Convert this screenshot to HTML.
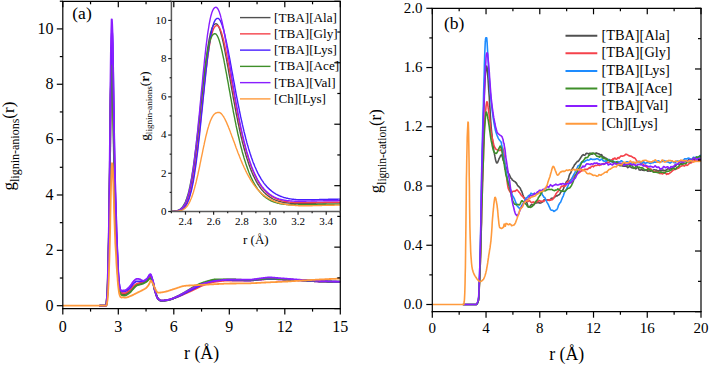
<!DOCTYPE html>
<html><head><meta charset="utf-8"><style>
html,body{margin:0;padding:0;background:#fff;width:709px;height:365px;overflow:hidden;position:relative}
</style></head><body>
<svg width="709" height="365" viewBox="0 0 709 365" style="position:absolute;left:0;top:0">
<rect width="709" height="365" fill="#fff"/>
<g font-family='"Liberation Serif", serif' fill="#000">
<g clip-path="url(#clipL)">
<polyline points="99.8,305.7 100.0,305.7 100.2,305.7 100.4,305.7 100.5,305.7 100.7,305.7 100.9,305.7 101.1,305.7 101.3,305.7 101.5,305.7 101.7,305.7 101.8,305.7 102.0,305.7 102.2,305.7 102.4,305.7 102.6,305.7 102.8,305.7 102.9,305.7 103.1,305.7 103.3,305.7 103.5,305.7 103.7,305.7 103.9,305.7 104.1,305.7 104.2,305.7 104.4,305.7 104.6,305.7 104.8,305.7 105.0,305.7 105.2,305.7 105.3,305.7 105.5,305.7 105.7,305.7 105.9,305.7 106.1,305.3 106.3,304.8 106.5,303.6 106.6,301.8 106.8,299.8 107.0,297.7 107.2,295.4 107.4,292.3 107.6,287.8 107.8,282.2 107.9,275.8 108.1,269.2 108.3,262.0 108.5,254.2 108.7,245.6 108.9,236.3 109.0,226.2 109.2,214.5 109.4,201.4 109.6,187.4 109.8,173.0 110.0,158.4 110.2,142.4 110.3,126.3 110.5,111.8 110.7,97.8 110.9,85.4 111.1,76.9 111.3,69.9 111.5,64.0 111.6,60.2 111.8,59.4 112.0,61.1 112.2,64.2 112.4,68.4 112.6,73.3 112.8,81.3 112.9,92.0 113.1,103.5 113.3,114.2 113.5,124.8 113.7,135.5 113.9,146.0 114.0,155.8 114.2,165.4 114.4,174.7 114.6,183.3 114.8,191.0 115.0,197.4 115.2,202.9 115.3,208.1 115.5,213.4 115.7,219.3 115.9,225.4 116.1,230.9 116.3,236.1 116.4,240.9 116.6,245.5 116.8,249.8 117.0,254.0 117.2,258.0 117.4,261.9 117.6,265.6 117.7,269.3 117.9,272.8 118.1,275.9 118.3,278.5 118.7,282.6 119.0,285.9 119.4,288.5 119.8,290.4 120.2,291.8 120.5,292.7 120.9,293.3 121.3,293.7 121.6,293.9 122.0,294.0 122.4,294.1 122.7,294.2 123.1,294.2 123.5,294.3 123.8,294.3 124.2,294.3 124.6,294.3 125.0,294.2 125.3,294.1 125.7,294.0 126.1,293.9 126.4,293.7 126.8,293.5 127.2,293.3 127.6,293.1 127.9,292.8 128.3,292.6 128.7,292.3 129.0,292.1 129.4,291.9 129.8,291.6 130.1,291.3 130.5,290.9 130.9,290.6 131.2,290.2 131.6,289.8 132.0,289.3 132.4,288.9 132.7,288.5 133.1,288.1 133.5,287.7 133.8,287.3 134.2,287.0 134.6,286.6 135.0,286.3 135.3,286.0 135.7,285.7 136.1,285.4 136.4,285.1 136.8,284.9 137.2,284.8 137.5,284.7 137.9,284.6 138.3,284.5 138.7,284.4 139.0,284.3 139.4,284.2 139.8,284.1 140.1,283.9 140.5,283.8 140.9,283.7 141.2,283.6 141.6,283.5 142.0,283.4 142.4,283.3 142.7,283.1 143.1,283.0 143.5,282.8 143.8,282.7 144.2,282.5 144.6,282.3 144.9,282.1 145.3,281.9 145.7,281.7 146.1,281.4 146.4,281.2 146.8,280.9 147.2,280.6 147.5,280.3 147.9,279.8 148.3,279.3 148.6,278.8 149.0,278.4 149.4,278.0 149.8,277.7 150.1,277.5 150.5,277.5 150.9,277.8 151.2,278.4 151.6,279.1 152.0,280.0 152.3,280.9 152.7,281.8 153.1,283.0 153.5,284.4 153.8,286.0 154.2,287.6 154.6,289.2 154.9,290.6 155.3,291.9 155.7,293.0 156.0,294.1 156.4,295.2 156.8,296.3 157.2,297.2 157.5,298.0 157.9,298.6 158.3,299.0 158.6,299.3 159.0,299.6 159.4,299.9 159.7,300.1 160.1,300.4 160.5,300.5 160.9,300.6 161.2,300.7 161.6,300.7 162.0,300.7 162.3,300.7 162.7,300.7 163.1,300.6 163.4,300.6 163.8,300.6 164.2,300.5 164.6,300.5 164.9,300.4 165.3,300.4 165.7,300.3 166.0,300.3 166.4,300.2 166.8,300.1 167.1,300.1 167.5,300.0 167.9,300.0 168.3,299.9 168.6,299.8 169.0,299.7 169.4,299.7 169.7,299.6 170.1,299.5 170.5,299.3 170.8,299.2 171.2,299.1 171.6,299.0 172.0,298.9 172.3,298.7 172.7,298.6 173.1,298.4 173.4,298.3 173.8,298.1 174.2,298.0 174.5,297.8 174.9,297.7 175.3,297.5 175.7,297.4 176.0,297.2 176.4,297.0 176.8,296.9 177.1,296.7 177.5,296.6 177.9,296.4 178.2,296.2 178.6,296.1 179.0,295.9 179.4,295.7 179.7,295.6 180.1,295.4 180.5,295.2 180.8,295.0 181.2,294.9 181.6,294.7 181.9,294.5 182.3,294.3 182.7,294.1 183.1,293.9 183.4,293.7 183.8,293.5 184.2,293.3 184.5,293.2 184.9,293.0 185.3,292.8 185.6,292.6 186.0,292.4 186.4,292.2 186.8,292.0 187.1,291.8 187.5,291.6 187.9,291.5 188.2,291.3 188.6,291.1 189.0,290.9 189.3,290.7 189.7,290.5 190.1,290.3 190.5,290.1 190.8,289.9 191.2,289.7 191.6,289.5 191.9,289.3 192.3,289.1 192.7,288.9 193.0,288.7 193.4,288.5 193.8,288.4 194.2,288.2 194.5,288.0 194.9,287.8 195.3,287.6 195.6,287.4 196.0,287.3 196.4,287.1 196.7,286.9 197.1,286.7 197.5,286.5 197.9,286.3 198.2,286.1 198.6,286.0 199.0,285.8 199.3,285.6 199.7,285.4 200.1,285.2 200.4,285.1 200.8,284.9 201.2,284.7 201.6,284.6 201.9,284.4 202.3,284.3 202.7,284.1 203.0,284.0 203.4,283.8 203.8,283.7 204.1,283.6 204.5,283.4 204.9,283.3 205.3,283.1 205.6,283.0 206.0,282.8 206.4,282.7 206.7,282.5 207.1,282.4 207.5,282.3 207.8,282.1 208.2,282.0 208.6,281.8 209.0,281.7 209.3,281.6 209.7,281.4 210.1,281.3 210.4,281.2 210.8,281.1 211.2,280.9 211.5,280.8 211.9,280.7 212.3,280.6 212.7,280.5 213.0,280.4 213.4,280.3 213.8,280.3 214.1,280.2 214.5,280.1 214.9,280.1 215.2,280.0 215.6,280.0 216.0,280.0 216.4,280.0 216.7,279.9 217.1,279.9 217.5,279.9 217.8,279.9 218.2,279.9 218.6,279.9 218.9,279.9 219.3,279.9 219.7,279.8 220.1,279.8 220.4,279.8 220.8,279.8 221.2,279.8 221.5,279.8 221.9,279.8 222.3,279.8 222.6,279.8 223.0,279.8 223.4,279.7 223.8,279.7 224.1,279.7 224.5,279.7 224.9,279.7 225.2,279.7 225.6,279.7 226.0,279.7 226.3,279.7 226.7,279.7 227.1,279.7 227.5,279.7 227.8,279.7 228.2,279.7 228.6,279.7 228.9,279.7 229.3,279.7 229.7,279.7 230.0,279.7 230.4,279.7 230.8,279.7 231.2,279.7 231.5,279.7 231.9,279.7 232.3,279.7 232.6,279.7 233.0,279.7 233.4,279.7 233.7,279.7 234.1,279.7 234.5,279.7 234.9,279.7 235.2,279.7 235.6,279.7 236.0,279.8 236.3,279.8 236.7,279.8 237.1,279.8 237.4,279.8 237.8,279.8 238.2,279.8 238.6,279.8 238.9,279.8 239.3,279.8 239.7,279.8 240.0,279.8 240.4,279.8 240.8,279.8 241.1,279.9 241.5,279.9 241.9,279.9 242.3,279.9 242.6,279.9 243.0,279.9 243.4,279.9 243.7,279.9 244.1,279.9 244.5,279.9 244.8,279.9 245.2,279.9 245.6,279.9 246.0,279.9 246.3,279.9 246.7,279.9 247.1,279.9 247.4,279.9 247.8,280.0 248.2,280.0 248.5,280.0 248.9,280.0 249.3,280.0 249.7,280.0 250.0,280.0 250.4,280.0 250.8,279.9 251.1,279.9 251.5,279.9 251.9,279.9 252.2,279.9 252.6,279.9 253.0,279.8 253.4,279.8 253.7,279.8 254.1,279.8 254.5,279.7 254.8,279.7 255.2,279.7 255.6,279.7 255.9,279.6 256.3,279.6 256.7,279.6 257.1,279.5 257.4,279.5 257.8,279.5 258.2,279.5 258.5,279.4 258.9,279.4 259.3,279.4 259.6,279.3 260.0,279.3 260.4,279.3 260.8,279.3 261.1,279.2 261.5,279.2 261.9,279.1 262.2,279.1 262.6,279.1 263.0,279.0 263.3,279.0 263.7,279.0 264.1,278.9 264.5,278.9 264.8,278.8 265.2,278.8 265.6,278.8 265.9,278.7 266.3,278.7 266.7,278.7 267.0,278.7 267.4,278.6 267.8,278.6 268.2,278.6 268.5,278.6 268.9,278.6 269.3,278.6 269.6,278.6 270.0,278.6 270.4,278.6 270.7,278.6 271.1,278.6 271.5,278.6 271.9,278.6 272.2,278.6 272.6,278.6 273.0,278.7 273.3,278.7 273.7,278.7 274.1,278.7 274.4,278.7 274.8,278.7 275.2,278.8 275.6,278.8 275.9,278.8 276.3,278.8 276.7,278.9 277.0,278.9 277.4,278.9 277.8,278.9 278.1,279.0 278.5,279.0 278.9,279.0 279.3,279.0 279.6,279.0 280.0,279.1 280.4,279.1 280.7,279.1 281.1,279.1 281.5,279.1 281.8,279.2 282.2,279.2 282.6,279.2 283.0,279.2 283.3,279.2 283.7,279.3 284.1,279.3 284.4,279.3 284.8,279.3 285.2,279.3 285.5,279.4 285.9,279.4 286.3,279.4 286.7,279.4 287.0,279.4 287.4,279.5 287.8,279.5 288.1,279.5 288.5,279.5 288.9,279.5 289.2,279.5 289.6,279.6 290.0,279.6 290.4,279.6 290.7,279.6 291.1,279.6 291.5,279.7 291.8,279.7 292.2,279.7 292.6,279.7 292.9,279.7 293.3,279.8 293.7,279.8 294.1,279.8 294.4,279.8 294.8,279.8 295.2,279.9 295.5,279.9 295.9,279.9 296.3,279.9 296.6,279.9 297.0,280.0 297.4,280.0 297.8,280.0 298.1,280.0 298.5,280.0 298.9,280.1 299.2,280.1 299.6,280.1 300.0,280.1 300.3,280.1 300.7,280.2 301.1,280.2 301.5,280.2 301.8,280.2 302.2,280.2 302.6,280.3 302.9,280.3 303.3,280.3 303.7,280.3 304.0,280.3 304.4,280.4 304.8,280.4 305.2,280.4 305.5,280.4 305.9,280.5 306.3,280.5 306.6,280.5 307.0,280.5 307.4,280.5 307.7,280.6 308.1,280.6 308.5,280.6 308.9,280.6 309.2,280.6 309.6,280.7 310.0,280.7 310.3,280.7 310.7,280.7 311.1,280.8 311.4,280.8 311.8,280.8 312.2,280.8 312.6,280.9 312.9,280.9 313.3,280.9 313.7,280.9 314.0,281.0 314.4,281.0 314.8,281.0 315.1,281.0 315.5,281.1 315.9,281.1 316.3,281.1 316.6,281.1 317.0,281.1 317.4,281.2 317.7,281.2 318.1,281.2 318.5,281.2 318.8,281.2 319.2,281.3 319.6,281.3 320.0,281.3 320.3,281.3 320.7,281.3 321.1,281.3 321.4,281.3 321.8,281.3 322.2,281.4 322.5,281.4 322.9,281.4 323.3,281.4 323.7,281.4 324.0,281.4 324.4,281.4 324.8,281.4 325.1,281.4 325.5,281.4 325.9,281.4 326.2,281.4 326.6,281.5 327.0,281.5 327.4,281.5 327.7,281.5 328.1,281.5 328.5,281.5 328.8,281.5 329.2,281.5 329.6,281.5 329.9,281.5 330.3,281.5 330.7,281.5 331.1,281.5 331.4,281.5 331.8,281.5 332.2,281.6 332.5,281.6 332.9,281.6 333.3,281.6 333.6,281.6 334.0,281.6 334.4,281.6 334.8,281.6 335.1,281.6 335.5,281.6 335.9,281.6 336.2,281.6 336.6,281.6 337.0,281.6 337.3,281.6 337.7,281.6 338.1,281.6 338.5,281.6 338.8,281.6 339.2,281.6 339.6,281.6 339.9,281.6 340.3,281.6" fill="none" stroke="#505050" stroke-width="1.8" stroke-linejoin="bevel" stroke-miterlimit="10" stroke-linecap="round"/>
<polyline points="99.8,305.7 100.0,305.7 100.2,305.7 100.4,305.7 100.5,305.7 100.7,305.7 100.9,305.7 101.1,305.7 101.3,305.7 101.5,305.7 101.7,305.7 101.8,305.7 102.0,305.7 102.2,305.7 102.4,305.7 102.6,305.7 102.8,305.7 102.9,305.7 103.1,305.7 103.3,305.7 103.5,305.7 103.7,305.7 103.9,305.7 104.1,305.7 104.2,305.7 104.4,305.7 104.6,305.7 104.8,305.7 105.0,305.7 105.2,305.7 105.3,305.7 105.5,305.7 105.7,305.7 105.9,305.7 106.1,305.6 106.3,305.2 106.5,304.5 106.6,303.1 106.8,301.2 107.0,299.1 107.2,296.9 107.4,294.4 107.6,290.9 107.8,285.9 107.9,279.8 108.1,273.1 108.3,266.1 108.5,258.5 108.7,250.2 108.9,241.1 109.0,231.2 109.2,220.3 109.4,207.7 109.6,193.9 109.8,179.1 110.0,164.0 110.2,148.5 110.3,131.7 110.5,115.1 110.7,100.1 110.9,85.6 111.1,73.3 111.3,65.1 111.5,58.0 111.6,52.2 111.8,48.8 112.0,48.6 112.2,50.6 112.4,54.2 112.6,58.7 112.8,64.2 112.9,73.3 113.1,84.8 113.3,96.8 113.5,107.7 113.7,118.9 113.9,130.1 114.0,141.0 114.2,151.1 114.4,161.1 114.6,170.7 114.8,179.5 115.0,187.3 115.2,193.8 115.3,199.4 115.5,204.8 115.7,210.5 115.9,216.7 116.1,223.0 116.3,228.7 116.4,234.0 116.6,239.0 116.8,243.8 117.0,248.4 117.2,252.7 117.4,256.9 117.6,261.0 117.7,264.9 117.9,268.7 118.1,272.3 118.3,275.4 118.7,280.2 119.0,284.0 119.4,286.9 119.8,289.0 120.2,290.5 120.5,291.5 120.9,292.2 121.3,292.6 121.6,292.9 122.0,293.0 122.4,293.0 122.7,293.1 123.1,293.1 123.5,293.2 123.8,293.2 124.2,293.2 124.6,293.2 125.0,293.1 125.3,293.0 125.7,292.9 126.1,292.7 126.4,292.5 126.8,292.3 127.2,292.0 127.6,291.8 127.9,291.5 128.3,291.3 128.7,291.0 129.0,290.7 129.4,290.5 129.8,290.2 130.1,289.9 130.5,289.5 130.9,289.1 131.2,288.7 131.6,288.3 132.0,287.9 132.4,287.5 132.7,287.0 133.1,286.6 133.5,286.3 133.8,285.9 134.2,285.6 134.6,285.3 135.0,285.0 135.3,284.7 135.7,284.5 136.1,284.2 136.4,284.0 136.8,283.8 137.2,283.7 137.5,283.6 137.9,283.5 138.3,283.4 138.7,283.3 139.0,283.2 139.4,283.1 139.8,282.9 140.1,282.8 140.5,282.7 140.9,282.5 141.2,282.4 141.6,282.2 142.0,282.1 142.4,281.9 142.7,281.8 143.1,281.6 143.5,281.5 143.8,281.3 144.2,281.2 144.6,281.1 144.9,280.9 145.3,280.8 145.7,280.6 146.1,280.5 146.4,280.3 146.8,280.1 147.2,279.8 147.5,279.5 147.9,279.0 148.3,278.5 148.6,278.0 149.0,277.6 149.4,277.2 149.8,276.8 150.1,276.7 150.5,276.7 150.9,277.0 151.2,277.6 151.6,278.4 152.0,279.4 152.3,280.3 152.7,281.3 153.1,282.6 153.5,284.1 153.8,285.7 154.2,287.4 154.6,289.1 154.9,290.6 155.3,291.9 155.7,293.0 156.0,294.2 156.4,295.3 156.8,296.3 157.2,297.2 157.5,298.0 157.9,298.6 158.3,299.0 158.6,299.3 159.0,299.6 159.4,299.9 159.7,300.1 160.1,300.4 160.5,300.5 160.9,300.6 161.2,300.7 161.6,300.7 162.0,300.7 162.3,300.7 162.7,300.7 163.1,300.6 163.4,300.6 163.8,300.6 164.2,300.5 164.6,300.5 164.9,300.4 165.3,300.4 165.7,300.3 166.0,300.3 166.4,300.2 166.8,300.1 167.1,300.1 167.5,300.0 167.9,300.0 168.3,299.9 168.6,299.8 169.0,299.7 169.4,299.7 169.7,299.6 170.1,299.5 170.5,299.4 170.8,299.3 171.2,299.2 171.6,299.0 172.0,298.9 172.3,298.8 172.7,298.7 173.1,298.5 173.4,298.4 173.8,298.3 174.2,298.1 174.5,298.0 174.9,297.8 175.3,297.7 175.7,297.5 176.0,297.4 176.4,297.3 176.8,297.1 177.1,297.0 177.5,296.8 177.9,296.7 178.2,296.6 178.6,296.4 179.0,296.3 179.4,296.1 179.7,296.0 180.1,295.8 180.5,295.7 180.8,295.5 181.2,295.4 181.6,295.2 181.9,295.1 182.3,294.9 182.7,294.7 183.1,294.6 183.4,294.4 183.8,294.2 184.2,294.1 184.5,293.9 184.9,293.8 185.3,293.6 185.6,293.4 186.0,293.3 186.4,293.1 186.8,292.9 187.1,292.8 187.5,292.6 187.9,292.4 188.2,292.3 188.6,292.1 189.0,291.9 189.3,291.8 189.7,291.6 190.1,291.4 190.5,291.3 190.8,291.1 191.2,290.9 191.6,290.7 191.9,290.6 192.3,290.4 192.7,290.2 193.0,290.0 193.4,289.9 193.8,289.7 194.2,289.5 194.5,289.3 194.9,289.2 195.3,289.0 195.6,288.8 196.0,288.7 196.4,288.5 196.7,288.3 197.1,288.1 197.5,287.9 197.9,287.7 198.2,287.5 198.6,287.4 199.0,287.2 199.3,287.0 199.7,286.8 200.1,286.6 200.4,286.5 200.8,286.3 201.2,286.1 201.6,286.0 201.9,285.8 202.3,285.6 202.7,285.5 203.0,285.4 203.4,285.2 203.8,285.1 204.1,285.0 204.5,284.8 204.9,284.7 205.3,284.6 205.6,284.4 206.0,284.3 206.4,284.2 206.7,284.1 207.1,283.9 207.5,283.8 207.8,283.7 208.2,283.6 208.6,283.5 209.0,283.3 209.3,283.2 209.7,283.1 210.1,283.0 210.4,282.9 210.8,282.8 211.2,282.7 211.5,282.6 211.9,282.5 212.3,282.4 212.7,282.3 213.0,282.2 213.4,282.1 213.8,282.1 214.1,282.0 214.5,281.9 214.9,281.8 215.2,281.8 215.6,281.7 216.0,281.7 216.4,281.6 216.7,281.6 217.1,281.5 217.5,281.5 217.8,281.4 218.2,281.4 218.6,281.3 218.9,281.3 219.3,281.2 219.7,281.2 220.1,281.2 220.4,281.1 220.8,281.1 221.2,281.0 221.5,281.0 221.9,280.9 222.3,280.9 222.6,280.9 223.0,280.8 223.4,280.8 223.8,280.8 224.1,280.7 224.5,280.7 224.9,280.7 225.2,280.7 225.6,280.6 226.0,280.6 226.3,280.6 226.7,280.6 227.1,280.6 227.5,280.5 227.8,280.5 228.2,280.5 228.6,280.5 228.9,280.5 229.3,280.5 229.7,280.5 230.0,280.5 230.4,280.5 230.8,280.5 231.2,280.5 231.5,280.5 231.9,280.5 232.3,280.5 232.6,280.5 233.0,280.5 233.4,280.5 233.7,280.5 234.1,280.5 234.5,280.5 234.9,280.5 235.2,280.5 235.6,280.5 236.0,280.5 236.3,280.5 236.7,280.5 237.1,280.5 237.4,280.5 237.8,280.5 238.2,280.5 238.6,280.5 238.9,280.5 239.3,280.5 239.7,280.5 240.0,280.5 240.4,280.5 240.8,280.5 241.1,280.5 241.5,280.5 241.9,280.5 242.3,280.5 242.6,280.5 243.0,280.5 243.4,280.5 243.7,280.5 244.1,280.5 244.5,280.5 244.8,280.5 245.2,280.5 245.6,280.5 246.0,280.5 246.3,280.5 246.7,280.5 247.1,280.5 247.4,280.5 247.8,280.5 248.2,280.5 248.5,280.5 248.9,280.5 249.3,280.5 249.7,280.5 250.0,280.5 250.4,280.5 250.8,280.5 251.1,280.5 251.5,280.4 251.9,280.4 252.2,280.4 252.6,280.4 253.0,280.3 253.4,280.3 253.7,280.2 254.1,280.2 254.5,280.2 254.8,280.1 255.2,280.1 255.6,280.0 255.9,280.0 256.3,279.9 256.7,279.9 257.1,279.8 257.4,279.8 257.8,279.8 258.2,279.7 258.5,279.7 258.9,279.7 259.3,279.7 259.6,279.6 260.0,279.6 260.4,279.6 260.8,279.6 261.1,279.5 261.5,279.5 261.9,279.5 262.2,279.4 262.6,279.4 263.0,279.4 263.3,279.4 263.7,279.4 264.1,279.3 264.5,279.3 264.8,279.3 265.2,279.3 265.6,279.2 265.9,279.2 266.3,279.2 266.7,279.2 267.0,279.2 267.4,279.2 267.8,279.2 268.2,279.1 268.5,279.1 268.9,279.1 269.3,279.1 269.6,279.1 270.0,279.1 270.4,279.1 270.7,279.1 271.1,279.1 271.5,279.1 271.9,279.1 272.2,279.1 272.6,279.2 273.0,279.2 273.3,279.2 273.7,279.2 274.1,279.2 274.4,279.2 274.8,279.2 275.2,279.2 275.6,279.2 275.9,279.2 276.3,279.2 276.7,279.3 277.0,279.3 277.4,279.3 277.8,279.3 278.1,279.3 278.5,279.3 278.9,279.3 279.3,279.3 279.6,279.4 280.0,279.4 280.4,279.4 280.7,279.4 281.1,279.4 281.5,279.4 281.8,279.4 282.2,279.4 282.6,279.5 283.0,279.5 283.3,279.5 283.7,279.5 284.1,279.5 284.4,279.5 284.8,279.5 285.2,279.6 285.5,279.6 285.9,279.6 286.3,279.6 286.7,279.6 287.0,279.6 287.4,279.7 287.8,279.7 288.1,279.7 288.5,279.7 288.9,279.7 289.2,279.8 289.6,279.8 290.0,279.8 290.4,279.8 290.7,279.8 291.1,279.9 291.5,279.9 291.8,279.9 292.2,279.9 292.6,279.9 292.9,280.0 293.3,280.0 293.7,280.0 294.1,280.0 294.4,280.0 294.8,280.1 295.2,280.1 295.5,280.1 295.9,280.1 296.3,280.2 296.6,280.2 297.0,280.2 297.4,280.2 297.8,280.2 298.1,280.3 298.5,280.3 298.9,280.3 299.2,280.3 299.6,280.4 300.0,280.4 300.3,280.4 300.7,280.4 301.1,280.4 301.5,280.5 301.8,280.5 302.2,280.5 302.6,280.5 302.9,280.6 303.3,280.6 303.7,280.6 304.0,280.6 304.4,280.6 304.8,280.7 305.2,280.7 305.5,280.7 305.9,280.7 306.3,280.7 306.6,280.8 307.0,280.8 307.4,280.8 307.7,280.8 308.1,280.9 308.5,280.9 308.9,280.9 309.2,280.9 309.6,280.9 310.0,281.0 310.3,281.0 310.7,281.0 311.1,281.0 311.4,281.1 311.8,281.1 312.2,281.1 312.6,281.1 312.9,281.2 313.3,281.2 313.7,281.2 314.0,281.2 314.4,281.3 314.8,281.3 315.1,281.3 315.5,281.3 315.9,281.4 316.3,281.4 316.6,281.4 317.0,281.4 317.4,281.4 317.7,281.5 318.1,281.5 318.5,281.5 318.8,281.5 319.2,281.5 319.6,281.5 320.0,281.6 320.3,281.6 320.7,281.6 321.1,281.6 321.4,281.6 321.8,281.6 322.2,281.6 322.5,281.6 322.9,281.6 323.3,281.7 323.7,281.7 324.0,281.7 324.4,281.7 324.8,281.7 325.1,281.7 325.5,281.7 325.9,281.7 326.2,281.7 326.6,281.7 327.0,281.7 327.4,281.7 327.7,281.8 328.1,281.8 328.5,281.8 328.8,281.8 329.2,281.8 329.6,281.8 329.9,281.8 330.3,281.8 330.7,281.8 331.1,281.8 331.4,281.8 331.8,281.8 332.2,281.8 332.5,281.8 332.9,281.8 333.3,281.8 333.6,281.9 334.0,281.9 334.4,281.9 334.8,281.9 335.1,281.9 335.5,281.9 335.9,281.9 336.2,281.9 336.6,281.9 337.0,281.9 337.3,281.9 337.7,281.9 338.1,281.9 338.5,281.9 338.8,281.9 339.2,281.9 339.6,281.9 339.9,281.9 340.3,281.9" fill="none" stroke="#F5424B" stroke-width="1.8" stroke-linejoin="bevel" stroke-miterlimit="10" stroke-linecap="round"/>
<polyline points="99.8,305.7 100.0,305.7 100.2,305.7 100.4,305.7 100.5,305.7 100.7,305.7 100.9,305.7 101.1,305.7 101.3,305.7 101.5,305.7 101.7,305.7 101.8,305.7 102.0,305.7 102.2,305.7 102.4,305.7 102.6,305.7 102.8,305.7 102.9,305.7 103.1,305.7 103.3,305.7 103.5,305.7 103.7,305.7 103.9,305.7 104.1,305.7 104.2,305.7 104.4,305.7 104.6,305.7 104.8,305.7 105.0,305.7 105.2,305.7 105.3,305.7 105.5,305.7 105.7,305.7 105.9,305.7 106.1,305.7 106.3,305.4 106.5,304.9 106.6,303.8 106.8,302.0 107.0,299.8 107.2,297.5 107.4,295.1 107.6,292.0 107.8,287.5 107.9,281.5 108.1,274.6 108.3,267.3 108.5,259.6 108.7,251.1 108.9,241.8 109.0,231.7 109.2,220.8 109.4,208.3 109.6,194.2 109.8,178.9 110.0,162.9 110.2,146.8 110.3,129.5 110.5,111.4 110.7,94.7 110.9,79.0 111.1,64.4 111.3,53.6 111.5,45.7 111.6,38.6 111.8,33.6 112.0,31.7 112.2,32.8 112.4,35.9 112.6,40.3 112.8,45.4 112.9,53.0 113.1,64.3 113.3,77.0 113.5,89.2 113.7,100.9 113.9,112.8 114.0,124.7 114.2,135.8 114.4,146.5 114.6,156.9 114.8,166.8 115.0,175.7 115.2,183.2 115.3,189.6 115.5,195.4 115.7,201.2 115.9,207.6 116.1,214.3 116.3,220.8 116.4,226.6 116.6,232.1 116.8,237.4 117.0,242.4 117.2,247.2 117.4,251.8 117.6,256.2 117.7,260.4 117.9,264.5 118.1,268.5 118.3,272.1 118.7,277.6 119.0,281.8 119.4,285.0 119.8,287.3 120.2,288.9 120.5,290.0 120.9,290.7 121.3,291.1 121.6,291.3 122.0,291.3 122.4,291.3 122.7,291.3 123.1,291.3 123.5,291.2 123.8,291.3 124.2,291.3 124.6,291.3 125.0,291.2 125.3,291.1 125.7,290.9 126.1,290.8 126.4,290.6 126.8,290.4 127.2,290.1 127.6,289.9 127.9,289.6 128.3,289.4 128.7,289.1 129.0,288.8 129.4,288.5 129.8,288.2 130.1,287.9 130.5,287.4 130.9,287.0 131.2,286.4 131.6,285.9 132.0,285.4 132.4,284.9 132.7,284.4 133.1,283.9 133.5,283.5 133.8,283.2 134.2,282.9 134.6,282.6 135.0,282.3 135.3,282.0 135.7,281.7 136.1,281.5 136.4,281.4 136.8,281.3 137.2,281.3 137.5,281.3 137.9,281.3 138.3,281.3 138.7,281.3 139.0,281.3 139.4,281.3 139.8,281.3 140.1,281.3 140.5,281.3 140.9,281.3 141.2,281.3 141.6,281.3 142.0,281.3 142.4,281.3 142.7,281.3 143.1,281.3 143.5,281.3 143.8,281.2 144.2,281.1 144.6,280.9 144.9,280.7 145.3,280.4 145.7,280.2 146.1,279.9 146.4,279.6 146.8,279.3 147.2,279.0 147.5,278.5 147.9,277.9 148.3,277.2 148.6,276.6 149.0,275.9 149.4,275.4 149.8,275.0 150.1,274.7 150.5,274.8 150.9,275.2 151.2,276.0 151.6,277.0 152.0,278.2 152.3,279.4 152.7,280.6 153.1,282.0 153.5,283.6 153.8,285.4 154.2,287.2 154.6,289.0 154.9,290.5 155.3,291.9 155.7,293.0 156.0,294.2 156.4,295.3 156.8,296.3 157.2,297.2 157.5,298.0 157.9,298.6 158.3,299.0 158.6,299.3 159.0,299.6 159.4,299.9 159.7,300.1 160.1,300.4 160.5,300.5 160.9,300.6 161.2,300.7 161.6,300.7 162.0,300.7 162.3,300.7 162.7,300.7 163.1,300.6 163.4,300.6 163.8,300.6 164.2,300.5 164.6,300.5 164.9,300.4 165.3,300.4 165.7,300.3 166.0,300.3 166.4,300.2 166.8,300.1 167.1,300.1 167.5,300.0 167.9,300.0 168.3,299.9 168.6,299.8 169.0,299.7 169.4,299.7 169.7,299.6 170.1,299.5 170.5,299.4 170.8,299.3 171.2,299.2 171.6,299.1 172.0,298.9 172.3,298.8 172.7,298.7 173.1,298.6 173.4,298.4 173.8,298.3 174.2,298.1 174.5,298.0 174.9,297.9 175.3,297.7 175.7,297.6 176.0,297.4 176.4,297.3 176.8,297.1 177.1,297.0 177.5,296.8 177.9,296.7 178.2,296.5 178.6,296.4 179.0,296.2 179.4,296.0 179.7,295.9 180.1,295.7 180.5,295.5 180.8,295.3 181.2,295.2 181.6,295.0 181.9,294.8 182.3,294.6 182.7,294.4 183.1,294.2 183.4,294.0 183.8,293.8 184.2,293.6 184.5,293.4 184.9,293.2 185.3,293.1 185.6,292.9 186.0,292.7 186.4,292.5 186.8,292.3 187.1,292.1 187.5,291.9 187.9,291.7 188.2,291.5 188.6,291.3 189.0,291.1 189.3,291.0 189.7,290.8 190.1,290.6 190.5,290.4 190.8,290.2 191.2,290.0 191.6,289.8 191.9,289.6 192.3,289.4 192.7,289.2 193.0,289.0 193.4,288.8 193.8,288.6 194.2,288.4 194.5,288.3 194.9,288.1 195.3,287.9 195.6,287.7 196.0,287.5 196.4,287.3 196.7,287.2 197.1,287.0 197.5,286.8 197.9,286.6 198.2,286.4 198.6,286.2 199.0,286.1 199.3,285.9 199.7,285.7 200.1,285.5 200.4,285.4 200.8,285.2 201.2,285.0 201.6,284.9 201.9,284.7 202.3,284.5 202.7,284.4 203.0,284.2 203.4,284.1 203.8,284.0 204.1,283.8 204.5,283.7 204.9,283.5 205.3,283.4 205.6,283.2 206.0,283.1 206.4,282.9 206.7,282.8 207.1,282.6 207.5,282.5 207.8,282.3 208.2,282.2 208.6,282.1 209.0,281.9 209.3,281.8 209.7,281.6 210.1,281.5 210.4,281.4 210.8,281.3 211.2,281.1 211.5,281.0 211.9,280.9 212.3,280.8 212.7,280.7 213.0,280.6 213.4,280.6 213.8,280.5 214.1,280.4 214.5,280.4 214.9,280.3 215.2,280.3 215.6,280.3 216.0,280.2 216.4,280.2 216.7,280.2 217.1,280.2 217.5,280.2 217.8,280.2 218.2,280.2 218.6,280.2 218.9,280.2 219.3,280.2 219.7,280.2 220.1,280.2 220.4,280.2 220.8,280.2 221.2,280.2 221.5,280.2 221.9,280.2 222.3,280.2 222.6,280.2 223.0,280.2 223.4,280.2 223.8,280.2 224.1,280.2 224.5,280.2 224.9,280.2 225.2,280.2 225.6,280.2 226.0,280.2 226.3,280.2 226.7,280.2 227.1,280.2 227.5,280.2 227.8,280.2 228.2,280.2 228.6,280.2 228.9,280.2 229.3,280.2 229.7,280.2 230.0,280.2 230.4,280.2 230.8,280.2 231.2,280.2 231.5,280.2 231.9,280.2 232.3,280.3 232.6,280.3 233.0,280.3 233.4,280.3 233.7,280.3 234.1,280.3 234.5,280.3 234.9,280.3 235.2,280.3 235.6,280.3 236.0,280.3 236.3,280.3 236.7,280.3 237.1,280.3 237.4,280.3 237.8,280.3 238.2,280.3 238.6,280.4 238.9,280.4 239.3,280.4 239.7,280.4 240.0,280.4 240.4,280.4 240.8,280.4 241.1,280.4 241.5,280.4 241.9,280.4 242.3,280.4 242.6,280.4 243.0,280.4 243.4,280.4 243.7,280.5 244.1,280.5 244.5,280.5 244.8,280.5 245.2,280.5 245.6,280.5 246.0,280.5 246.3,280.5 246.7,280.5 247.1,280.5 247.4,280.5 247.8,280.5 248.2,280.5 248.5,280.5 248.9,280.5 249.3,280.5 249.7,280.5 250.0,280.5 250.4,280.5 250.8,280.5 251.1,280.5 251.5,280.4 251.9,280.4 252.2,280.4 252.6,280.4 253.0,280.3 253.4,280.3 253.7,280.2 254.1,280.2 254.5,280.2 254.8,280.1 255.2,280.1 255.6,280.0 255.9,280.0 256.3,279.9 256.7,279.9 257.1,279.9 257.4,279.8 257.8,279.8 258.2,279.7 258.5,279.7 258.9,279.7 259.3,279.7 259.6,279.6 260.0,279.6 260.4,279.6 260.8,279.5 261.1,279.5 261.5,279.5 261.9,279.4 262.2,279.4 262.6,279.4 263.0,279.3 263.3,279.3 263.7,279.3 264.1,279.2 264.5,279.2 264.8,279.2 265.2,279.2 265.6,279.1 265.9,279.1 266.3,279.1 266.7,279.1 267.0,279.1 267.4,279.0 267.8,279.0 268.2,279.0 268.5,279.0 268.9,279.0 269.3,279.0 269.6,279.0 270.0,279.0 270.4,279.0 270.7,279.0 271.1,279.0 271.5,279.0 271.9,279.0 272.2,279.0 272.6,279.0 273.0,279.0 273.3,279.1 273.7,279.1 274.1,279.1 274.4,279.1 274.8,279.1 275.2,279.1 275.6,279.1 275.9,279.2 276.3,279.2 276.7,279.2 277.0,279.2 277.4,279.2 277.8,279.2 278.1,279.3 278.5,279.3 278.9,279.3 279.3,279.3 279.6,279.3 280.0,279.4 280.4,279.4 280.7,279.4 281.1,279.4 281.5,279.4 281.8,279.4 282.2,279.5 282.6,279.5 283.0,279.5 283.3,279.5 283.7,279.5 284.1,279.5 284.4,279.6 284.8,279.6 285.2,279.6 285.5,279.6 285.9,279.6 286.3,279.6 286.7,279.7 287.0,279.7 287.4,279.7 287.8,279.7 288.1,279.7 288.5,279.8 288.9,279.8 289.2,279.8 289.6,279.8 290.0,279.8 290.4,279.9 290.7,279.9 291.1,279.9 291.5,279.9 291.8,279.9 292.2,280.0 292.6,280.0 292.9,280.0 293.3,280.0 293.7,280.0 294.1,280.1 294.4,280.1 294.8,280.1 295.2,280.1 295.5,280.1 295.9,280.2 296.3,280.2 296.6,280.2 297.0,280.2 297.4,280.2 297.8,280.3 298.1,280.3 298.5,280.3 298.9,280.3 299.2,280.3 299.6,280.4 300.0,280.4 300.3,280.4 300.7,280.4 301.1,280.5 301.5,280.5 301.8,280.5 302.2,280.5 302.6,280.5 302.9,280.6 303.3,280.6 303.7,280.6 304.0,280.6 304.4,280.6 304.8,280.7 305.2,280.7 305.5,280.7 305.9,280.7 306.3,280.7 306.6,280.8 307.0,280.8 307.4,280.8 307.7,280.8 308.1,280.9 308.5,280.9 308.9,280.9 309.2,280.9 309.6,280.9 310.0,281.0 310.3,281.0 310.7,281.0 311.1,281.0 311.4,281.1 311.8,281.1 312.2,281.1 312.6,281.1 312.9,281.2 313.3,281.2 313.7,281.2 314.0,281.2 314.4,281.3 314.8,281.3 315.1,281.3 315.5,281.3 315.9,281.4 316.3,281.4 316.6,281.4 317.0,281.4 317.4,281.4 317.7,281.5 318.1,281.5 318.5,281.5 318.8,281.5 319.2,281.5 319.6,281.5 320.0,281.6 320.3,281.6 320.7,281.6 321.1,281.6 321.4,281.6 321.8,281.6 322.2,281.6 322.5,281.6 322.9,281.6 323.3,281.7 323.7,281.7 324.0,281.7 324.4,281.7 324.8,281.7 325.1,281.7 325.5,281.7 325.9,281.7 326.2,281.7 326.6,281.7 327.0,281.7 327.4,281.7 327.7,281.8 328.1,281.8 328.5,281.8 328.8,281.8 329.2,281.8 329.6,281.8 329.9,281.8 330.3,281.8 330.7,281.8 331.1,281.8 331.4,281.8 331.8,281.8 332.2,281.8 332.5,281.8 332.9,281.8 333.3,281.8 333.6,281.9 334.0,281.9 334.4,281.9 334.8,281.9 335.1,281.9 335.5,281.9 335.9,281.9 336.2,281.9 336.6,281.9 337.0,281.9 337.3,281.9 337.7,281.9 338.1,281.9 338.5,281.9 338.8,281.9 339.2,281.9 339.6,281.9 339.9,281.9 340.3,281.9" fill="none" stroke="#481EFF" stroke-width="1.8" stroke-linejoin="bevel" stroke-miterlimit="10" stroke-linecap="round"/>
<polyline points="99.8,305.7 100.0,305.7 100.2,305.7 100.4,305.7 100.5,305.7 100.7,305.7 100.9,305.7 101.1,305.7 101.3,305.7 101.5,305.7 101.7,305.7 101.8,305.7 102.0,305.7 102.2,305.7 102.4,305.7 102.6,305.7 102.8,305.7 102.9,305.7 103.1,305.7 103.3,305.7 103.5,305.7 103.7,305.7 103.9,305.7 104.1,305.7 104.2,305.7 104.4,305.7 104.6,305.7 104.8,305.7 105.0,305.7 105.2,305.7 105.3,305.7 105.5,305.7 105.7,305.7 105.9,305.5 106.1,305.0 106.3,304.0 106.5,302.4 106.6,300.5 106.8,298.5 107.0,296.4 107.2,293.7 107.4,289.7 107.6,284.5 107.8,278.4 107.9,272.0 108.1,265.2 108.3,257.7 108.5,249.6 108.7,240.7 108.9,231.0 109.0,220.1 109.2,207.7 109.4,194.3 109.6,180.2 109.8,166.0 110.0,150.9 110.2,135.0 110.3,120.3 110.5,106.5 110.7,93.6 110.9,84.1 111.1,77.2 111.3,71.0 111.5,66.6 111.6,64.9 111.8,65.9 112.0,68.6 112.2,72.5 112.4,76.9 112.6,83.7 112.8,93.5 112.9,104.7 113.1,115.5 113.3,125.7 113.5,136.2 113.7,146.6 113.9,156.4 114.0,165.8 114.2,175.0 114.4,183.6 114.6,191.5 114.8,198.1 115.0,203.7 115.2,208.8 115.3,213.9 115.5,219.5 115.7,225.4 115.9,231.0 116.1,236.2 116.3,241.0 116.4,245.5 116.6,249.7 116.8,253.8 117.0,257.8 117.2,261.6 117.4,265.3 117.6,268.9 117.7,272.5 117.9,275.7 118.1,278.3 118.3,280.5 118.7,284.4 119.0,287.4 119.4,289.7 119.8,291.5 120.2,292.8 120.5,293.7 120.9,294.3 121.3,294.7 121.6,294.9 122.0,295.1 122.4,295.3 122.7,295.4 123.1,295.5 123.5,295.6 123.8,295.7 124.2,295.7 124.6,295.7 125.0,295.6 125.3,295.5 125.7,295.4 126.1,295.2 126.4,295.0 126.8,294.8 127.2,294.5 127.6,294.3 127.9,294.0 128.3,293.8 128.7,293.5 129.0,293.2 129.4,293.0 129.8,292.7 130.1,292.4 130.5,292.0 130.9,291.6 131.2,291.2 131.6,290.7 132.0,290.3 132.4,289.8 132.7,289.4 133.1,289.0 133.5,288.6 133.8,288.2 134.2,287.8 134.6,287.4 135.0,287.0 135.3,286.7 135.7,286.3 136.1,286.0 136.4,285.7 136.8,285.5 137.2,285.3 137.5,285.2 137.9,285.1 138.3,285.0 138.7,284.9 139.0,284.8 139.4,284.7 139.8,284.6 140.1,284.5 140.5,284.4 140.9,284.3 141.2,284.2 141.6,284.1 142.0,284.0 142.4,283.8 142.7,283.7 143.1,283.6 143.5,283.4 143.8,283.2 144.2,283.0 144.6,282.9 144.9,282.6 145.3,282.4 145.7,282.2 146.1,282.0 146.4,281.7 146.8,281.5 147.2,281.2 147.5,280.8 147.9,280.4 148.3,280.0 148.6,279.5 149.0,279.1 149.4,278.7 149.8,278.5 150.1,278.3 150.5,278.3 150.9,278.6 151.2,279.2 151.6,279.8 152.0,280.6 152.3,281.5 152.7,282.3 153.1,283.5 153.5,284.8 153.8,286.2 154.2,287.8 154.6,289.3 154.9,290.7 155.3,291.9 155.7,293.0 156.0,294.1 156.4,295.2 156.8,296.2 157.2,297.2 157.5,297.9 157.9,298.6 158.3,299.0 158.6,299.4 159.0,299.7 159.4,300.0 159.7,300.3 160.1,300.6 160.5,300.8 160.9,300.9 161.2,301.0 161.6,301.0 162.0,301.0 162.3,301.0 162.7,301.0 163.1,300.9 163.4,300.9 163.8,300.9 164.2,300.8 164.6,300.8 164.9,300.7 165.3,300.7 165.7,300.6 166.0,300.6 166.4,300.5 166.8,300.4 167.1,300.4 167.5,300.3 167.9,300.2 168.3,300.2 168.6,300.1 169.0,300.0 169.4,299.9 169.7,299.8 170.1,299.7 170.5,299.6 170.8,299.4 171.2,299.3 171.6,299.1 172.0,299.0 172.3,298.8 172.7,298.7 173.1,298.5 173.4,298.3 173.8,298.1 174.2,297.9 174.5,297.8 174.9,297.6 175.3,297.4 175.7,297.2 176.0,297.0 176.4,296.8 176.8,296.6 177.1,296.5 177.5,296.3 177.9,296.1 178.2,295.9 178.6,295.7 179.0,295.5 179.4,295.3 179.7,295.2 180.1,295.0 180.5,294.7 180.8,294.5 181.2,294.3 181.6,294.1 181.9,293.9 182.3,293.7 182.7,293.5 183.1,293.3 183.4,293.0 183.8,292.8 184.2,292.6 184.5,292.4 184.9,292.2 185.3,292.0 185.6,291.8 186.0,291.5 186.4,291.3 186.8,291.1 187.1,290.9 187.5,290.6 187.9,290.4 188.2,290.2 188.6,289.9 189.0,289.7 189.3,289.5 189.7,289.2 190.1,289.0 190.5,288.7 190.8,288.5 191.2,288.3 191.6,288.0 191.9,287.8 192.3,287.6 192.7,287.4 193.0,287.2 193.4,286.9 193.8,286.7 194.2,286.5 194.5,286.3 194.9,286.1 195.3,286.0 195.6,285.8 196.0,285.6 196.4,285.4 196.7,285.2 197.1,285.0 197.5,284.9 197.9,284.7 198.2,284.5 198.6,284.3 199.0,284.2 199.3,284.0 199.7,283.8 200.1,283.7 200.4,283.5 200.8,283.4 201.2,283.2 201.6,283.1 201.9,283.0 202.3,282.8 202.7,282.7 203.0,282.6 203.4,282.4 203.8,282.3 204.1,282.2 204.5,282.1 204.9,282.0 205.3,281.9 205.6,281.7 206.0,281.6 206.4,281.5 206.7,281.4 207.1,281.3 207.5,281.1 207.8,281.0 208.2,280.9 208.6,280.8 209.0,280.7 209.3,280.6 209.7,280.5 210.1,280.4 210.4,280.3 210.8,280.2 211.2,280.1 211.5,280.0 211.9,279.9 212.3,279.8 212.7,279.8 213.0,279.7 213.4,279.6 213.8,279.6 214.1,279.5 214.5,279.5 214.9,279.5 215.2,279.4 215.6,279.4 216.0,279.4 216.4,279.4 216.7,279.4 217.1,279.4 217.5,279.4 217.8,279.4 218.2,279.4 218.6,279.4 218.9,279.4 219.3,279.4 219.7,279.4 220.1,279.4 220.4,279.4 220.8,279.4 221.2,279.4 221.5,279.4 221.9,279.4 222.3,279.4 222.6,279.4 223.0,279.4 223.4,279.4 223.8,279.4 224.1,279.4 224.5,279.4 224.9,279.4 225.2,279.4 225.6,279.4 226.0,279.4 226.3,279.4 226.7,279.4 227.1,279.4 227.5,279.4 227.8,279.4 228.2,279.4 228.6,279.4 228.9,279.4 229.3,279.4 229.7,279.4 230.0,279.4 230.4,279.4 230.8,279.4 231.2,279.4 231.5,279.4 231.9,279.4 232.3,279.4 232.6,279.4 233.0,279.5 233.4,279.5 233.7,279.5 234.1,279.5 234.5,279.5 234.9,279.5 235.2,279.5 235.6,279.5 236.0,279.5 236.3,279.6 236.7,279.6 237.1,279.6 237.4,279.6 237.8,279.6 238.2,279.6 238.6,279.6 238.9,279.7 239.3,279.7 239.7,279.7 240.0,279.7 240.4,279.7 240.8,279.7 241.1,279.7 241.5,279.8 241.9,279.8 242.3,279.8 242.6,279.8 243.0,279.8 243.4,279.8 243.7,279.8 244.1,279.9 244.5,279.9 244.8,279.9 245.2,279.9 245.6,279.9 246.0,279.9 246.3,279.9 246.7,279.9 247.1,279.9 247.4,279.9 247.8,279.9 248.2,279.9 248.5,280.0 248.9,280.0 249.3,280.0 249.7,280.0 250.0,280.0 250.4,279.9 250.8,279.9 251.1,279.9 251.5,279.9 251.9,279.9 252.2,279.9 252.6,279.8 253.0,279.8 253.4,279.8 253.7,279.7 254.1,279.7 254.5,279.7 254.8,279.6 255.2,279.6 255.6,279.6 255.9,279.5 256.3,279.5 256.7,279.5 257.1,279.4 257.4,279.4 257.8,279.4 258.2,279.3 258.5,279.3 258.9,279.3 259.3,279.2 259.6,279.2 260.0,279.2 260.4,279.2 260.8,279.1 261.1,279.1 261.5,279.1 261.9,279.0 262.2,279.0 262.6,279.0 263.0,278.9 263.3,278.9 263.7,278.9 264.1,278.8 264.5,278.8 264.8,278.8 265.2,278.8 265.6,278.7 265.9,278.7 266.3,278.7 266.7,278.7 267.0,278.6 267.4,278.6 267.8,278.6 268.2,278.6 268.5,278.6 268.9,278.6 269.3,278.6 269.6,278.6 270.0,278.6 270.4,278.6 270.7,278.6 271.1,278.6 271.5,278.6 271.9,278.6 272.2,278.6 272.6,278.6 273.0,278.7 273.3,278.7 273.7,278.7 274.1,278.7 274.4,278.7 274.8,278.7 275.2,278.8 275.6,278.8 275.9,278.8 276.3,278.8 276.7,278.9 277.0,278.9 277.4,278.9 277.8,278.9 278.1,279.0 278.5,279.0 278.9,279.0 279.3,279.0 279.6,279.0 280.0,279.1 280.4,279.1 280.7,279.1 281.1,279.1 281.5,279.1 281.8,279.2 282.2,279.2 282.6,279.2 283.0,279.2 283.3,279.2 283.7,279.3 284.1,279.3 284.4,279.3 284.8,279.3 285.2,279.3 285.5,279.4 285.9,279.4 286.3,279.4 286.7,279.4 287.0,279.4 287.4,279.5 287.8,279.5 288.1,279.5 288.5,279.5 288.9,279.5 289.2,279.5 289.6,279.6 290.0,279.6 290.4,279.6 290.7,279.6 291.1,279.6 291.5,279.7 291.8,279.7 292.2,279.7 292.6,279.7 292.9,279.7 293.3,279.8 293.7,279.8 294.1,279.8 294.4,279.8 294.8,279.8 295.2,279.9 295.5,279.9 295.9,279.9 296.3,279.9 296.6,279.9 297.0,280.0 297.4,280.0 297.8,280.0 298.1,280.0 298.5,280.0 298.9,280.1 299.2,280.1 299.6,280.1 300.0,280.1 300.3,280.1 300.7,280.2 301.1,280.2 301.5,280.2 301.8,280.2 302.2,280.2 302.6,280.3 302.9,280.3 303.3,280.3 303.7,280.3 304.0,280.3 304.4,280.4 304.8,280.4 305.2,280.4 305.5,280.4 305.9,280.5 306.3,280.5 306.6,280.5 307.0,280.5 307.4,280.5 307.7,280.6 308.1,280.6 308.5,280.6 308.9,280.6 309.2,280.6 309.6,280.7 310.0,280.7 310.3,280.7 310.7,280.7 311.1,280.8 311.4,280.8 311.8,280.8 312.2,280.8 312.6,280.9 312.9,280.9 313.3,280.9 313.7,280.9 314.0,281.0 314.4,281.0 314.8,281.0 315.1,281.0 315.5,281.1 315.9,281.1 316.3,281.1 316.6,281.1 317.0,281.1 317.4,281.2 317.7,281.2 318.1,281.2 318.5,281.2 318.8,281.2 319.2,281.3 319.6,281.3 320.0,281.3 320.3,281.3 320.7,281.3 321.1,281.3 321.4,281.3 321.8,281.3 322.2,281.4 322.5,281.4 322.9,281.4 323.3,281.4 323.7,281.4 324.0,281.4 324.4,281.4 324.8,281.4 325.1,281.4 325.5,281.4 325.9,281.4 326.2,281.4 326.6,281.5 327.0,281.5 327.4,281.5 327.7,281.5 328.1,281.5 328.5,281.5 328.8,281.5 329.2,281.5 329.6,281.5 329.9,281.5 330.3,281.5 330.7,281.5 331.1,281.5 331.4,281.5 331.8,281.5 332.2,281.6 332.5,281.6 332.9,281.6 333.3,281.6 333.6,281.6 334.0,281.6 334.4,281.6 334.8,281.6 335.1,281.6 335.5,281.6 335.9,281.6 336.2,281.6 336.6,281.6 337.0,281.6 337.3,281.6 337.7,281.6 338.1,281.6 338.5,281.6 338.8,281.6 339.2,281.6 339.6,281.6 339.9,281.6 340.3,281.6" fill="none" stroke="#3F8F2A" stroke-width="1.8" stroke-linejoin="bevel" stroke-miterlimit="10" stroke-linecap="round"/>
<polyline points="99.8,305.7 100.0,305.7 100.2,305.7 100.4,305.7 100.5,305.7 100.7,305.7 100.9,305.7 101.1,305.7 101.3,305.7 101.5,305.7 101.7,305.7 101.8,305.7 102.0,305.7 102.2,305.7 102.4,305.7 102.6,305.7 102.8,305.7 102.9,305.7 103.1,305.7 103.3,305.7 103.5,305.7 103.7,305.7 103.9,305.7 104.1,305.7 104.2,305.7 104.4,305.7 104.6,305.7 104.8,305.7 105.0,305.7 105.2,305.7 105.3,305.7 105.5,305.7 105.7,305.7 105.9,305.7 106.1,305.3 106.3,304.6 106.5,303.2 106.6,301.2 106.8,298.8 107.0,296.4 107.2,293.7 107.4,290.1 107.6,284.9 107.8,278.3 107.9,270.9 108.1,263.2 108.3,254.8 108.5,245.7 108.7,235.7 108.9,224.9 109.0,213.0 109.2,199.4 109.4,184.2 109.6,167.9 109.8,151.1 110.0,134.0 110.2,115.5 110.3,96.7 110.5,79.8 110.7,63.4 110.9,49.0 111.1,39.1 111.3,31.0 111.5,24.1 111.6,19.7 111.8,18.8 112.0,20.7 112.2,24.4 112.4,29.2 112.6,34.9 112.8,44.3 112.9,56.7 113.1,70.1 113.3,82.5 113.5,94.9 113.7,107.4 113.9,119.7 114.0,131.1 114.2,142.2 114.4,153.1 114.6,163.1 114.8,172.1 115.0,179.5 115.2,186.0 115.3,192.0 115.5,198.2 115.7,205.0 115.9,212.1 116.1,218.6 116.3,224.6 116.4,230.2 116.6,235.5 116.8,240.6 117.0,245.5 117.2,250.1 117.4,254.7 117.6,259.0 117.7,263.4 117.9,267.5 118.1,271.1 118.3,274.0 118.7,278.9 119.0,282.7 119.4,285.6 119.8,287.6 120.2,289.1 120.5,290.0 120.9,290.5 121.3,290.8 121.6,290.8 122.0,290.7 122.4,290.6 122.7,290.5 123.1,290.5 123.5,290.4 123.8,290.5 124.2,290.5 124.6,290.4 125.0,290.3 125.3,290.2 125.7,290.0 126.1,289.7 126.4,289.5 126.8,289.2 127.2,288.9 127.6,288.6 127.9,288.2 128.3,287.9 128.7,287.6 129.0,287.2 129.4,286.9 129.8,286.5 130.1,286.1 130.5,285.6 130.9,285.1 131.2,284.5 131.6,284.0 132.0,283.4 132.4,282.9 132.7,282.3 133.1,281.8 133.5,281.4 133.8,281.0 134.2,280.6 134.6,280.3 135.0,279.9 135.3,279.6 135.7,279.3 136.1,279.1 136.4,278.9 136.8,278.9 137.2,278.9 137.5,278.9 137.9,278.9 138.3,278.9 138.7,279.0 139.0,279.0 139.4,279.1 139.8,279.2 140.1,279.3 140.5,279.5 140.9,279.7 141.2,280.0 141.6,280.2 142.0,280.4 142.4,280.6 142.7,280.7 143.1,280.8 143.5,280.8 143.8,280.7 144.2,280.5 144.6,280.4 144.9,280.1 145.3,279.9 145.7,279.6 146.1,279.3 146.4,279.0 146.8,278.7 147.2,278.4 147.5,277.9 147.9,277.3 148.3,276.7 148.6,276.0 149.0,275.4 149.4,274.8 149.8,274.4 150.1,274.2 150.5,274.2 150.9,274.6 151.2,275.4 151.6,276.5 152.0,277.6 152.3,278.8 152.7,280.0 153.1,281.5 153.5,283.2 153.8,285.1 154.2,287.0 154.6,288.8 154.9,290.5 155.3,291.9 155.7,293.0 156.0,294.2 156.4,295.3 156.8,296.3 157.2,297.2 157.5,298.0 157.9,298.6 158.3,299.0 158.6,299.3 159.0,299.6 159.4,299.9 159.7,300.1 160.1,300.4 160.5,300.5 160.9,300.6 161.2,300.7 161.6,300.7 162.0,300.7 162.3,300.7 162.7,300.7 163.1,300.6 163.4,300.6 163.8,300.6 164.2,300.5 164.6,300.5 164.9,300.4 165.3,300.4 165.7,300.3 166.0,300.3 166.4,300.2 166.8,300.2 167.1,300.1 167.5,300.0 167.9,300.0 168.3,299.9 168.6,299.8 169.0,299.7 169.4,299.6 169.7,299.5 170.1,299.4 170.5,299.3 170.8,299.2 171.2,299.1 171.6,298.9 172.0,298.8 172.3,298.6 172.7,298.5 173.1,298.3 173.4,298.2 173.8,298.0 174.2,297.8 174.5,297.7 174.9,297.5 175.3,297.3 175.7,297.1 176.0,297.0 176.4,296.8 176.8,296.6 177.1,296.5 177.5,296.3 177.9,296.1 178.2,295.9 178.6,295.8 179.0,295.6 179.4,295.4 179.7,295.2 180.1,295.0 180.5,294.8 180.8,294.6 181.2,294.4 181.6,294.2 181.9,294.0 182.3,293.8 182.7,293.6 183.1,293.4 183.4,293.2 183.8,293.0 184.2,292.8 184.5,292.6 184.9,292.4 185.3,292.2 185.6,292.0 186.0,291.8 186.4,291.6 186.8,291.4 187.1,291.2 187.5,291.0 187.9,290.8 188.2,290.6 188.6,290.4 189.0,290.2 189.3,289.9 189.7,289.7 190.1,289.5 190.5,289.3 190.8,289.1 191.2,288.9 191.6,288.7 191.9,288.5 192.3,288.3 192.7,288.1 193.0,287.9 193.4,287.7 193.8,287.5 194.2,287.3 194.5,287.1 194.9,287.0 195.3,286.8 195.6,286.6 196.0,286.5 196.4,286.3 196.7,286.1 197.1,286.0 197.5,285.8 197.9,285.6 198.2,285.5 198.6,285.3 199.0,285.1 199.3,285.0 199.7,284.8 200.1,284.7 200.4,284.6 200.8,284.4 201.2,284.3 201.6,284.1 201.9,284.0 202.3,283.9 202.7,283.8 203.0,283.7 203.4,283.6 203.8,283.5 204.1,283.3 204.5,283.2 204.9,283.1 205.3,283.0 205.6,282.9 206.0,282.8 206.4,282.8 206.7,282.7 207.1,282.6 207.5,282.5 207.8,282.4 208.2,282.3 208.6,282.2 209.0,282.1 209.3,282.0 209.7,281.9 210.1,281.9 210.4,281.8 210.8,281.7 211.2,281.6 211.5,281.6 211.9,281.5 212.3,281.4 212.7,281.4 213.0,281.3 213.4,281.2 213.8,281.2 214.1,281.1 214.5,281.0 214.9,281.0 215.2,280.9 215.6,280.9 216.0,280.8 216.4,280.8 216.7,280.7 217.1,280.7 217.5,280.7 217.8,280.6 218.2,280.6 218.6,280.5 218.9,280.5 219.3,280.4 219.7,280.4 220.1,280.3 220.4,280.3 220.8,280.3 221.2,280.2 221.5,280.2 221.9,280.1 222.3,280.1 222.6,280.1 223.0,280.0 223.4,280.0 223.8,280.0 224.1,279.9 224.5,279.9 224.9,279.9 225.2,279.8 225.6,279.8 226.0,279.8 226.3,279.8 226.7,279.7 227.1,279.7 227.5,279.7 227.8,279.7 228.2,279.7 228.6,279.7 228.9,279.7 229.3,279.7 229.7,279.7 230.0,279.7 230.4,279.7 230.8,279.7 231.2,279.7 231.5,279.7 231.9,279.7 232.3,279.7 232.6,279.7 233.0,279.7 233.4,279.7 233.7,279.7 234.1,279.7 234.5,279.7 234.9,279.7 235.2,279.7 235.6,279.7 236.0,279.7 236.3,279.7 236.7,279.7 237.1,279.7 237.4,279.7 237.8,279.7 238.2,279.7 238.6,279.7 238.9,279.7 239.3,279.7 239.7,279.7 240.0,279.7 240.4,279.7 240.8,279.7 241.1,279.7 241.5,279.7 241.9,279.7 242.3,279.7 242.6,279.7 243.0,279.7 243.4,279.7 243.7,279.7 244.1,279.7 244.5,279.7 244.8,279.7 245.2,279.7 245.6,279.7 246.0,279.7 246.3,279.7 246.7,279.7 247.1,279.7 247.4,279.7 247.8,279.7 248.2,279.7 248.5,279.7 248.9,279.7 249.3,279.7 249.7,279.7 250.0,279.7 250.4,279.7 250.8,279.6 251.1,279.6 251.5,279.6 251.9,279.6 252.2,279.5 252.6,279.5 253.0,279.4 253.4,279.4 253.7,279.3 254.1,279.3 254.5,279.2 254.8,279.2 255.2,279.1 255.6,279.1 255.9,279.0 256.3,278.9 256.7,278.9 257.1,278.8 257.4,278.8 257.8,278.7 258.2,278.7 258.5,278.6 258.9,278.6 259.3,278.5 259.6,278.5 260.0,278.4 260.4,278.4 260.8,278.3 261.1,278.3 261.5,278.2 261.9,278.2 262.2,278.1 262.6,278.1 263.0,278.0 263.3,278.0 263.7,277.9 264.1,277.9 264.5,277.8 264.8,277.8 265.2,277.8 265.6,277.7 265.9,277.7 266.3,277.6 266.7,277.6 267.0,277.6 267.4,277.5 267.8,277.5 268.2,277.5 268.5,277.5 268.9,277.5 269.3,277.5 269.6,277.5 270.0,277.5 270.4,277.5 270.7,277.5 271.1,277.5 271.5,277.5 271.9,277.5 272.2,277.5 272.6,277.6 273.0,277.6 273.3,277.6 273.7,277.6 274.1,277.7 274.4,277.7 274.8,277.7 275.2,277.8 275.6,277.8 275.9,277.8 276.3,277.9 276.7,277.9 277.0,277.9 277.4,278.0 277.8,278.0 278.1,278.0 278.5,278.1 278.9,278.1 279.3,278.1 279.6,278.2 280.0,278.2 280.4,278.2 280.7,278.3 281.1,278.3 281.5,278.3 281.8,278.4 282.2,278.4 282.6,278.4 283.0,278.4 283.3,278.5 283.7,278.5 284.1,278.5 284.4,278.5 284.8,278.6 285.2,278.6 285.5,278.6 285.9,278.7 286.3,278.7 286.7,278.7 287.0,278.7 287.4,278.8 287.8,278.8 288.1,278.8 288.5,278.9 288.9,278.9 289.2,278.9 289.6,278.9 290.0,279.0 290.4,279.0 290.7,279.0 291.1,279.1 291.5,279.1 291.8,279.1 292.2,279.2 292.6,279.2 292.9,279.2 293.3,279.2 293.7,279.3 294.1,279.3 294.4,279.3 294.8,279.4 295.2,279.4 295.5,279.4 295.9,279.4 296.3,279.5 296.6,279.5 297.0,279.5 297.4,279.6 297.8,279.6 298.1,279.6 298.5,279.6 298.9,279.7 299.2,279.7 299.6,279.7 300.0,279.7 300.3,279.8 300.7,279.8 301.1,279.8 301.5,279.9 301.8,279.9 302.2,279.9 302.6,279.9 302.9,280.0 303.3,280.0 303.7,280.0 304.0,280.0 304.4,280.1 304.8,280.1 305.2,280.1 305.5,280.1 305.9,280.2 306.3,280.2 306.6,280.2 307.0,280.2 307.4,280.3 307.7,280.3 308.1,280.3 308.5,280.3 308.9,280.4 309.2,280.4 309.6,280.4 310.0,280.4 310.3,280.4 310.7,280.5 311.1,280.5 311.4,280.5 311.8,280.5 312.2,280.6 312.6,280.6 312.9,280.6 313.3,280.6 313.7,280.6 314.0,280.7 314.4,280.7 314.8,280.7 315.1,280.7 315.5,280.8 315.9,280.8 316.3,280.8 316.6,280.8 317.0,280.8 317.4,280.9 317.7,280.9 318.1,280.9 318.5,280.9 318.8,280.9 319.2,281.0 319.6,281.0 320.0,281.0 320.3,281.0 320.7,281.0 321.1,281.0 321.4,281.0 321.8,281.1 322.2,281.1 322.5,281.1 322.9,281.1 323.3,281.1 323.7,281.1 324.0,281.2 324.4,281.2 324.8,281.2 325.1,281.2 325.5,281.2 325.9,281.2 326.2,281.2 326.6,281.2 327.0,281.3 327.4,281.3 327.7,281.3 328.1,281.3 328.5,281.3 328.8,281.3 329.2,281.3 329.6,281.3 329.9,281.4 330.3,281.4 330.7,281.4 331.1,281.4 331.4,281.4 331.8,281.4 332.2,281.4 332.5,281.4 332.9,281.5 333.3,281.5 333.6,281.5 334.0,281.5 334.4,281.5 334.8,281.5 335.1,281.5 335.5,281.5 335.9,281.5 336.2,281.5 336.6,281.5 337.0,281.6 337.3,281.6 337.7,281.6 338.1,281.6 338.5,281.6 338.8,281.6 339.2,281.6 339.6,281.6 339.9,281.6 340.3,281.6" fill="none" stroke="#8A1EFF" stroke-width="1.8" stroke-linejoin="bevel" stroke-miterlimit="10" stroke-linecap="round"/>
<polyline points="62.8,305.7 63.0,305.7 63.2,305.7 63.4,305.7 63.5,305.7 63.7,305.7 63.9,305.7 64.1,305.7 64.3,305.7 64.5,305.7 64.6,305.7 64.8,305.7 65.0,305.7 65.2,305.7 65.4,305.7 65.6,305.7 65.8,305.7 65.9,305.7 66.1,305.7 66.3,305.7 66.5,305.7 66.7,305.7 66.9,305.7 67.1,305.7 67.2,305.7 67.4,305.7 67.6,305.7 67.8,305.7 68.0,305.7 68.2,305.7 68.3,305.7 68.5,305.7 68.7,305.7 68.9,305.7 69.1,305.7 69.3,305.7 69.5,305.7 69.6,305.7 69.8,305.7 70.0,305.7 70.2,305.7 70.4,305.7 70.6,305.7 70.8,305.7 70.9,305.7 71.1,305.7 71.3,305.7 71.5,305.7 71.7,305.7 71.9,305.7 72.0,305.7 72.2,305.7 72.4,305.7 72.6,305.7 72.8,305.7 73.0,305.7 73.2,305.7 73.3,305.7 73.5,305.7 73.7,305.7 73.9,305.7 74.1,305.7 74.3,305.7 74.5,305.7 74.6,305.7 74.8,305.7 75.0,305.7 75.2,305.7 75.4,305.7 75.6,305.7 75.8,305.7 75.9,305.7 76.1,305.7 76.3,305.7 76.5,305.7 76.7,305.7 76.9,305.7 77.0,305.7 77.2,305.7 77.4,305.7 77.6,305.7 77.8,305.7 78.0,305.7 78.2,305.7 78.3,305.7 78.5,305.7 78.7,305.7 78.9,305.7 79.1,305.7 79.3,305.7 79.5,305.7 79.6,305.7 79.8,305.7 80.0,305.7 80.2,305.7 80.4,305.7 80.6,305.7 80.7,305.7 80.9,305.7 81.1,305.7 81.3,305.7 81.5,305.7 81.7,305.7 81.9,305.7 82.0,305.7 82.2,305.7 82.4,305.7 82.6,305.7 82.8,305.7 83.0,305.7 83.2,305.7 83.3,305.7 83.5,305.7 83.7,305.7 83.9,305.7 84.1,305.7 84.3,305.7 84.4,305.7 84.6,305.7 84.8,305.7 85.0,305.7 85.2,305.7 85.4,305.7 85.6,305.7 85.7,305.7 85.9,305.7 86.1,305.7 86.3,305.7 86.5,305.7 86.7,305.7 86.8,305.7 87.0,305.7 87.2,305.7 87.4,305.7 87.6,305.7 87.8,305.7 88.0,305.7 88.1,305.7 88.3,305.7 88.5,305.7 88.7,305.7 88.9,305.7 89.1,305.7 89.3,305.7 89.4,305.7 89.6,305.7 89.8,305.7 90.0,305.7 90.2,305.7 90.4,305.7 90.5,305.7 90.7,305.7 90.9,305.7 91.1,305.7 91.3,305.7 91.5,305.7 91.7,305.7 91.8,305.7 92.0,305.7 92.2,305.7 92.4,305.7 92.6,305.7 92.8,305.7 93.0,305.7 93.1,305.7 93.3,305.7 93.5,305.7 93.7,305.7 93.9,305.7 94.1,305.7 94.2,305.7 94.4,305.7 94.6,305.7 94.8,305.7 95.0,305.7 95.2,305.7 95.4,305.7 95.5,305.7 95.7,305.7 95.9,305.7 96.1,305.7 96.3,305.7 96.5,305.7 96.7,305.7 96.8,305.7 97.0,305.7 97.2,305.7 97.4,305.7 97.6,305.7 97.8,305.7 98.0,305.7 98.1,305.7 98.3,305.7 98.5,305.7 98.7,305.7 98.9,305.7 99.1,305.7 99.2,305.7 99.4,305.7 99.6,305.7 99.8,305.7 100.0,305.7 100.2,305.7 100.4,305.7 100.5,305.7 100.7,305.7 100.9,305.7 101.1,305.7 101.3,305.7 101.5,305.7 101.7,305.7 101.8,305.7 102.0,305.7 102.2,305.7 102.4,305.7 102.6,305.7 102.8,305.7 102.9,305.7 103.1,305.7 103.3,305.7 103.5,305.7 103.7,305.7 103.9,305.7 104.1,305.7 104.2,305.7 104.4,305.7 104.6,305.7 104.8,305.7 105.0,305.7 105.2,305.7 105.3,305.7 105.5,305.7 105.7,305.7 105.9,305.7 106.1,305.7 106.3,305.7 106.5,305.5 106.6,305.1 106.8,304.4 107.0,303.3 107.2,302.1 107.4,300.9 107.6,299.6 107.8,297.7 107.9,295.0 108.1,291.7 108.3,288.0 108.5,284.1 108.7,280.0 108.9,275.4 109.0,270.4 109.2,264.9 109.4,259.0 109.6,252.1 109.8,244.5 110.0,236.3 110.2,227.9 110.3,219.4 110.5,210.1 110.7,200.8 110.9,192.5 111.1,184.4 111.3,177.4 111.5,172.6 111.6,168.6 111.8,165.3 112.0,163.2 112.2,163.0 112.4,164.0 112.6,165.9 112.8,168.4 112.9,171.3 113.1,176.2 113.3,182.5 113.5,189.1 113.7,195.3 113.9,201.4 114.0,207.7 114.2,213.7 114.4,219.4 114.6,224.9 114.8,230.3 115.0,235.2 115.2,239.6 115.3,243.3 115.5,246.4 115.7,249.4 115.9,252.5 116.1,256.0 116.3,259.5 116.4,262.7 116.6,265.7 116.8,268.5 117.0,271.3 117.2,273.8 117.4,276.3 117.6,278.6 117.7,280.9 117.9,283.0 118.1,285.1 118.3,287.1 118.7,290.2 119.0,292.5 119.4,294.3 119.8,295.6 120.2,296.4 120.5,297.0 120.9,297.3 121.3,297.5 121.6,297.5 122.0,297.5 122.4,297.4 122.7,297.4 123.1,297.3 123.5,297.4 123.8,297.5 124.2,297.6 124.6,297.6 125.0,297.7 125.3,297.7 125.7,297.6 126.1,297.6 126.4,297.5 126.8,297.4 127.2,297.3 127.6,297.2 127.9,297.1 128.3,296.9 128.7,296.8 129.0,296.6 129.4,296.5 129.8,296.3 130.1,296.2 130.5,296.0 130.9,295.9 131.2,295.7 131.6,295.6 132.0,295.4 132.4,295.3 132.7,295.1 133.1,294.9 133.5,294.7 133.8,294.5 134.2,294.3 134.6,294.1 135.0,293.9 135.3,293.7 135.7,293.5 136.1,293.3 136.4,293.2 136.8,293.0 137.2,292.8 137.5,292.6 137.9,292.4 138.3,292.2 138.7,292.1 139.0,291.9 139.4,291.7 139.8,291.5 140.1,291.3 140.5,291.2 140.9,291.0 141.2,290.8 141.6,290.6 142.0,290.4 142.4,290.2 142.7,290.0 143.1,289.8 143.5,289.6 143.8,289.4 144.2,289.2 144.6,289.0 144.9,288.8 145.3,288.5 145.7,288.3 146.1,288.0 146.4,287.7 146.8,287.3 147.2,286.9 147.5,286.4 147.9,286.0 148.3,285.5 148.6,284.9 149.0,284.3 149.4,283.5 149.8,282.6 150.1,281.7 150.5,281.0 150.9,280.8 151.2,280.9 151.6,281.4 152.0,282.0 152.3,282.7 152.7,283.4 153.1,284.1 153.5,284.9 153.8,285.7 154.2,286.6 154.6,287.5 154.9,288.4 155.3,289.1 155.7,289.7 156.0,290.4 156.4,291.0 156.8,291.6 157.2,292.1 157.5,292.5 157.9,292.7 158.3,292.7 158.6,292.7 159.0,292.7 159.4,292.6 159.7,292.6 160.1,292.6 160.5,292.5 160.9,292.5 161.2,292.4 161.6,292.4 162.0,292.3 162.3,292.3 162.7,292.2 163.1,292.1 163.4,292.1 163.8,292.0 164.2,291.9 164.6,291.9 164.9,291.8 165.3,291.7 165.7,291.6 166.0,291.5 166.4,291.5 166.8,291.4 167.1,291.2 167.5,291.1 167.9,291.0 168.3,290.9 168.6,290.8 169.0,290.7 169.4,290.5 169.7,290.4 170.1,290.3 170.5,290.2 170.8,290.0 171.2,289.9 171.6,289.8 172.0,289.7 172.3,289.6 172.7,289.4 173.1,289.3 173.4,289.2 173.8,289.1 174.2,289.0 174.5,288.9 174.9,288.8 175.3,288.6 175.7,288.5 176.0,288.4 176.4,288.3 176.8,288.1 177.1,288.0 177.5,287.9 177.9,287.7 178.2,287.6 178.6,287.5 179.0,287.4 179.4,287.2 179.7,287.1 180.1,287.0 180.5,286.9 180.8,286.8 181.2,286.6 181.6,286.5 181.9,286.4 182.3,286.3 182.7,286.2 183.1,286.2 183.4,286.1 183.8,286.0 184.2,285.9 184.5,285.9 184.9,285.8 185.3,285.8 185.6,285.8 186.0,285.7 186.4,285.7 186.8,285.7 187.1,285.6 187.5,285.6 187.9,285.6 188.2,285.6 188.6,285.5 189.0,285.5 189.3,285.5 189.7,285.5 190.1,285.5 190.5,285.4 190.8,285.4 191.2,285.4 191.6,285.4 191.9,285.4 192.3,285.4 192.7,285.3 193.0,285.3 193.4,285.3 193.8,285.3 194.2,285.3 194.5,285.2 194.9,285.2 195.3,285.2 195.6,285.2 196.0,285.2 196.4,285.1 196.7,285.1 197.1,285.1 197.5,285.1 197.9,285.1 198.2,285.0 198.6,285.0 199.0,285.0 199.3,285.0 199.7,285.0 200.1,284.9 200.4,284.9 200.8,284.9 201.2,284.9 201.6,284.9 201.9,284.8 202.3,284.8 202.7,284.8 203.0,284.8 203.4,284.8 203.8,284.7 204.1,284.7 204.5,284.7 204.9,284.7 205.3,284.7 205.6,284.6 206.0,284.6 206.4,284.6 206.7,284.6 207.1,284.6 207.5,284.6 207.8,284.5 208.2,284.5 208.6,284.5 209.0,284.5 209.3,284.5 209.7,284.4 210.1,284.4 210.4,284.4 210.8,284.4 211.2,284.4 211.5,284.3 211.9,284.3 212.3,284.3 212.7,284.3 213.0,284.3 213.4,284.3 213.8,284.2 214.1,284.2 214.5,284.2 214.9,284.2 215.2,284.2 215.6,284.1 216.0,284.1 216.4,284.1 216.7,284.1 217.1,284.1 217.5,284.0 217.8,284.0 218.2,284.0 218.6,284.0 218.9,284.0 219.3,283.9 219.7,283.9 220.1,283.9 220.4,283.9 220.8,283.9 221.2,283.9 221.5,283.8 221.9,283.8 222.3,283.8 222.6,283.8 223.0,283.8 223.4,283.8 223.8,283.7 224.1,283.7 224.5,283.7 224.9,283.7 225.2,283.7 225.6,283.7 226.0,283.7 226.3,283.6 226.7,283.6 227.1,283.6 227.5,283.6 227.8,283.6 228.2,283.6 228.6,283.6 228.9,283.6 229.3,283.6 229.7,283.5 230.0,283.5 230.4,283.5 230.8,283.5 231.2,283.5 231.5,283.5 231.9,283.5 232.3,283.5 232.6,283.5 233.0,283.5 233.4,283.5 233.7,283.5 234.1,283.5 234.5,283.5 234.9,283.5 235.2,283.5 235.6,283.5 236.0,283.5 236.3,283.5 236.7,283.4 237.1,283.4 237.4,283.4 237.8,283.4 238.2,283.4 238.6,283.4 238.9,283.4 239.3,283.4 239.7,283.4 240.0,283.4 240.4,283.4 240.8,283.4 241.1,283.4 241.5,283.4 241.9,283.4 242.3,283.4 242.6,283.4 243.0,283.4 243.4,283.4 243.7,283.4 244.1,283.4 244.5,283.4 244.8,283.4 245.2,283.4 245.6,283.4 246.0,283.3 246.3,283.3 246.7,283.3 247.1,283.3 247.4,283.3 247.8,283.3 248.2,283.3 248.5,283.3 248.9,283.3 249.3,283.3 249.7,283.3 250.0,283.3 250.4,283.3 250.8,283.3 251.1,283.2 251.5,283.2 251.9,283.2 252.2,283.2 252.6,283.2 253.0,283.2 253.4,283.2 253.7,283.1 254.1,283.1 254.5,283.1 254.8,283.1 255.2,283.1 255.6,283.0 255.9,283.0 256.3,283.0 256.7,283.0 257.1,283.0 257.4,282.9 257.8,282.9 258.2,282.9 258.5,282.9 258.9,282.9 259.3,282.8 259.6,282.8 260.0,282.8 260.4,282.8 260.8,282.8 261.1,282.7 261.5,282.7 261.9,282.7 262.2,282.7 262.6,282.6 263.0,282.6 263.3,282.6 263.7,282.6 264.1,282.6 264.5,282.5 264.8,282.5 265.2,282.5 265.6,282.5 265.9,282.5 266.3,282.4 266.7,282.4 267.0,282.4 267.4,282.4 267.8,282.4 268.2,282.4 268.5,282.3 268.9,282.3 269.3,282.3 269.6,282.3 270.0,282.3 270.4,282.3 270.7,282.2 271.1,282.2 271.5,282.2 271.9,282.2 272.2,282.2 272.6,282.2 273.0,282.2 273.3,282.1 273.7,282.1 274.1,282.1 274.4,282.1 274.8,282.1 275.2,282.1 275.6,282.0 275.9,282.0 276.3,282.0 276.7,282.0 277.0,282.0 277.4,282.0 277.8,281.9 278.1,281.9 278.5,281.9 278.9,281.9 279.3,281.9 279.6,281.9 280.0,281.9 280.4,281.8 280.7,281.8 281.1,281.8 281.5,281.8 281.8,281.8 282.2,281.7 282.6,281.7 283.0,281.7 283.3,281.7 283.7,281.7 284.1,281.7 284.4,281.6 284.8,281.6 285.2,281.6 285.5,281.6 285.9,281.6 286.3,281.5 286.7,281.5 287.0,281.5 287.4,281.5 287.8,281.5 288.1,281.4 288.5,281.4 288.9,281.4 289.2,281.4 289.6,281.3 290.0,281.3 290.4,281.3 290.7,281.3 291.1,281.3 291.5,281.2 291.8,281.2 292.2,281.2 292.6,281.2 292.9,281.1 293.3,281.1 293.7,281.1 294.1,281.1 294.4,281.0 294.8,281.0 295.2,281.0 295.5,281.0 295.9,280.9 296.3,280.9 296.6,280.9 297.0,280.9 297.4,280.8 297.8,280.8 298.1,280.8 298.5,280.8 298.9,280.8 299.2,280.7 299.6,280.7 300.0,280.7 300.3,280.7 300.7,280.6 301.1,280.6 301.5,280.6 301.8,280.6 302.2,280.5 302.6,280.5 302.9,280.5 303.3,280.5 303.7,280.4 304.0,280.4 304.4,280.4 304.8,280.4 305.2,280.3 305.5,280.3 305.9,280.3 306.3,280.3 306.6,280.3 307.0,280.2 307.4,280.2 307.7,280.2 308.1,280.2 308.5,280.1 308.9,280.1 309.2,280.1 309.6,280.1 310.0,280.1 310.3,280.0 310.7,280.0 311.1,280.0 311.4,280.0 311.8,280.0 312.2,279.9 312.6,279.9 312.9,279.9 313.3,279.9 313.7,279.8 314.0,279.8 314.4,279.8 314.8,279.8 315.1,279.8 315.5,279.7 315.9,279.7 316.3,279.7 316.6,279.7 317.0,279.7 317.4,279.6 317.7,279.6 318.1,279.6 318.5,279.6 318.8,279.6 319.2,279.5 319.6,279.5 320.0,279.5 320.3,279.5 320.7,279.5 321.1,279.4 321.4,279.4 321.8,279.4 322.2,279.4 322.5,279.4 322.9,279.3 323.3,279.3 323.7,279.3 324.0,279.3 324.4,279.3 324.8,279.3 325.1,279.2 325.5,279.2 325.9,279.2 326.2,279.2 326.6,279.2 327.0,279.2 327.4,279.1 327.7,279.1 328.1,279.1 328.5,279.1 328.8,279.1 329.2,279.0 329.6,279.0 329.9,279.0 330.3,279.0 330.7,279.0 331.1,279.0 331.4,278.9 331.8,278.9 332.2,278.9 332.5,278.9 332.9,278.9 333.3,278.9 333.6,278.8 334.0,278.8 334.4,278.8 334.8,278.8 335.1,278.8 335.5,278.8 335.9,278.8 336.2,278.7 336.6,278.7 337.0,278.7 337.3,278.7 337.7,278.7 338.1,278.7 338.5,278.6 338.8,278.6 339.2,278.6 339.6,278.6 339.9,278.6 340.3,278.6" fill="none" stroke="#FF9A3C" stroke-width="1.8" stroke-linejoin="bevel" stroke-miterlimit="10" stroke-linecap="round"/>
</g>
<g clip-path="url(#clipI)">
<polyline points="171.4,211.5 172.0,211.5 172.5,211.4 173.1,211.4 173.7,211.4 174.2,211.3 174.8,211.2 175.3,211.2 175.9,211.1 176.5,211.0 177.0,210.9 177.6,210.7 178.2,210.5 178.7,210.3 179.3,210.1 179.8,209.8 180.4,209.5 181.0,209.1 181.5,208.7 182.1,208.2 182.7,207.6 183.2,207.0 183.8,206.2 184.3,205.4 184.9,204.4 185.5,203.3 186.0,202.1 186.6,200.8 187.2,199.3 187.7,197.7 188.3,195.9 188.9,193.9 189.4,191.7 190.0,189.4 190.5,186.8 191.1,184.0 191.7,181.1 192.2,177.9 192.8,174.5 193.4,170.9 193.9,167.1 194.5,163.1 195.0,158.9 195.6,154.5 196.2,149.9 196.7,145.1 197.3,140.2 197.9,135.2 198.4,130.0 199.0,124.7 199.6,119.4 200.1,114.0 200.7,108.5 201.2,103.1 201.8,97.7 202.4,92.3 202.9,87.0 203.5,81.7 204.1,76.6 204.6,71.7 205.2,66.9 205.7,62.3 206.3,57.9 206.9,53.7 207.4,49.8 208.0,46.1 208.6,42.8 209.1,39.6 209.7,36.8 210.2,34.3 210.8,32.0 211.4,30.1 211.9,28.4 212.5,27.1 213.1,25.9 213.6,25.1 214.2,24.5 214.8,24.1 215.3,23.9 215.9,23.8 216.4,23.9 217.0,24.2 217.6,24.8 218.1,25.7 218.7,26.7 219.3,28.1 219.8,29.6 220.4,31.3 220.9,33.2 221.5,35.3 222.1,37.5 222.6,39.9 223.2,42.4 223.8,45.1 224.3,47.8 224.9,50.7 225.4,53.6 226.0,56.6 226.6,59.6 227.1,62.7 227.7,65.9 228.3,69.1 228.8,72.3 229.4,75.5 230.0,78.7 230.5,81.9 231.1,85.1 231.6,88.3 232.2,91.5 232.8,94.7 233.3,97.8 233.9,100.9 234.5,104.0 235.0,107.0 235.6,110.0 236.1,113.0 236.7,115.8 237.3,118.7 237.8,121.5 238.4,124.2 239.0,126.9 239.5,129.5 240.1,132.0 240.6,134.5 241.2,137.0 241.8,139.4 242.3,141.7 242.9,143.9 243.5,146.1 244.0,148.3 244.6,150.3 245.2,152.4 245.7,154.3 246.3,156.2 246.8,158.1 247.4,159.9 248.0,161.6 248.5,163.3 249.1,164.9 249.7,166.5 250.2,168.0 250.8,169.5 251.3,170.9 251.9,172.3 252.5,173.6 253.0,174.9 253.6,176.1 254.2,177.3 254.7,178.4 255.3,179.5 255.9,180.6 256.4,181.6 257.0,182.6 257.5,183.6 258.1,184.5 258.7,185.4 259.2,186.2 259.8,187.0 260.4,187.8 260.9,188.6 261.5,189.3 262.0,190.0 262.6,190.6 263.2,191.3 263.7,191.9 264.3,192.5 264.9,193.0 265.4,193.6 266.0,194.1 266.5,194.6 267.1,195.0 267.7,195.5 268.2,195.9 268.8,196.3 269.4,196.7 269.9,197.1 270.5,197.5 271.1,197.8 271.6,198.2 272.2,198.5 272.7,198.8 273.3,199.1 273.9,199.3 274.4,199.6 275.0,199.8 275.6,200.1 276.1,200.3 276.7,200.5 277.2,200.7 277.8,200.9 278.4,201.1 278.9,201.3 279.5,201.4 280.1,201.6 280.6,201.7 281.2,201.9 281.7,202.0 282.3,202.1 282.9,202.2 283.4,202.3 284.0,202.4 284.6,202.5 285.1,202.6 285.7,202.7 286.3,202.8 286.8,202.8 287.4,202.9 287.9,203.0 288.5,203.0 289.1,203.1 289.6,203.1 290.2,203.2 290.8,203.2 291.3,203.2 291.9,203.3 292.4,203.3 293.0,203.3 293.6,203.3 294.1,203.4 294.7,203.4 295.3,203.4 295.8,203.4 296.4,203.4 296.9,203.4 297.5,203.4 298.1,203.4 298.6,203.4 299.2,203.4 299.8,203.4 300.3,203.4 300.9,203.4 301.5,203.4 302.0,203.4 302.6,203.4 303.1,203.4 303.7,203.4 304.3,203.4 304.8,203.4 305.4,203.4 306.0,203.4 306.5,203.3 307.1,203.3 307.6,203.3 308.2,203.3 308.8,203.3 309.3,203.3 309.9,203.3 310.5,203.3 311.0,203.3 311.6,203.2 312.2,203.2 312.7,203.2 313.3,203.2 313.8,203.2 314.4,203.2 315.0,203.2 315.5,203.2 316.1,203.1 316.7,203.1 317.2,203.1 317.8,203.1 318.3,203.1 318.9,203.1 319.5,203.1 320.0,203.1 320.6,203.1 321.2,203.0 321.7,203.0 322.3,203.0 322.8,203.0 323.4,203.0 324.0,203.0 324.5,203.0 325.1,203.0 325.7,203.0 326.2,203.0 326.8,202.9 327.4,202.9 327.9,202.9 328.5,202.9 329.0,202.9 329.6,202.9 330.2,202.9 330.7,202.9 331.3,202.9 331.9,202.9 332.4,202.8 333.0,202.8 333.5,202.8 334.1,202.8 334.7,202.8 335.2,202.8 335.8,202.8 336.4,202.8 336.9,202.8 337.5,202.8 338.0,202.8 338.6,202.8 339.2,202.7 339.7,202.7 340.3,202.7" fill="none" stroke="#505050" stroke-width="1.4" stroke-linejoin="round" stroke-miterlimit="10" stroke-linecap="round"/>
<polyline points="171.4,211.5 172.0,211.5 172.5,211.5 173.1,211.4 173.7,211.4 174.2,211.4 174.8,211.3 175.3,211.3 175.9,211.2 176.5,211.2 177.0,211.1 177.6,211.0 178.2,210.8 178.7,210.7 179.3,210.5 179.8,210.3 180.4,210.1 181.0,209.8 181.5,209.5 182.1,209.1 182.7,208.7 183.2,208.2 183.8,207.6 184.3,207.0 184.9,206.2 185.5,205.4 186.0,204.5 186.6,203.4 187.2,202.2 187.7,200.9 188.3,199.4 188.9,197.8 189.4,196.0 190.0,194.0 190.5,191.9 191.1,189.6 191.7,187.0 192.2,184.3 192.8,181.3 193.4,178.2 193.9,174.8 194.5,171.3 195.0,167.5 195.6,163.5 196.2,159.3 196.7,155.0 197.3,150.4 197.9,145.7 198.4,140.9 199.0,135.9 199.6,130.7 200.1,125.5 200.7,120.2 201.2,114.9 201.8,109.5 202.4,104.1 202.9,98.7 203.5,93.4 204.1,88.1 204.6,82.9 205.2,77.9 205.7,73.0 206.3,68.2 206.9,63.6 207.4,59.3 208.0,55.2 208.6,51.3 209.1,47.7 209.7,44.3 210.2,41.2 210.8,38.4 211.4,35.9 211.9,33.7 212.5,31.8 213.1,30.1 213.6,28.7 214.2,27.6 214.8,26.8 215.3,26.2 215.9,25.8 216.4,25.6 217.0,25.5 217.6,25.6 218.1,25.9 218.7,26.5 219.3,27.3 219.8,28.4 220.4,29.6 220.9,31.1 221.5,32.8 222.1,34.6 222.6,36.7 223.2,38.8 223.8,41.2 224.3,43.6 224.9,46.2 225.4,48.8 226.0,51.6 226.6,54.4 227.1,57.3 227.7,60.3 228.3,63.3 228.8,66.4 229.4,69.5 230.0,72.6 230.5,75.8 231.1,78.9 231.6,82.1 232.2,85.2 232.8,88.3 233.3,91.5 233.9,94.6 234.5,97.6 235.0,100.7 235.6,103.7 236.1,106.7 236.7,109.6 237.3,112.5 237.8,115.3 238.4,118.1 239.0,120.8 239.5,123.5 240.1,126.1 240.6,128.7 241.2,131.2 241.8,133.7 242.3,136.1 242.9,138.5 243.5,140.7 244.0,143.0 244.6,145.1 245.2,147.3 245.7,149.3 246.3,151.3 246.8,153.3 247.4,155.2 248.0,157.0 248.5,158.8 249.1,160.5 249.7,162.1 250.2,163.8 250.8,165.3 251.3,166.8 251.9,168.3 252.5,169.7 253.0,171.1 253.6,172.4 254.2,173.7 254.7,174.9 255.3,176.1 255.9,177.2 256.4,178.4 257.0,179.4 257.5,180.4 258.1,181.4 258.7,182.4 259.2,183.3 259.8,184.2 260.4,185.0 260.9,185.8 261.5,186.6 262.0,187.4 262.6,188.1 263.2,188.8 263.7,189.4 264.3,190.1 264.9,190.7 265.4,191.3 266.0,191.8 266.5,192.4 267.1,192.9 267.7,193.4 268.2,193.9 268.8,194.3 269.4,194.8 269.9,195.2 270.5,195.6 271.1,196.0 271.6,196.3 272.2,196.7 272.7,197.0 273.3,197.4 273.9,197.7 274.4,198.0 275.0,198.2 275.6,198.5 276.1,198.8 276.7,199.0 277.2,199.2 277.8,199.5 278.4,199.7 278.9,199.9 279.5,200.1 280.1,200.2 280.6,200.4 281.2,200.6 281.7,200.7 282.3,200.9 282.9,201.0 283.4,201.1 284.0,201.3 284.6,201.4 285.1,201.5 285.7,201.6 286.3,201.7 286.8,201.8 287.4,201.8 287.9,201.9 288.5,202.0 289.1,202.1 289.6,202.1 290.2,202.2 290.8,202.2 291.3,202.3 291.9,202.3 292.4,202.4 293.0,202.4 293.6,202.4 294.1,202.5 294.7,202.5 295.3,202.5 295.8,202.5 296.4,202.6 296.9,202.6 297.5,202.6 298.1,202.6 298.6,202.6 299.2,202.6 299.8,202.6 300.3,202.6 300.9,202.6 301.5,202.6 302.0,202.6 302.6,202.6 303.1,202.6 303.7,202.6 304.3,202.6 304.8,202.6 305.4,202.6 306.0,202.6 306.5,202.6 307.1,202.6 307.6,202.6 308.2,202.6 308.8,202.6 309.3,202.6 309.9,202.6 310.5,202.6 311.0,202.5 311.6,202.5 312.2,202.5 312.7,202.5 313.3,202.5 313.8,202.5 314.4,202.5 315.0,202.5 315.5,202.5 316.1,202.5 316.7,202.5 317.2,202.4 317.8,202.4 318.3,202.4 318.9,202.4 319.5,202.4 320.0,202.4 320.6,202.4 321.2,202.4 321.7,202.4 322.3,202.4 322.8,202.4 323.4,202.4 324.0,202.3 324.5,202.3 325.1,202.3 325.7,202.3 326.2,202.3 326.8,202.3 327.4,202.3 327.9,202.3 328.5,202.3 329.0,202.3 329.6,202.3 330.2,202.3 330.7,202.3 331.3,202.3 331.9,202.2 332.4,202.2 333.0,202.2 333.5,202.2 334.1,202.2 334.7,202.2 335.2,202.2 335.8,202.2 336.4,202.2 336.9,202.2 337.5,202.2 338.0,202.2 338.6,202.2 339.2,202.2 339.7,202.2 340.3,202.2" fill="none" stroke="#F5424B" stroke-width="1.4" stroke-linejoin="round" stroke-miterlimit="10" stroke-linecap="round"/>
<polyline points="171.4,211.5 172.0,211.5 172.5,211.5 173.1,211.5 173.7,211.4 174.2,211.4 174.8,211.4 175.3,211.3 175.9,211.3 176.5,211.2 177.0,211.2 177.6,211.1 178.2,211.0 178.7,210.9 179.3,210.7 179.8,210.5 180.4,210.3 181.0,210.1 181.5,209.8 182.1,209.5 182.7,209.1 183.2,208.7 183.8,208.2 184.3,207.6 184.9,207.0 185.5,206.2 186.0,205.4 186.6,204.5 187.2,203.4 187.7,202.2 188.3,200.8 188.9,199.4 189.4,197.7 190.0,195.9 190.5,193.9 191.1,191.7 191.7,189.3 192.2,186.8 192.8,184.0 193.4,181.0 193.9,177.8 194.5,174.3 195.0,170.7 195.6,166.8 196.2,162.7 196.7,158.5 197.3,154.0 197.9,149.3 198.4,144.5 199.0,139.4 199.6,134.3 200.1,129.0 200.7,123.6 201.2,118.1 201.8,112.6 202.4,107.0 202.9,101.4 203.5,95.8 204.1,90.2 204.6,84.8 205.2,79.4 205.7,74.1 206.3,68.9 206.9,64.0 207.4,59.2 208.0,54.6 208.6,50.3 209.1,46.2 209.7,42.3 210.2,38.8 210.8,35.5 211.4,32.5 211.9,29.8 212.5,27.4 213.1,25.4 213.6,23.6 214.2,22.1 214.8,20.9 215.3,19.9 215.9,19.2 216.4,18.8 217.0,18.5 217.6,18.4 218.1,18.4 218.7,18.7 219.3,19.2 219.8,19.9 220.4,20.9 220.9,22.0 221.5,23.4 222.1,24.9 222.6,26.7 223.2,28.6 223.8,30.6 224.3,32.8 224.9,35.2 225.4,37.6 226.0,40.1 226.6,42.8 227.1,45.5 227.7,48.3 228.3,51.2 228.8,54.1 229.4,57.1 230.0,60.1 230.5,63.1 231.1,66.2 231.6,69.3 232.2,72.4 232.8,75.5 233.3,78.6 233.9,81.7 234.5,84.7 235.0,87.8 235.6,90.8 236.1,93.8 236.7,96.8 237.3,99.7 237.8,102.6 238.4,105.5 239.0,108.3 239.5,111.0 240.1,113.8 240.6,116.4 241.2,119.1 241.8,121.6 242.3,124.2 242.9,126.6 243.5,129.1 244.0,131.4 244.6,133.7 245.2,136.0 245.7,138.2 246.3,140.3 246.8,142.4 247.4,144.5 248.0,146.4 248.5,148.4 249.1,150.2 249.7,152.1 250.2,153.8 250.8,155.5 251.3,157.2 251.9,158.8 252.5,160.4 253.0,161.9 253.6,163.4 254.2,164.8 254.7,166.2 255.3,167.5 255.9,168.8 256.4,170.1 257.0,171.3 257.5,172.4 258.1,173.6 258.7,174.6 259.2,175.7 259.8,176.7 260.4,177.7 260.9,178.6 261.5,179.5 262.0,180.4 262.6,181.2 263.2,182.0 263.7,182.8 264.3,183.6 264.9,184.3 265.4,185.0 266.0,185.6 266.5,186.3 267.1,186.9 267.7,187.5 268.2,188.1 268.8,188.6 269.4,189.1 269.9,189.7 270.5,190.1 271.1,190.6 271.6,191.1 272.2,191.5 272.7,191.9 273.3,192.3 273.9,192.7 274.4,193.1 275.0,193.4 275.6,193.8 276.1,194.1 276.7,194.4 277.2,194.7 277.8,195.0 278.4,195.3 278.9,195.5 279.5,195.8 280.1,196.0 280.6,196.3 281.2,196.5 281.7,196.7 282.3,196.9 282.9,197.1 283.4,197.3 284.0,197.5 284.6,197.6 285.1,197.8 285.7,197.9 286.3,198.1 286.8,198.2 287.4,198.3 287.9,198.4 288.5,198.6 289.1,198.7 289.6,198.8 290.2,198.9 290.8,198.9 291.3,199.0 291.9,199.1 292.4,199.2 293.0,199.2 293.6,199.3 294.1,199.4 294.7,199.4 295.3,199.5 295.8,199.5 296.4,199.6 296.9,199.6 297.5,199.6 298.1,199.7 298.6,199.7 299.2,199.7 299.8,199.7 300.3,199.7 300.9,199.7 301.5,199.8 302.0,199.8 302.6,199.8 303.1,199.8 303.7,199.8 304.3,199.8 304.8,199.8 305.4,199.8 306.0,199.8 306.5,199.8 307.1,199.8 307.6,199.8 308.2,199.8 308.8,199.8 309.3,199.7 309.9,199.7 310.5,199.7 311.0,199.7 311.6,199.7 312.2,199.7 312.7,199.7 313.3,199.7 313.8,199.7 314.4,199.7 315.0,199.6 315.5,199.6 316.1,199.6 316.7,199.6 317.2,199.6 317.8,199.6 318.3,199.6 318.9,199.6 319.5,199.5 320.0,199.5 320.6,199.5 321.2,199.5 321.7,199.5 322.3,199.5 322.8,199.5 323.4,199.5 324.0,199.4 324.5,199.4 325.1,199.4 325.7,199.4 326.2,199.4 326.8,199.4 327.4,199.4 327.9,199.4 328.5,199.3 329.0,199.3 329.6,199.3 330.2,199.3 330.7,199.3 331.3,199.3 331.9,199.3 332.4,199.3 333.0,199.3 333.5,199.2 334.1,199.2 334.7,199.2 335.2,199.2 335.8,199.2 336.4,199.2 336.9,199.2 337.5,199.2 338.0,199.1 338.6,199.1 339.2,199.1 339.7,199.1 340.3,199.1" fill="none" stroke="#481EFF" stroke-width="1.4" stroke-linejoin="round" stroke-miterlimit="10" stroke-linecap="round"/>
<polyline points="171.4,211.5 172.0,211.5 172.5,211.4 173.1,211.4 173.7,211.3 174.2,211.2 174.8,211.2 175.3,211.1 175.9,211.0 176.5,210.8 177.0,210.7 177.6,210.5 178.2,210.3 178.7,210.0 179.3,209.7 179.8,209.4 180.4,209.0 181.0,208.5 181.5,208.0 182.1,207.4 182.7,206.7 183.2,205.9 183.8,205.0 184.3,204.0 184.9,202.9 185.5,201.7 186.0,200.3 186.6,198.8 187.2,197.1 187.7,195.3 188.3,193.3 188.9,191.1 189.4,188.7 190.0,186.2 190.5,183.4 191.1,180.4 191.7,177.3 192.2,173.9 192.8,170.4 193.4,166.6 193.9,162.7 194.5,158.5 195.0,154.2 195.6,149.8 196.2,145.2 196.7,140.4 197.3,135.5 197.9,130.6 198.4,125.5 199.0,120.4 199.6,115.3 200.1,110.1 200.7,105.0 201.2,99.9 201.8,94.8 202.4,89.8 202.9,85.0 203.5,80.3 204.1,75.7 204.6,71.3 205.2,67.1 205.7,63.1 206.3,59.3 206.9,55.7 207.4,52.5 208.0,49.5 208.6,46.7 209.1,44.2 209.7,42.1 210.2,40.1 210.8,38.5 211.4,37.1 211.9,36.0 212.5,35.2 213.1,34.5 213.6,34.1 214.2,33.8 214.8,33.7 215.3,33.8 215.9,34.0 216.4,34.6 217.0,35.4 217.6,36.4 218.1,37.6 218.7,39.1 219.3,40.7 219.8,42.6 220.4,44.6 220.9,46.8 221.5,49.1 222.1,51.5 222.6,54.1 223.2,56.8 223.8,59.5 224.3,62.4 224.9,65.3 225.4,68.3 226.0,71.3 226.6,74.4 227.1,77.5 227.7,80.6 228.3,83.7 228.8,86.9 229.4,90.0 230.0,93.1 230.5,96.3 231.1,99.4 231.6,102.4 232.2,105.5 232.8,108.5 233.3,111.5 233.9,114.4 234.5,117.3 235.0,120.1 235.6,122.9 236.1,125.7 236.7,128.3 237.3,131.0 237.8,133.5 238.4,136.0 239.0,138.5 239.5,140.9 240.1,143.2 240.6,145.5 241.2,147.7 241.8,149.9 242.3,152.0 242.9,154.0 243.5,156.0 244.0,157.9 244.6,159.8 245.2,161.6 245.7,163.3 246.3,165.0 246.8,166.6 247.4,168.2 248.0,169.8 248.5,171.2 249.1,172.7 249.7,174.1 250.2,175.4 250.8,176.7 251.3,177.9 251.9,179.1 252.5,180.3 253.0,181.4 253.6,182.4 254.2,183.5 254.7,184.5 255.3,185.4 255.9,186.3 256.4,187.2 257.0,188.0 257.5,188.9 258.1,189.6 258.7,190.4 259.2,191.1 259.8,191.8 260.4,192.4 260.9,193.1 261.5,193.7 262.0,194.3 262.6,194.8 263.2,195.4 263.7,195.9 264.3,196.4 264.9,196.8 265.4,197.3 266.0,197.7 266.5,198.1 267.1,198.5 267.7,198.9 268.2,199.2 268.8,199.6 269.4,199.9 269.9,200.2 270.5,200.5 271.1,200.8 271.6,201.0 272.2,201.3 272.7,201.5 273.3,201.7 273.9,202.0 274.4,202.2 275.0,202.4 275.6,202.5 276.1,202.7 276.7,202.9 277.2,203.0 277.8,203.2 278.4,203.3 278.9,203.4 279.5,203.6 280.1,203.7 280.6,203.8 281.2,203.9 281.7,204.0 282.3,204.1 282.9,204.1 283.4,204.2 284.0,204.3 284.6,204.3 285.1,204.4 285.7,204.4 286.3,204.5 286.8,204.5 287.4,204.6 287.9,204.6 288.5,204.7 289.1,204.7 289.6,204.7 290.2,204.7 290.8,204.8 291.3,204.8 291.9,204.8 292.4,204.8 293.0,204.8 293.6,204.8 294.1,204.8 294.7,204.8 295.3,204.8 295.8,204.8 296.4,204.9 296.9,204.9 297.5,204.9 298.1,204.9 298.6,204.8 299.2,204.8 299.8,204.8 300.3,204.8 300.9,204.8 301.5,204.8 302.0,204.8 302.6,204.8 303.1,204.8 303.7,204.8 304.3,204.7 304.8,204.7 305.4,204.7 306.0,204.7 306.5,204.7 307.1,204.7 307.6,204.7 308.2,204.7 308.8,204.6 309.3,204.6 309.9,204.6 310.5,204.6 311.0,204.6 311.6,204.6 312.2,204.6 312.7,204.5 313.3,204.5 313.8,204.5 314.4,204.5 315.0,204.5 315.5,204.5 316.1,204.5 316.7,204.5 317.2,204.5 317.8,204.4 318.3,204.4 318.9,204.4 319.5,204.4 320.0,204.4 320.6,204.4 321.2,204.4 321.7,204.4 322.3,204.4 322.8,204.3 323.4,204.3 324.0,204.3 324.5,204.3 325.1,204.3 325.7,204.3 326.2,204.3 326.8,204.3 327.4,204.3 327.9,204.3 328.5,204.2 329.0,204.2 329.6,204.2 330.2,204.2 330.7,204.2 331.3,204.2 331.9,204.2 332.4,204.2 333.0,204.2 333.5,204.2 334.1,204.2 334.7,204.1 335.2,204.1 335.8,204.1 336.4,204.1 336.9,204.1 337.5,204.1 338.0,204.1 338.6,204.1 339.2,204.1 339.7,204.1 340.3,204.1" fill="none" stroke="#3F8F2A" stroke-width="1.4" stroke-linejoin="round" stroke-miterlimit="10" stroke-linecap="round"/>
<polyline points="171.4,211.5 172.0,211.5 172.5,211.4 173.1,211.4 173.7,211.3 174.2,211.3 174.8,211.2 175.3,211.1 175.9,211.1 176.5,210.9 177.0,210.8 177.6,210.6 178.2,210.5 178.7,210.2 179.3,210.0 179.8,209.7 180.4,209.3 181.0,208.9 181.5,208.4 182.1,207.9 182.7,207.3 183.2,206.6 183.8,205.7 184.3,204.8 184.9,203.8 185.5,202.6 186.0,201.3 186.6,199.9 187.2,198.2 187.7,196.5 188.3,194.5 188.9,192.3 189.4,190.0 190.0,187.4 190.5,184.6 191.1,181.6 191.7,178.4 192.2,174.9 192.8,171.3 193.4,167.3 193.9,163.2 194.5,158.8 195.0,154.2 195.6,149.5 196.2,144.5 196.7,139.3 197.3,134.0 197.9,128.5 198.4,122.9 199.0,117.1 199.6,111.3 200.1,105.4 200.7,99.5 201.2,93.6 201.8,87.7 202.4,81.8 202.9,76.1 203.5,70.4 204.1,64.8 204.6,59.4 205.2,54.2 205.7,49.2 206.3,44.4 206.9,39.9 207.4,35.6 208.0,31.7 208.6,28.0 209.1,24.6 209.7,21.5 210.2,18.8 210.8,16.3 211.4,14.2 211.9,12.4 212.5,10.9 213.1,9.7 213.6,8.8 214.2,8.1 214.8,7.6 215.3,7.4 215.9,7.3 216.4,7.4 217.0,7.8 217.6,8.4 218.1,9.3 218.7,10.5 219.3,11.9 219.8,13.5 220.4,15.3 220.9,17.4 221.5,19.6 222.1,22.0 222.6,24.5 223.2,27.2 223.8,30.0 224.3,33.0 224.9,36.0 225.4,39.1 226.0,42.3 226.6,45.6 227.1,48.9 227.7,52.2 228.3,55.7 228.8,59.1 229.4,62.5 230.0,66.0 230.5,69.4 231.1,72.9 231.6,76.3 232.2,79.8 232.8,83.2 233.3,86.5 233.9,89.9 234.5,93.2 235.0,96.4 235.6,99.6 236.1,102.8 236.7,105.9 237.3,109.0 237.8,112.0 238.4,114.9 239.0,117.8 239.5,120.7 240.1,123.4 240.6,126.1 241.2,128.8 241.8,131.3 242.3,133.9 242.9,136.3 243.5,138.7 244.0,141.0 244.6,143.3 245.2,145.5 245.7,147.6 246.3,149.7 246.8,151.7 247.4,153.6 248.0,155.5 248.5,157.4 249.1,159.1 249.7,160.9 250.2,162.5 250.8,164.1 251.3,165.7 251.9,167.2 252.5,168.6 253.0,170.0 253.6,171.4 254.2,172.7 254.7,173.9 255.3,175.1 255.9,176.3 256.4,177.4 257.0,178.5 257.5,179.6 258.1,180.6 258.7,181.5 259.2,182.5 259.8,183.3 260.4,184.2 260.9,185.0 261.5,185.8 262.0,186.6 262.6,187.3 263.2,188.0 263.7,188.7 264.3,189.3 264.9,189.9 265.4,190.5 266.0,191.1 266.5,191.6 267.1,192.1 267.7,192.6 268.2,193.1 268.8,193.5 269.4,194.0 269.9,194.4 270.5,194.8 271.1,195.1 271.6,195.5 272.2,195.9 272.7,196.2 273.3,196.5 273.9,196.8 274.4,197.1 275.0,197.3 275.6,197.6 276.1,197.8 276.7,198.1 277.2,198.3 277.8,198.5 278.4,198.7 278.9,198.9 279.5,199.1 280.1,199.2 280.6,199.4 281.2,199.5 281.7,199.7 282.3,199.8 282.9,199.9 283.4,200.0 284.0,200.2 284.6,200.3 285.1,200.3 285.7,200.4 286.3,200.5 286.8,200.6 287.4,200.7 287.9,200.7 288.5,200.8 289.1,200.8 289.6,200.9 290.2,200.9 290.8,201.0 291.3,201.0 291.9,201.0 292.4,201.1 293.0,201.1 293.6,201.1 294.1,201.1 294.7,201.2 295.3,201.2 295.8,201.2 296.4,201.2 296.9,201.2 297.5,201.2 298.1,201.2 298.6,201.2 299.2,201.2 299.8,201.2 300.3,201.2 300.9,201.2 301.5,201.2 302.0,201.2 302.6,201.2 303.1,201.2 303.7,201.2 304.3,201.2 304.8,201.2 305.4,201.2 306.0,201.2 306.5,201.1 307.1,201.1 307.6,201.1 308.2,201.1 308.8,201.1 309.3,201.1 309.9,201.1 310.5,201.1 311.0,201.1 311.6,201.0 312.2,201.0 312.7,201.0 313.3,201.0 313.8,201.0 314.4,201.0 315.0,201.0 315.5,201.0 316.1,201.0 316.7,201.0 317.2,200.9 317.8,200.9 318.3,200.9 318.9,200.9 319.5,200.9 320.0,200.9 320.6,200.9 321.2,200.9 321.7,200.9 322.3,200.9 322.8,200.9 323.4,200.8 324.0,200.8 324.5,200.8 325.1,200.8 325.7,200.8 326.2,200.8 326.8,200.8 327.4,200.8 327.9,200.8 328.5,200.8 329.0,200.8 329.6,200.8 330.2,200.7 330.7,200.7 331.3,200.7 331.9,200.7 332.4,200.7 333.0,200.7 333.5,200.7 334.1,200.7 334.7,200.7 335.2,200.7 335.8,200.7 336.4,200.7 336.9,200.7 337.5,200.7 338.0,200.7 338.6,200.6 339.2,200.6 339.7,200.6 340.3,200.6" fill="none" stroke="#8A1EFF" stroke-width="1.4" stroke-linejoin="round" stroke-miterlimit="10" stroke-linecap="round"/>
<polyline points="171.4,211.5 172.0,211.5 172.5,211.5 173.1,211.5 173.7,211.5 174.2,211.4 174.8,211.4 175.3,211.4 175.9,211.3 176.5,211.3 177.0,211.3 177.6,211.2 178.2,211.1 178.7,211.0 179.3,210.9 179.8,210.8 180.4,210.7 181.0,210.5 181.5,210.3 182.1,210.1 182.7,209.9 183.2,209.6 183.8,209.2 184.3,208.8 184.9,208.4 185.5,207.9 186.0,207.3 186.6,206.7 187.2,206.0 187.7,205.3 188.3,204.4 188.9,203.4 189.4,202.4 190.0,201.3 190.5,200.0 191.1,198.7 191.7,197.3 192.2,195.7 192.8,194.1 193.4,192.3 193.9,190.4 194.5,188.4 195.0,186.3 195.6,184.2 196.2,181.9 196.7,179.5 197.3,177.1 197.9,174.5 198.4,172.0 199.0,169.3 199.6,166.6 200.1,163.9 200.7,161.1 201.2,158.4 201.8,155.6 202.4,152.8 202.9,150.1 203.5,147.4 204.1,144.7 204.6,142.1 205.2,139.6 205.7,137.1 206.3,134.8 206.9,132.5 207.4,130.4 208.0,128.3 208.6,126.4 209.1,124.6 209.7,122.9 210.2,121.4 210.8,120.0 211.4,118.7 211.9,117.6 212.5,116.6 213.1,115.7 213.6,114.9 214.2,114.3 214.8,113.8 215.3,113.3 215.9,113.0 216.4,112.8 217.0,112.6 217.6,112.5 218.1,112.5 218.7,112.5 219.3,112.5 219.8,112.7 220.4,113.0 220.9,113.4 221.5,113.9 222.1,114.6 222.6,115.3 223.2,116.1 223.8,117.0 224.3,118.0 224.9,119.0 225.4,120.2 226.0,121.3 226.6,122.6 227.1,123.9 227.7,125.2 228.3,126.6 228.8,128.0 229.4,129.4 230.0,130.9 230.5,132.4 231.1,133.9 231.6,135.4 232.2,136.9 232.8,138.5 233.3,140.0 233.9,141.6 234.5,143.1 235.0,144.6 235.6,146.2 236.1,147.7 236.7,149.2 237.3,150.7 237.8,152.2 238.4,153.7 239.0,155.1 239.5,156.5 240.1,158.0 240.6,159.3 241.2,160.7 241.8,162.1 242.3,163.4 242.9,164.7 243.5,165.9 244.0,167.2 244.6,168.4 245.2,169.6 245.7,170.8 246.3,171.9 246.8,173.0 247.4,174.1 248.0,175.2 248.5,176.2 249.1,177.2 249.7,178.2 250.2,179.1 250.8,180.1 251.3,181.0 251.9,181.8 252.5,182.7 253.0,183.5 253.6,184.3 254.2,185.1 254.7,185.9 255.3,186.6 255.9,187.3 256.4,188.0 257.0,188.7 257.5,189.3 258.1,189.9 258.7,190.5 259.2,191.1 259.8,191.7 260.4,192.2 260.9,192.8 261.5,193.3 262.0,193.8 262.6,194.3 263.2,194.7 263.7,195.2 264.3,195.6 264.9,196.0 265.4,196.4 266.0,196.8 266.5,197.2 267.1,197.5 267.7,197.9 268.2,198.2 268.8,198.5 269.4,198.8 269.9,199.1 270.5,199.4 271.1,199.7 271.6,200.0 272.2,200.2 272.7,200.5 273.3,200.7 273.9,201.0 274.4,201.2 275.0,201.4 275.6,201.6 276.1,201.8 276.7,202.0 277.2,202.2 277.8,202.4 278.4,202.6 278.9,202.8 279.5,202.9 280.1,203.1 280.6,203.2 281.2,203.4 281.7,203.5 282.3,203.6 282.9,203.8 283.4,203.9 284.0,204.0 284.6,204.1 285.1,204.2 285.7,204.3 286.3,204.4 286.8,204.5 287.4,204.6 287.9,204.7 288.5,204.8 289.1,204.9 289.6,204.9 290.2,205.0 290.8,205.1 291.3,205.1 291.9,205.2 292.4,205.2 293.0,205.3 293.6,205.3 294.1,205.4 294.7,205.4 295.3,205.5 295.8,205.5 296.4,205.5 296.9,205.6 297.5,205.6 298.1,205.6 298.6,205.7 299.2,205.7 299.8,205.7 300.3,205.7 300.9,205.7 301.5,205.7 302.0,205.7 302.6,205.7 303.1,205.7 303.7,205.7 304.3,205.7 304.8,205.7 305.4,205.7 306.0,205.7 306.5,205.7 307.1,205.7 307.6,205.7 308.2,205.7 308.8,205.7 309.3,205.7 309.9,205.7 310.5,205.7 311.0,205.7 311.6,205.7 312.2,205.7 312.7,205.6 313.3,205.6 313.8,205.6 314.4,205.6 315.0,205.6 315.5,205.6 316.1,205.6 316.7,205.6 317.2,205.6 317.8,205.5 318.3,205.5 318.9,205.5 319.5,205.5 320.0,205.5 320.6,205.5 321.2,205.5 321.7,205.5 322.3,205.4 322.8,205.4 323.4,205.4 324.0,205.4 324.5,205.4 325.1,205.4 325.7,205.4 326.2,205.3 326.8,205.3 327.4,205.3 327.9,205.3 328.5,205.3 329.0,205.3 329.6,205.3 330.2,205.3 330.7,205.2 331.3,205.2 331.9,205.2 332.4,205.2 333.0,205.2 333.5,205.2 334.1,205.2 334.7,205.1 335.2,205.1 335.8,205.1 336.4,205.1 336.9,205.1 337.5,205.1 338.0,205.1 338.6,205.1 339.2,205.0 339.7,205.0 340.3,205.0" fill="none" stroke="#FF9A3C" stroke-width="1.4" stroke-linejoin="round" stroke-miterlimit="10" stroke-linecap="round"/>
</g>
<line x1="62.8" y1="1.3" x2="62.8" y2="309.3" stroke="#000" stroke-width="1.2"/>
<line x1="62.1" y1="308.6" x2="341" y2="308.6" stroke="#000" stroke-width="1.2"/>
<line x1="62.1" y1="1.3" x2="341" y2="1.3" stroke="#000" stroke-width="1.2"/>
<line x1="340.3" y1="1.3" x2="340.3" y2="308.6" stroke="#000" stroke-width="1.2"/>
<line x1="56.8" y1="305.7" x2="62.8" y2="305.7" stroke="#000" stroke-width="1.2"/>
<text x="53.5" y="310.5" font-size="16" text-anchor="end" >0</text>
<line x1="59.8" y1="278.02" x2="62.8" y2="278.02" stroke="#000" stroke-width="1.2"/>
<line x1="56.8" y1="250.34" x2="62.8" y2="250.34" stroke="#000" stroke-width="1.2"/>
<text x="53.5" y="255.14" font-size="16" text-anchor="end" >2</text>
<line x1="59.8" y1="222.66" x2="62.8" y2="222.66" stroke="#000" stroke-width="1.2"/>
<line x1="56.8" y1="194.98" x2="62.8" y2="194.98" stroke="#000" stroke-width="1.2"/>
<text x="53.5" y="199.78" font-size="16" text-anchor="end" >4</text>
<line x1="59.8" y1="167.3" x2="62.8" y2="167.3" stroke="#000" stroke-width="1.2"/>
<line x1="56.8" y1="139.62" x2="62.8" y2="139.62" stroke="#000" stroke-width="1.2"/>
<text x="53.5" y="144.42" font-size="16" text-anchor="end" >6</text>
<line x1="59.8" y1="111.94" x2="62.8" y2="111.94" stroke="#000" stroke-width="1.2"/>
<line x1="56.8" y1="84.26" x2="62.8" y2="84.26" stroke="#000" stroke-width="1.2"/>
<text x="53.5" y="89.06" font-size="16" text-anchor="end" >8</text>
<line x1="59.8" y1="56.58" x2="62.8" y2="56.58" stroke="#000" stroke-width="1.2"/>
<line x1="56.8" y1="28.9" x2="62.8" y2="28.9" stroke="#000" stroke-width="1.2"/>
<text x="53.5" y="33.7" font-size="16" text-anchor="end" >10</text>
<line x1="59.8" y1="1.22" x2="62.8" y2="1.22" stroke="#000" stroke-width="1.2"/>
<line x1="62.8" y1="308.6" x2="62.8" y2="314.6" stroke="#000" stroke-width="1.2"/>
<line x1="62.8" y1="1.3" x2="62.8" y2="7.3" stroke="#000" stroke-width="1.2"/>
<text x="62.8" y="331.6" font-size="16" text-anchor="middle" >0</text>
<line x1="90.55" y1="308.6" x2="90.55" y2="311.6" stroke="#000" stroke-width="1.2"/>
<line x1="90.55" y1="1.3" x2="90.55" y2="4.3" stroke="#000" stroke-width="1.2"/>
<line x1="118.3" y1="308.6" x2="118.3" y2="314.6" stroke="#000" stroke-width="1.2"/>
<line x1="118.3" y1="1.3" x2="118.3" y2="7.3" stroke="#000" stroke-width="1.2"/>
<text x="118.3" y="331.6" font-size="16" text-anchor="middle" >3</text>
<line x1="146.05" y1="308.6" x2="146.05" y2="311.6" stroke="#000" stroke-width="1.2"/>
<line x1="146.05" y1="1.3" x2="146.05" y2="4.3" stroke="#000" stroke-width="1.2"/>
<line x1="173.8" y1="308.6" x2="173.8" y2="314.6" stroke="#000" stroke-width="1.2"/>
<line x1="173.8" y1="1.3" x2="173.8" y2="7.3" stroke="#000" stroke-width="1.2"/>
<text x="173.8" y="331.6" font-size="16" text-anchor="middle" >6</text>
<line x1="201.55" y1="308.6" x2="201.55" y2="311.6" stroke="#000" stroke-width="1.2"/>
<line x1="201.55" y1="1.3" x2="201.55" y2="4.3" stroke="#000" stroke-width="1.2"/>
<line x1="229.3" y1="308.6" x2="229.3" y2="314.6" stroke="#000" stroke-width="1.2"/>
<line x1="229.3" y1="1.3" x2="229.3" y2="7.3" stroke="#000" stroke-width="1.2"/>
<text x="229.3" y="331.6" font-size="16" text-anchor="middle" >9</text>
<line x1="257.05" y1="308.6" x2="257.05" y2="311.6" stroke="#000" stroke-width="1.2"/>
<line x1="257.05" y1="1.3" x2="257.05" y2="4.3" stroke="#000" stroke-width="1.2"/>
<line x1="284.8" y1="308.6" x2="284.8" y2="314.6" stroke="#000" stroke-width="1.2"/>
<line x1="284.8" y1="1.3" x2="284.8" y2="7.3" stroke="#000" stroke-width="1.2"/>
<text x="284.8" y="331.6" font-size="16" text-anchor="middle" >12</text>
<line x1="312.55" y1="308.6" x2="312.55" y2="311.6" stroke="#000" stroke-width="1.2"/>
<line x1="312.55" y1="1.3" x2="312.55" y2="4.3" stroke="#000" stroke-width="1.2"/>
<line x1="340.3" y1="308.6" x2="340.3" y2="314.6" stroke="#000" stroke-width="1.2"/>
<line x1="340.3" y1="1.3" x2="340.3" y2="7.3" stroke="#000" stroke-width="1.2"/>
<text x="340.3" y="331.6" font-size="16" text-anchor="middle" >15</text>
<line x1="334.3" y1="1.3" x2="340.3" y2="1.3" stroke="#000" stroke-width="1.2"/>
<line x1="337.3" y1="32.03" x2="340.3" y2="32.03" stroke="#000" stroke-width="1.2"/>
<line x1="334.3" y1="62.76" x2="340.3" y2="62.76" stroke="#000" stroke-width="1.2"/>
<line x1="337.3" y1="93.49" x2="340.3" y2="93.49" stroke="#000" stroke-width="1.2"/>
<line x1="334.3" y1="124.22" x2="340.3" y2="124.22" stroke="#000" stroke-width="1.2"/>
<line x1="337.3" y1="154.95" x2="340.3" y2="154.95" stroke="#000" stroke-width="1.2"/>
<line x1="334.3" y1="185.68" x2="340.3" y2="185.68" stroke="#000" stroke-width="1.2"/>
<line x1="337.3" y1="216.41" x2="340.3" y2="216.41" stroke="#000" stroke-width="1.2"/>
<line x1="334.3" y1="247.14" x2="340.3" y2="247.14" stroke="#000" stroke-width="1.2"/>
<line x1="337.3" y1="277.87" x2="340.3" y2="277.87" stroke="#000" stroke-width="1.2"/>
<line x1="334.3" y1="308.6" x2="340.3" y2="308.6" stroke="#000" stroke-width="1.2"/>
<line x1="171.4" y1="1.3" x2="171.4" y2="212.2" stroke="#5a5a5a" stroke-width="1.5"/>
<line x1="170.7" y1="211.5" x2="340.3" y2="211.5" stroke="#5a5a5a" stroke-width="1.6"/>
<line x1="168.2" y1="211.5" x2="171.4" y2="211.5" stroke="#222" stroke-width="1.2"/>
<text x="166.5" y="214.9" font-size="11" text-anchor="end" >0</text>
<line x1="169.6" y1="192.39" x2="171.4" y2="192.39" stroke="#222" stroke-width="1.2"/>
<line x1="168.2" y1="173.28" x2="171.4" y2="173.28" stroke="#222" stroke-width="1.2"/>
<text x="166.5" y="176.68" font-size="11" text-anchor="end" >2</text>
<line x1="169.6" y1="154.17" x2="171.4" y2="154.17" stroke="#222" stroke-width="1.2"/>
<line x1="168.2" y1="135.06" x2="171.4" y2="135.06" stroke="#222" stroke-width="1.2"/>
<text x="166.5" y="138.46" font-size="11" text-anchor="end" >4</text>
<line x1="169.6" y1="115.95" x2="171.4" y2="115.95" stroke="#222" stroke-width="1.2"/>
<line x1="168.2" y1="96.85" x2="171.4" y2="96.85" stroke="#222" stroke-width="1.2"/>
<text x="166.5" y="100.25" font-size="11" text-anchor="end" >6</text>
<line x1="169.6" y1="77.74" x2="171.4" y2="77.74" stroke="#222" stroke-width="1.2"/>
<line x1="168.2" y1="58.63" x2="171.4" y2="58.63" stroke="#222" stroke-width="1.2"/>
<text x="166.5" y="62.03" font-size="11" text-anchor="end" >8</text>
<line x1="169.6" y1="39.52" x2="171.4" y2="39.52" stroke="#222" stroke-width="1.2"/>
<line x1="168.2" y1="20.41" x2="171.4" y2="20.41" stroke="#222" stroke-width="1.2"/>
<text x="166.5" y="23.81" font-size="11" text-anchor="end" >10</text>
<line x1="169.6" y1="1.3" x2="171.4" y2="1.3" stroke="#222" stroke-width="1.2"/>
<line x1="171.4" y1="211.5" x2="171.4" y2="213.3" stroke="#222" stroke-width="1.2"/>
<line x1="185.48" y1="211.5" x2="185.48" y2="214.7" stroke="#222" stroke-width="1.2"/>
<text x="185.48" y="225" font-size="11" text-anchor="middle" >2.4</text>
<line x1="199.55" y1="211.5" x2="199.55" y2="213.3" stroke="#222" stroke-width="1.2"/>
<line x1="213.62" y1="211.5" x2="213.62" y2="214.7" stroke="#222" stroke-width="1.2"/>
<text x="213.62" y="225" font-size="11" text-anchor="middle" >2.6</text>
<line x1="227.7" y1="211.5" x2="227.7" y2="213.3" stroke="#222" stroke-width="1.2"/>
<line x1="241.78" y1="211.5" x2="241.78" y2="214.7" stroke="#222" stroke-width="1.2"/>
<text x="241.78" y="225" font-size="11" text-anchor="middle" >2.8</text>
<line x1="255.85" y1="211.5" x2="255.85" y2="213.3" stroke="#222" stroke-width="1.2"/>
<line x1="269.93" y1="211.5" x2="269.93" y2="214.7" stroke="#222" stroke-width="1.2"/>
<text x="269.93" y="225" font-size="11" text-anchor="middle" >3.0</text>
<line x1="284" y1="211.5" x2="284" y2="213.3" stroke="#222" stroke-width="1.2"/>
<line x1="298.07" y1="211.5" x2="298.07" y2="214.7" stroke="#222" stroke-width="1.2"/>
<text x="298.07" y="225" font-size="11" text-anchor="middle" >3.2</text>
<line x1="312.15" y1="211.5" x2="312.15" y2="213.3" stroke="#222" stroke-width="1.2"/>
<line x1="326.23" y1="211.5" x2="326.23" y2="214.7" stroke="#222" stroke-width="1.2"/>
<text x="326.23" y="225" font-size="11" text-anchor="middle" >3.4</text>
<line x1="340.3" y1="211.5" x2="340.3" y2="213.3" stroke="#222" stroke-width="1.2"/>
<text x="201.6" y="358.8" font-size="17.8" text-anchor="middle" >r (&#197;)</text>
<text x="82" y="19.1" font-size="17.5" text-anchor="middle" >(a)</text>
<text transform="translate(13.9,190.5) rotate(-90)" font-size="17">g<tspan font-size="12" dy="5">lignin-anions</tspan><tspan dy="-5">(r)</tspan></text>
<text x="255.8" y="244" font-size="13" text-anchor="middle" >r (&#197;)</text>
<text transform="translate(148.7,140.8) rotate(-90)" font-size="13.3">g<tspan font-size="9.1" dy="3.5">lignin-anions</tspan><tspan dy="-3.5">(<tspan font-weight="bold">r</tspan>)</tspan></text>
<line x1="240" y1="17.6" x2="270.5" y2="17.6" stroke="#505050" stroke-width="1.4"/>
<text x="274" y="21.6" font-size="13.2" text-anchor="start" >[TBA][Ala]</text>
<line x1="240" y1="33.86" x2="270.5" y2="33.86" stroke="#F5424B" stroke-width="1.4"/>
<text x="274" y="37.86" font-size="13.2" text-anchor="start" >[TBA][Gly]</text>
<line x1="240" y1="50.12" x2="270.5" y2="50.12" stroke="#481EFF" stroke-width="1.4"/>
<text x="274" y="54.12" font-size="13.2" text-anchor="start" >[TBA][Lys]</text>
<line x1="240" y1="66.38" x2="270.5" y2="66.38" stroke="#3F8F2A" stroke-width="1.4"/>
<text x="274" y="70.38" font-size="13.2" text-anchor="start" >[TBA][Ace]</text>
<line x1="240" y1="82.64" x2="270.5" y2="82.64" stroke="#8A1EFF" stroke-width="1.4"/>
<text x="274" y="86.64" font-size="13.2" text-anchor="start" >[TBA][Val]</text>
<line x1="240" y1="98.9" x2="270.5" y2="98.9" stroke="#FF9A3C" stroke-width="1.4"/>
<text x="274" y="102.9" font-size="13.2" text-anchor="start" >[Ch][Lys]</text>
<g clip-path="url(#clipR)">
<polyline points="463.2,304.5 463.5,304.5 463.7,304.5 463.9,304.5 464.0,304.5 464.3,304.5 464.5,304.5 464.8,304.5 465.1,304.5 465.2,304.5 465.4,304.5 465.6,304.5 465.9,304.5 465.9,304.5 466.2,304.5 466.4,304.5 466.6,304.5 466.7,304.5 467.0,304.5 467.2,304.5 467.2,304.5 467.5,304.5 467.8,304.5 467.9,304.5 468.0,304.5 468.3,304.5 468.6,304.5 468.6,304.5 468.8,304.5 469.1,304.5 469.2,304.5 469.4,304.5 469.6,304.5 469.9,304.5 469.9,304.5 470.2,304.5 470.5,304.5 470.6,304.5 470.7,304.5 471.0,304.5 471.3,304.5 471.3,304.5 471.5,304.5 471.8,304.5 471.9,304.5 472.1,304.5 472.3,304.5 472.6,304.5 472.6,304.5 472.9,304.5 473.1,304.5 473.3,304.5 473.4,304.5 473.7,304.5 473.9,304.5 473.9,304.5 474.2,304.5 474.5,304.5 474.6,304.5 474.8,304.5 475.0,304.5 475.3,304.5 475.3,304.5 475.6,304.5 475.8,304.5 476.0,304.5 476.1,304.5 476.4,304.4 476.6,304.2 476.6,304.2 476.9,304.0 477.2,303.7 477.3,303.5 477.4,303.2 477.7,302.7 478.0,302.2 478.0,302.2 478.2,301.5 478.5,299.8 478.7,298.3 478.8,296.3 479.1,291.4 479.3,285.3 479.3,285.3 479.6,278.4 479.9,271.2 480.0,267.5 480.1,263.4 480.4,252.9 480.7,240.2 480.7,240.2 480.9,226.0 481.2,211.1 481.3,203.7 481.5,196.5 481.7,182.9 482.0,171.2 482.0,171.2 482.3,160.9 482.5,151.0 482.7,146.2 482.8,141.5 483.1,132.4 483.4,123.8 483.4,123.8 483.6,115.7 483.9,108.1 484.0,104.6 484.2,101.0 484.4,93.9 484.7,87.1 484.7,87.1 485.0,81.1 485.2,76.6 485.4,74.9 485.5,73.6 485.8,71.0 486.0,68.8 486.0,68.8 486.3,67.1 486.6,66.2 486.7,66.1 486.8,66.3 487.1,67.7 487.4,70.3 487.4,70.3 487.7,73.7 487.9,77.6 488.1,79.7 488.2,81.8 488.5,86.0 488.7,89.8 488.7,89.8 489.0,93.5 489.3,97.5 489.4,99.6 489.5,101.8 489.8,106.1 490.1,110.6 490.1,110.6 490.3,114.9 490.6,119.1 490.7,121.1 490.9,123.1 491.1,126.6 491.4,129.7 491.4,129.7 491.7,132.5 492.0,135.2 492.1,136.6 492.2,137.8 492.5,140.3 492.8,142.6 492.8,142.6 493.0,144.8 493.3,146.8 493.4,147.8 493.6,148.7 493.8,150.4 494.1,152.0 494.1,152.0 494.4,153.4 494.6,154.9 494.8,155.6 494.9,156.4 495.2,157.8 495.4,159.1 495.4,159.1 495.7,160.3 496.0,161.3 496.1,161.7 496.3,162.1 496.5,162.7 496.8,163.0 496.8,163.0 497.1,163.0 497.3,162.8 497.5,162.6 497.6,162.4 497.9,161.9 498.1,161.2 498.1,161.2 498.4,160.5 498.7,159.8 498.8,159.4 498.9,159.1 499.2,158.4 499.5,157.9 499.5,157.9 499.7,157.4 500.0,156.8 500.1,156.5 500.3,156.3 500.5,155.7 500.8,155.3 500.8,155.3 501.1,155.0 501.4,154.9 501.5,155.0 501.6,155.1 501.9,155.6 502.2,156.3 502.2,156.3 502.4,157.1 502.7,158.1 502.8,158.6 503.0,159.1 503.2,160.0 503.5,160.7 503.5,160.3 503.8,161.9 504.0,162.9 504.2,163.1 504.3,162.8 504.6,163.1 504.8,163.6 504.8,163.7 505.1,164.7 505.4,165.6 505.5,166.0 505.7,166.4 505.9,167.1 506.2,167.6 506.9,169.1 507.5,171.2 508.2,173.0 508.9,173.9 509.6,175.2 510.2,176.6 510.9,178.2 511.6,178.5 512.2,179.8 512.9,180.3 513.6,181.0 514.3,181.3 514.9,181.6 515.6,182.5 516.3,183.0 516.9,184.1 517.6,185.5 518.3,186.3 519.0,186.7 519.6,187.7 520.3,188.2 521.0,190.3 521.6,191.1 522.3,193.1 523.0,195.1 523.7,196.8 524.3,198.0 525.0,198.8 525.7,200.3 526.3,201.6 527.0,203.1 527.7,205.2 528.4,207.1 529.0,207.3 529.7,206.7 530.4,205.7 531.0,205.0 531.7,204.4 532.4,204.8 533.1,205.4 533.7,205.1 534.4,204.1 535.1,203.2 535.7,202.7 536.4,202.9 537.1,202.6 537.8,202.7 538.4,202.5 539.1,202.8 539.8,203.1 540.5,203.0 541.1,202.8 541.8,202.4 542.5,201.9 543.1,201.4 543.8,200.0 544.5,199.7 545.2,199.7 545.8,200.3 546.5,200.3 547.2,200.1 547.8,199.7 548.5,199.9 549.2,200.5 549.9,200.3 550.5,200.0 551.2,198.2 551.9,198.4 552.5,198.3 553.2,198.0 553.9,197.8 554.6,197.1 555.2,196.8 555.9,196.1 556.6,195.8 557.2,196.0 557.9,195.3 558.6,195.1 559.3,194.5 559.9,194.0 560.6,192.3 561.3,191.7 561.9,191.1 562.6,190.4 563.3,189.1 564.0,187.2 564.6,185.9 565.3,183.9 566.0,182.8 566.6,181.4 567.3,181.3 568.0,179.8 568.7,177.7 569.3,175.4 570.0,173.7 570.7,173.0 571.4,171.1 572.0,169.3 572.7,168.0 573.4,166.9 574.0,165.9 574.7,164.4 575.4,164.0 576.1,162.8 576.7,162.2 577.4,161.3 578.1,161.4 578.7,160.8 579.4,159.7 580.1,158.8 580.8,157.5 581.4,156.8 582.1,155.5 582.8,154.9 583.4,154.6 584.1,155.3 584.8,155.2 585.5,154.5 586.1,153.5 586.8,153.2 587.5,153.5 588.1,153.5 588.8,154.1 589.5,153.4 590.2,153.3 590.8,153.2 591.5,154.2 592.2,154.3 592.8,153.7 593.5,153.2 594.2,153.5 594.9,153.6 595.5,153.4 596.2,152.9 596.9,153.2 597.6,153.5 598.2,153.8 598.9,153.9 599.6,154.7 600.2,154.6 600.9,155.1 601.6,154.5 602.3,156.1 602.9,156.4 603.6,157.3 604.3,157.2 604.9,157.7 605.6,158.3 606.3,158.4 607.0,159.1 607.6,159.7 608.3,159.9 609.0,159.6 609.6,159.8 610.3,160.4 611.0,161.1 611.7,161.1 612.3,161.8 613.0,162.6 613.7,163.2 614.3,163.5 615.0,163.5 615.7,163.8 616.4,163.5 617.0,163.9 617.7,163.9 618.4,164.9 619.0,164.6 619.7,165.6 620.4,165.7 621.1,165.8 621.7,165.6 622.4,165.7 623.1,166.3 623.7,166.1 624.4,166.1 625.1,166.1 625.8,166.1 626.4,166.5 627.1,166.8 627.8,167.6 628.5,167.1 629.1,166.7 629.8,166.3 630.5,166.8 631.1,167.4 631.8,167.7 632.5,167.9 633.2,167.7 633.8,167.8 634.5,168.1 635.2,168.5 635.8,168.9 636.5,168.2 637.2,167.4 637.9,167.5 638.5,168.2 639.2,170.0 639.9,170.0 640.5,170.1 641.2,169.8 641.9,169.7 642.6,170.3 643.2,170.1 643.9,170.5 644.6,170.5 645.2,170.2 645.9,170.0 646.6,170.1 647.3,171.0 647.9,171.2 648.6,170.8 649.3,170.8 649.9,171.2 650.6,171.3 651.3,171.0 652.0,170.7 652.6,170.6 653.3,170.0 654.0,169.8 654.6,169.8 655.3,170.0 656.0,170.1 656.7,170.1 657.3,170.9 658.0,171.1 658.7,171.3 659.4,170.3 660.0,170.6 660.7,170.3 661.4,170.7 662.0,170.1 662.7,170.1 663.4,170.1 664.1,170.5 664.7,170.5 665.4,170.2 666.1,170.2 666.7,169.7 667.4,169.0 668.1,168.9 668.8,168.8 669.4,169.2 670.1,168.6 670.8,168.7 671.4,168.5 672.1,168.4 672.8,167.4 673.5,166.8 674.1,166.6 674.8,166.7 675.5,166.2 676.1,165.1 676.8,164.4 677.5,164.2 678.2,164.2 678.8,164.4 679.5,164.3 680.2,164.2 680.8,163.5 681.5,163.1 682.2,163.2 682.9,162.7 683.5,161.8 684.2,161.2 684.9,161.2 685.5,161.4 686.2,160.8 686.9,161.2 687.6,160.5 688.2,160.7 688.9,159.5 689.6,159.8 690.3,159.6 690.9,159.8 691.6,159.3 692.3,159.2 692.9,159.1 693.6,159.3 694.3,159.4 695.0,158.6 695.6,158.0 696.3,157.2 697.0,157.0 697.6,157.4 698.3,157.2 699.0,156.8 699.7,155.9 700.3,156.4 701.0,156.8" fill="none" stroke="#505050" stroke-width="1.6" stroke-linejoin="round" stroke-miterlimit="10" stroke-linecap="round"/>
<polyline points="463.2,304.5 463.5,304.5 463.7,304.5 463.9,304.5 464.0,304.5 464.3,304.5 464.5,304.5 464.8,304.5 465.1,304.5 465.2,304.5 465.4,304.5 465.6,304.5 465.9,304.5 465.9,304.5 466.2,304.5 466.4,304.5 466.6,304.5 466.7,304.5 467.0,304.5 467.2,304.5 467.2,304.5 467.5,304.5 467.8,304.5 467.9,304.5 468.0,304.5 468.3,304.5 468.6,304.5 468.6,304.5 468.8,304.5 469.1,304.5 469.2,304.5 469.4,304.5 469.6,304.5 469.9,304.5 469.9,304.5 470.2,304.5 470.5,304.5 470.6,304.5 470.7,304.5 471.0,304.5 471.3,304.5 471.3,304.5 471.5,304.5 471.8,304.5 471.9,304.5 472.1,304.5 472.3,304.5 472.6,304.5 472.6,304.5 472.9,304.5 473.1,304.5 473.3,304.5 473.4,304.5 473.7,304.5 473.9,304.5 473.9,304.5 474.2,304.5 474.5,304.5 474.6,304.5 474.8,304.5 475.0,304.5 475.3,304.5 475.3,304.5 475.6,304.5 475.8,304.5 476.0,304.5 476.1,304.5 476.4,304.4 476.6,304.2 476.6,304.2 476.9,304.0 477.2,303.6 477.3,303.4 477.4,303.2 477.7,302.7 478.0,302.2 478.0,302.2 478.2,301.5 478.5,299.9 478.7,298.5 478.8,296.8 479.1,292.3 479.3,287.0 479.3,287.0 479.6,281.0 479.9,274.9 480.0,271.9 480.1,268.7 480.4,261.3 480.7,252.7 480.7,252.7 480.9,243.1 481.2,233.0 481.3,227.7 481.5,222.5 481.7,211.9 482.0,201.6 482.0,201.6 482.3,191.8 482.5,182.7 482.7,178.6 482.8,174.6 483.1,166.4 483.4,158.2 483.4,158.2 483.6,150.1 483.9,142.4 484.0,138.7 484.2,135.3 484.4,128.9 484.7,123.5 484.7,123.5 485.0,119.4 485.2,115.9 485.4,114.2 485.5,112.5 485.8,109.3 486.0,106.6 486.0,106.6 486.3,104.3 486.6,102.6 486.7,102.1 486.8,101.7 487.1,101.7 487.4,102.5 487.4,102.5 487.7,103.9 487.9,105.8 488.1,106.8 488.2,107.9 488.5,110.0 488.7,112.0 488.7,112.0 489.0,114.0 489.3,116.2 489.4,117.4 489.5,118.6 489.8,121.2 490.1,123.7 490.1,123.7 490.3,126.2 490.6,128.6 490.7,129.7 490.9,130.8 491.1,132.7 491.4,134.2 491.4,134.2 491.7,135.5 492.0,136.8 492.1,137.4 492.2,138.1 492.5,139.3 492.8,140.5 492.8,140.5 493.0,141.6 493.3,142.7 493.4,143.2 493.6,143.7 493.8,144.7 494.1,145.6 494.1,145.6 494.4,146.4 494.6,147.1 494.8,147.4 494.9,147.7 495.2,148.2 495.4,148.6 495.4,148.6 495.7,148.9 496.0,149.1 496.1,149.2 496.3,149.2 496.5,149.4 496.8,149.5 496.8,149.5 497.1,149.7 497.3,149.8 497.5,149.8 497.6,149.9 497.9,150.0 498.1,150.1 498.1,150.1 498.4,150.2 498.7,150.3 498.8,150.3 498.9,150.3 499.2,150.4 499.5,150.4 499.5,150.4 499.7,150.5 500.0,150.5 500.1,150.5 500.3,150.5 500.5,150.3 500.8,150.0 500.8,150.0 501.1,149.5 501.4,149.0 501.5,148.7 501.6,148.5 501.9,148.0 502.2,147.6 502.2,147.6 502.4,147.5 502.7,147.9 502.8,148.3 503.0,148.8 503.2,150.2 503.5,150.6 503.5,151.0 503.8,152.2 504.0,154.5 504.2,156.2 504.3,157.3 504.6,159.5 504.8,161.8 504.8,162.5 505.1,165.7 505.4,168.0 505.5,169.5 505.7,169.7 505.9,171.8 506.2,174.0 506.9,179.7 507.5,184.4 508.2,188.1 508.9,189.9 509.6,191.2 510.2,192.0 510.9,192.9 511.6,193.0 512.2,192.1 512.9,191.3 513.6,191.2 514.3,191.1 514.9,191.4 515.6,190.5 516.3,190.5 516.9,189.7 517.6,190.5 518.3,191.1 519.0,192.2 519.6,192.6 520.3,193.8 521.0,194.9 521.6,195.8 522.3,196.0 523.0,196.9 523.7,197.7 524.3,198.6 525.0,198.4 525.7,198.8 526.3,199.5 527.0,201.2 527.7,201.7 528.4,201.2 529.0,200.7 529.7,200.8 530.4,201.6 531.0,202.3 531.7,202.6 532.4,202.5 533.1,201.8 533.7,202.5 534.4,202.3 535.1,202.6 535.7,201.7 536.4,201.7 537.1,201.5 537.8,201.8 538.4,201.0 539.1,200.6 539.8,200.6 540.5,201.4 541.1,201.8 541.8,201.0 542.5,201.3 543.1,201.2 543.8,201.5 544.5,200.5 545.2,200.3 545.8,200.2 546.5,200.3 547.2,200.0 547.8,200.2 548.5,199.9 549.2,200.2 549.9,199.6 550.5,200.2 551.2,199.5 551.9,199.9 552.5,199.4 553.2,198.8 553.9,197.7 554.6,196.1 555.2,195.7 555.9,193.9 556.6,193.0 557.2,192.1 557.9,191.7 558.6,190.5 559.3,189.5 559.9,188.7 560.6,187.7 561.3,186.5 561.9,186.1 562.6,186.4 563.3,185.9 564.0,185.8 564.6,186.1 565.3,186.0 566.0,185.2 566.6,183.0 567.3,182.1 568.0,181.5 568.7,181.9 569.3,181.1 570.0,180.4 570.7,179.6 571.4,179.2 572.0,178.4 572.7,177.6 573.4,177.0 574.0,176.0 574.7,175.0 575.4,175.1 576.1,174.1 576.7,174.2 577.4,172.7 578.1,173.4 578.7,172.8 579.4,172.7 580.1,172.0 580.8,171.4 581.4,170.9 582.1,170.8 582.8,170.8 583.4,170.4 584.1,169.5 584.8,169.3 585.5,169.3 586.1,169.4 586.8,169.4 587.5,169.5 588.1,168.6 588.8,168.2 589.5,167.5 590.2,168.1 590.8,167.3 591.5,166.5 592.2,166.1 592.8,166.2 593.5,166.8 594.2,166.0 594.9,165.6 595.5,165.5 596.2,165.5 596.9,165.5 597.6,164.9 598.2,165.0 598.9,165.2 599.6,165.4 600.2,165.1 600.9,164.7 601.6,164.7 602.3,164.0 602.9,163.9 603.6,163.5 604.3,164.2 604.9,163.7 605.6,162.9 606.3,162.3 607.0,161.9 607.6,162.4 608.3,162.3 609.0,162.4 609.6,161.6 610.3,160.9 611.0,161.1 611.7,159.7 612.3,159.9 613.0,158.7 613.7,159.2 614.3,158.3 615.0,158.0 615.7,159.0 616.4,159.3 617.0,158.8 617.7,157.8 618.4,157.5 619.0,158.3 619.7,157.3 620.4,156.6 621.1,155.9 621.7,156.1 622.4,156.1 623.1,156.0 623.7,155.8 624.4,155.6 625.1,154.8 625.8,154.2 626.4,154.3 627.1,154.6 627.8,155.0 628.5,155.4 629.1,155.9 629.8,155.9 630.5,156.2 631.1,156.0 631.8,156.6 632.5,157.2 633.2,157.4 633.8,157.9 634.5,157.9 635.2,158.5 635.8,159.4 636.5,160.6 637.2,161.4 637.9,162.1 638.5,161.6 639.2,161.9 639.9,162.3 640.5,163.1 641.2,163.2 641.9,163.1 642.6,163.5 643.2,164.3 643.9,165.2 644.6,165.8 645.2,166.2 645.9,166.6 646.6,166.8 647.3,167.8 647.9,168.7 648.6,169.8 649.3,170.0 649.9,169.4 650.6,168.8 651.3,169.4 652.0,170.7 652.6,171.2 653.3,171.1 654.0,171.4 654.6,171.6 655.3,172.0 656.0,171.3 656.7,171.7 657.3,171.7 658.0,172.1 658.7,172.7 659.4,173.2 660.0,173.6 660.7,173.1 661.4,173.4 662.0,173.8 662.7,173.9 663.4,173.2 664.1,172.2 664.7,172.1 665.4,173.1 666.1,173.8 666.7,174.3 667.4,173.7 668.1,174.1 668.8,173.8 669.4,173.4 670.1,172.8 670.8,172.4 671.4,171.8 672.1,171.1 672.8,170.4 673.5,170.1 674.1,169.6 674.8,169.4 675.5,169.5 676.1,168.8 676.8,168.7 677.5,168.4 678.2,168.2 678.8,168.0 679.5,167.2 680.2,166.8 680.8,166.2 681.5,166.1 682.2,165.8 682.9,165.3 683.5,165.6 684.2,166.1 684.9,165.7 685.5,164.7 686.2,164.7 686.9,165.4 687.6,165.3 688.2,164.6 688.9,163.7 689.6,163.5 690.3,162.7 690.9,163.0 691.6,162.6 692.3,161.8 692.9,161.5 693.6,161.0 694.3,161.1 695.0,160.4 695.6,160.6 696.3,161.1 697.0,161.4 697.6,160.9 698.3,159.9 699.0,159.0 699.7,158.7 700.3,158.5 701.0,158.7" fill="none" stroke="#F5424B" stroke-width="1.6" stroke-linejoin="round" stroke-miterlimit="10" stroke-linecap="round"/>
<polyline points="463.2,304.5 463.5,304.5 463.7,304.5 463.9,304.5 464.0,304.5 464.3,304.5 464.5,304.5 464.8,304.5 465.1,304.5 465.2,304.5 465.4,304.5 465.6,304.5 465.9,304.5 465.9,304.5 466.2,304.5 466.4,304.5 466.6,304.5 466.7,304.5 467.0,304.5 467.2,304.5 467.2,304.5 467.5,304.5 467.8,304.5 467.9,304.5 468.0,304.5 468.3,304.5 468.6,304.5 468.6,304.5 468.8,304.5 469.1,304.5 469.2,304.5 469.4,304.5 469.6,304.5 469.9,304.5 469.9,304.5 470.2,304.5 470.5,304.5 470.6,304.5 470.7,304.5 471.0,304.5 471.3,304.5 471.3,304.5 471.5,304.5 471.8,304.5 471.9,304.5 472.1,304.5 472.3,304.5 472.6,304.5 472.6,304.5 472.9,304.5 473.1,304.5 473.3,304.5 473.4,304.5 473.7,304.5 473.9,304.5 473.9,304.5 474.2,304.5 474.5,304.5 474.6,304.5 474.8,304.5 475.0,304.5 475.3,304.5 475.3,304.5 475.6,304.5 475.8,304.5 476.0,304.5 476.1,304.5 476.4,304.4 476.6,304.2 476.6,304.2 476.9,304.0 477.2,303.7 477.3,303.5 477.4,303.2 477.7,302.8 478.0,302.2 478.0,302.2 478.2,301.5 478.5,299.5 478.7,297.6 478.8,295.2 479.1,289.0 479.3,281.5 479.3,281.5 479.6,273.2 479.9,264.4 480.0,260.1 480.1,255.3 480.4,243.8 480.7,230.1 480.7,230.1 480.9,215.1 481.2,199.4 481.3,191.6 481.5,183.9 481.7,169.3 482.0,156.4 482.0,156.4 482.3,144.9 482.5,133.8 482.7,128.5 482.8,123.2 483.1,113.0 483.4,103.1 483.4,103.1 483.6,93.4 483.9,84.0 484.0,79.4 484.2,74.6 484.4,64.7 484.7,55.3 484.7,55.3 485.0,47.9 485.2,43.2 485.4,41.2 485.5,39.5 485.8,37.9 486.0,37.9 486.0,37.9 486.3,37.9 486.6,37.9 486.7,37.9 486.8,38.5 487.1,42.2 487.4,47.7 487.4,47.7 487.7,52.7 487.9,57.0 488.1,59.2 488.2,61.4 488.5,65.8 488.7,70.2 488.7,70.2 489.0,74.6 489.3,78.8 489.4,80.8 489.5,82.7 489.8,86.4 490.1,89.8 490.1,89.8 490.3,92.8 490.6,95.8 490.7,97.2 490.9,98.6 491.1,101.4 491.4,104.0 491.4,104.0 491.7,106.4 492.0,108.8 492.1,109.9 492.2,111.0 492.5,113.0 492.8,114.9 492.8,114.9 493.0,116.7 493.3,118.5 493.4,119.4 493.6,120.2 493.8,121.9 494.1,123.5 494.1,123.5 494.4,125.0 494.6,126.5 494.8,127.1 494.9,127.8 495.2,129.1 495.4,130.3 495.4,130.3 495.7,131.3 496.0,132.3 496.1,132.7 496.3,133.1 496.5,133.9 496.8,134.7 496.8,134.7 497.1,135.4 497.3,136.0 497.5,136.4 497.6,136.7 497.9,137.3 498.1,137.8 498.1,137.8 498.4,138.4 498.7,138.8 498.8,139.1 498.9,139.3 499.2,139.7 499.5,140.1 499.5,140.1 499.7,140.4 500.0,140.7 500.1,140.8 500.3,140.9 500.5,141.2 500.8,141.6 500.8,141.6 501.1,142.2 501.4,143.2 501.5,143.9 501.6,144.5 501.9,146.0 502.2,147.7 502.2,147.7 502.4,149.5 502.7,151.3 502.8,152.2 503.0,153.1 503.2,154.8 503.5,156.9 503.5,156.4 503.8,157.7 504.0,159.1 504.2,160.0 504.3,160.3 504.6,161.7 504.8,163.2 504.8,163.8 505.1,165.5 505.4,167.2 505.5,168.2 505.7,169.7 505.9,170.8 506.2,172.8 506.9,175.8 507.5,179.2 508.2,181.5 508.9,183.9 509.6,186.3 510.2,188.8 510.9,190.6 511.6,193.1 512.2,194.9 512.9,196.2 513.6,197.3 514.3,198.6 514.9,200.2 515.6,202.0 516.3,203.9 516.9,205.6 517.6,206.3 518.3,207.2 519.0,207.8 519.6,208.6 520.3,208.1 521.0,207.1 521.6,205.9 522.3,204.6 523.0,203.7 523.7,202.9 524.3,201.8 525.0,200.3 525.7,198.7 526.3,197.8 527.0,197.5 527.7,196.7 528.4,195.8 529.0,195.4 529.7,195.0 530.4,194.6 531.0,193.2 531.7,193.6 532.4,194.0 533.1,194.0 533.7,194.0 534.4,193.6 535.1,194.1 535.7,193.7 536.4,194.0 537.1,193.6 537.8,192.8 538.4,192.0 539.1,191.8 539.8,192.6 540.5,192.6 541.1,193.1 541.8,193.2 542.5,194.9 543.1,195.7 543.8,197.2 544.5,197.3 545.2,198.3 545.8,199.7 546.5,201.3 547.2,202.6 547.8,203.6 548.5,204.9 549.2,206.7 549.9,208.0 550.5,209.5 551.2,210.1 551.9,210.2 552.5,210.2 553.2,210.6 553.9,211.4 554.6,211.1 555.2,210.6 555.9,210.0 556.6,209.8 557.2,208.8 557.9,207.3 558.6,205.1 559.3,204.0 559.9,202.8 560.6,202.3 561.3,200.5 561.9,199.0 562.6,197.2 563.3,196.1 564.0,193.8 564.6,192.4 565.3,191.2 566.0,190.1 566.6,188.9 567.3,187.1 568.0,185.9 568.7,183.9 569.3,182.9 570.0,181.4 570.7,181.0 571.4,179.6 572.0,178.4 572.7,176.8 573.4,175.3 574.0,174.2 574.7,173.1 575.4,171.6 576.1,170.1 576.7,168.7 577.4,167.4 578.1,165.8 578.7,165.5 579.4,165.2 580.1,164.6 580.8,162.9 581.4,162.6 582.1,161.9 582.8,162.2 583.4,161.8 584.1,162.0 584.8,161.5 585.5,160.9 586.1,160.4 586.8,160.2 587.5,159.8 588.1,160.2 588.8,160.0 589.5,159.7 590.2,159.3 590.8,158.7 591.5,159.3 592.2,159.3 592.8,159.6 593.5,159.4 594.2,159.4 594.9,159.4 595.5,159.3 596.2,158.8 596.9,158.8 597.6,158.9 598.2,159.1 598.9,159.5 599.6,160.4 600.2,160.2 600.9,159.5 601.6,159.0 602.3,159.6 602.9,160.5 603.6,161.0 604.3,161.2 604.9,161.4 605.6,160.7 606.3,161.2 607.0,160.6 607.6,160.4 608.3,159.6 609.0,159.8 609.6,160.2 610.3,161.3 611.0,161.5 611.7,161.9 612.3,161.1 613.0,161.2 613.7,161.3 614.3,161.8 615.0,162.1 615.7,162.4 616.4,162.0 617.0,161.7 617.7,161.5 618.4,161.8 619.0,162.1 619.7,161.8 620.4,161.6 621.1,160.8 621.7,160.8 622.4,161.5 623.1,162.2 623.7,162.9 624.4,163.1 625.1,163.2 625.8,162.5 626.4,161.7 627.1,161.7 627.8,161.7 628.5,162.7 629.1,162.6 629.8,163.2 630.5,163.3 631.1,163.2 631.8,162.8 632.5,162.4 633.2,162.6 633.8,163.0 634.5,162.9 635.2,162.9 635.8,162.5 636.5,162.8 637.2,162.6 637.9,162.5 638.5,161.6 639.2,161.3 639.9,161.5 640.5,162.1 641.2,163.1 641.9,163.2 642.6,162.5 643.2,161.3 643.9,162.1 644.6,162.9 645.2,163.6 645.9,163.1 646.6,162.7 647.3,162.6 647.9,162.4 648.6,162.5 649.3,163.1 649.9,163.2 650.6,163.5 651.3,162.7 652.0,162.9 652.6,162.6 653.3,162.7 654.0,162.1 654.6,161.8 655.3,162.3 656.0,162.1 656.7,162.1 657.3,161.1 658.0,161.0 658.7,160.8 659.4,161.6 660.0,161.8 660.7,161.7 661.4,161.5 662.0,161.1 662.7,161.4 663.4,160.8 664.1,160.5 664.7,161.0 665.4,161.1 666.1,161.8 666.7,161.4 667.4,162.0 668.1,161.9 668.8,162.5 669.4,162.7 670.1,163.2 670.8,162.7 671.4,162.1 672.1,161.6 672.8,161.6 673.5,162.0 674.1,162.8 674.8,162.7 675.5,162.4 676.1,161.6 676.8,161.1 677.5,161.1 678.2,161.1 678.8,162.3 679.5,161.9 680.2,161.7 680.8,161.0 681.5,160.9 682.2,161.1 682.9,160.8 683.5,160.1 684.2,159.3 684.9,158.7 685.5,158.9 686.2,158.8 686.9,158.9 687.6,158.3 688.2,158.4 688.9,158.0 689.6,158.8 690.3,158.7 690.9,159.7 691.6,160.1 692.3,159.3 692.9,157.8 693.6,157.2 694.3,157.6 695.0,157.7 695.6,157.8 696.3,157.0 697.0,157.4 697.6,157.2 698.3,158.6 699.0,157.5 699.7,157.1 700.3,155.4 701.0,155.8" fill="none" stroke="#1E8CFF" stroke-width="1.6" stroke-linejoin="round" stroke-miterlimit="10" stroke-linecap="round"/>
<polyline points="463.2,304.5 463.5,304.5 463.7,304.5 463.9,304.5 464.0,304.5 464.3,304.5 464.5,304.5 464.8,304.5 465.1,304.5 465.2,304.5 465.4,304.5 465.6,304.5 465.9,304.5 465.9,304.5 466.2,304.5 466.4,304.5 466.6,304.5 466.7,304.5 467.0,304.5 467.2,304.5 467.2,304.5 467.5,304.5 467.8,304.5 467.9,304.5 468.0,304.5 468.3,304.5 468.6,304.5 468.6,304.5 468.8,304.5 469.1,304.5 469.2,304.5 469.4,304.5 469.6,304.5 469.9,304.5 469.9,304.5 470.2,304.5 470.5,304.5 470.6,304.5 470.7,304.5 471.0,304.5 471.3,304.5 471.3,304.5 471.5,304.5 471.8,304.5 471.9,304.5 472.1,304.5 472.3,304.5 472.6,304.5 472.6,304.5 472.9,304.5 473.1,304.5 473.3,304.5 473.4,304.5 473.7,304.5 473.9,304.5 473.9,304.5 474.2,304.5 474.5,304.5 474.6,304.5 474.8,304.5 475.0,304.5 475.3,304.5 475.3,304.5 475.6,304.5 475.8,304.5 476.0,304.5 476.1,304.5 476.4,304.4 476.6,304.2 476.6,304.2 476.9,304.0 477.2,303.6 477.3,303.4 477.4,303.2 477.7,302.7 478.0,302.2 478.0,302.2 478.2,301.5 478.5,299.9 478.7,298.5 478.8,296.8 479.1,292.3 479.3,287.0 479.3,287.0 479.6,281.0 479.9,274.9 480.0,271.9 480.1,268.7 480.4,261.3 480.7,252.6 480.7,252.6 480.9,243.1 481.2,232.9 481.3,227.6 481.5,222.4 481.7,211.8 482.0,201.5 482.0,201.5 482.3,191.7 482.5,182.7 482.7,178.6 482.8,174.6 483.1,166.5 483.4,158.4 483.4,158.4 483.6,150.5 483.9,143.2 484.0,139.8 484.2,136.6 484.4,131.1 484.7,126.8 484.7,126.8 485.0,123.2 485.2,119.8 485.4,118.2 485.5,116.7 485.8,114.2 486.0,112.6 486.0,112.6 486.3,112.0 486.6,112.3 486.7,112.6 486.8,113.1 487.1,114.2 487.4,115.6 487.4,115.6 487.7,117.2 487.9,118.7 488.1,119.4 488.2,120.1 488.5,121.6 488.7,123.3 488.7,123.3 489.0,125.2 489.3,127.1 489.4,128.1 489.5,129.1 489.8,131.1 490.1,133.1 490.1,133.1 490.3,135.0 490.6,136.9 490.7,137.7 490.9,138.6 491.1,140.2 491.4,141.6 491.4,141.6 491.7,142.9 492.0,144.2 492.1,144.9 492.2,145.5 492.5,146.8 492.8,148.0 492.8,148.0 493.0,149.1 493.3,150.0 493.4,150.5 493.6,150.9 493.8,151.5 494.1,152.0 494.1,152.0 494.4,152.3 494.6,152.6 494.8,152.7 494.9,152.9 495.2,153.1 495.4,153.3 495.4,153.3 495.7,153.4 496.0,153.4 496.1,153.4 496.3,153.4 496.5,153.2 496.8,152.9 496.8,152.9 497.1,152.5 497.3,152.0 497.5,151.8 497.6,151.5 497.9,151.0 498.1,150.4 498.1,150.4 498.4,149.8 498.7,149.2 498.8,148.9 498.9,148.6 499.2,148.0 499.5,147.5 499.5,147.5 499.7,146.9 500.0,146.3 500.1,146.1 500.3,146.0 500.5,146.2 500.8,146.8 500.8,146.8 501.1,147.6 501.4,148.7 501.5,149.3 501.6,150.0 501.9,151.4 502.2,153.0 502.2,153.0 502.4,154.6 502.7,156.3 502.8,157.1 503.0,157.9 503.2,159.4 503.5,160.8 503.5,160.3 503.8,161.3 504.0,162.9 504.2,164.0 504.3,164.6 504.6,166.8 504.8,168.3 504.8,169.2 505.1,169.7 505.4,171.6 505.5,172.0 505.7,173.6 505.9,174.8 506.2,175.8 506.9,177.7 507.5,180.7 508.2,183.6 508.9,185.3 509.6,187.2 510.2,189.8 510.9,193.6 511.6,197.1 512.2,198.9 512.9,201.4 513.6,202.8 514.3,203.8 514.9,204.3 515.6,204.4 516.3,204.7 516.9,204.5 517.6,204.4 518.3,204.6 519.0,204.9 519.6,204.7 520.3,203.6 521.0,202.0 521.6,200.8 522.3,200.8 523.0,201.6 523.7,202.2 524.3,203.2 525.0,203.2 525.7,204.1 526.3,204.4 527.0,205.7 527.7,206.6 528.4,206.6 529.0,207.1 529.7,206.9 530.4,207.4 531.0,207.3 531.7,206.6 532.4,206.4 533.1,205.2 533.7,204.5 534.4,203.8 535.1,202.8 535.7,201.8 536.4,200.8 537.1,200.2 537.8,199.2 538.4,197.4 539.1,196.8 539.8,195.5 540.5,195.0 541.1,193.2 541.8,192.4 542.5,191.3 543.1,190.4 543.8,190.2 544.5,190.7 545.2,190.9 545.8,190.6 546.5,189.9 547.2,189.7 547.8,189.6 548.5,189.2 549.2,189.5 549.9,189.4 550.5,189.6 551.2,189.4 551.9,189.5 552.5,189.8 553.2,190.3 553.9,190.5 554.6,190.6 555.2,190.1 555.9,190.1 556.6,189.9 557.2,189.6 557.9,188.8 558.6,189.3 559.3,189.9 559.9,190.6 560.6,190.6 561.3,190.9 561.9,191.1 562.6,191.1 563.3,191.3 564.0,191.4 564.6,191.4 565.3,191.0 566.0,190.1 566.6,189.6 567.3,189.0 568.0,188.4 568.7,188.3 569.3,188.0 570.0,187.7 570.7,186.5 571.4,185.7 572.0,184.2 572.7,182.8 573.4,181.1 574.0,179.1 574.7,177.7 575.4,175.6 576.1,174.8 576.7,172.8 577.4,171.2 578.1,169.9 578.7,168.6 579.4,167.5 580.1,166.2 580.8,164.5 581.4,163.1 582.1,161.7 582.8,161.3 583.4,160.6 584.1,159.6 584.8,158.8 585.5,157.5 586.1,157.7 586.8,157.6 587.5,157.5 588.1,156.7 588.8,155.5 589.5,155.3 590.2,154.3 590.8,154.0 591.5,153.4 592.2,153.3 592.8,153.1 593.5,153.5 594.2,153.6 594.9,154.0 595.5,154.5 596.2,155.5 596.9,156.3 597.6,156.2 598.2,156.8 598.9,156.5 599.6,157.2 600.2,156.3 600.9,156.5 601.6,156.7 602.3,157.3 602.9,158.4 603.6,158.3 604.3,158.5 604.9,158.7 605.6,158.8 606.3,159.4 607.0,159.0 607.6,160.1 608.3,160.2 609.0,160.4 609.6,160.3 610.3,161.1 611.0,161.4 611.7,161.2 612.3,161.0 613.0,161.1 613.7,162.0 614.3,162.3 615.0,162.7 615.7,162.6 616.4,161.9 617.0,162.0 617.7,162.4 618.4,163.3 619.0,163.9 619.7,163.8 620.4,163.9 621.1,163.9 621.7,164.3 622.4,165.0 623.1,164.9 623.7,165.2 624.4,164.4 625.1,164.3 625.8,164.3 626.4,165.5 627.1,165.2 627.8,164.8 628.5,164.2 629.1,165.0 629.8,165.5 630.5,166.0 631.1,165.5 631.8,165.7 632.5,166.1 633.2,167.2 633.8,168.3 634.5,167.7 635.2,167.4 635.8,166.0 636.5,165.7 637.2,166.3 637.9,167.0 638.5,167.5 639.2,167.1 639.9,167.6 640.5,167.8 641.2,168.1 641.9,167.6 642.6,168.0 643.2,168.4 643.9,169.2 644.6,169.5 645.2,169.8 645.9,169.9 646.6,169.7 647.3,169.4 647.9,169.0 648.6,168.9 649.3,169.0 649.9,170.0 650.6,170.4 651.3,170.4 652.0,170.6 652.6,171.3 653.3,172.2 654.0,172.3 654.6,172.2 655.3,172.3 656.0,172.0 656.7,172.4 657.3,172.3 658.0,172.7 658.7,172.8 659.4,172.5 660.0,172.4 660.7,171.9 661.4,172.5 662.0,172.3 662.7,172.3 663.4,172.2 664.1,173.1 664.7,172.9 665.4,172.4 666.1,171.6 666.7,171.5 667.4,171.4 668.1,171.1 668.8,171.2 669.4,170.9 670.1,170.5 670.8,170.0 671.4,170.0 672.1,169.1 672.8,168.3 673.5,167.7 674.1,168.3 674.8,169.1 675.5,169.2 676.1,168.8 676.8,167.2 677.5,167.1 678.2,166.9 678.8,166.4 679.5,165.2 680.2,164.5 680.8,164.5 681.5,164.4 682.2,164.3 682.9,164.2 683.5,163.6 684.2,163.6 684.9,163.0 685.5,163.6 686.2,163.2 686.9,162.3 687.6,161.6 688.2,160.9 688.9,162.0 689.6,161.6 690.3,161.8 690.9,161.3 691.6,160.6 692.3,159.5 692.9,158.8 693.6,158.1 694.3,158.6 695.0,158.1 695.6,158.2 696.3,157.2 697.0,157.6 697.6,157.6 698.3,157.3 699.0,156.6 699.7,156.2 700.3,156.6 701.0,156.6" fill="none" stroke="#3F8F2A" stroke-width="1.6" stroke-linejoin="round" stroke-miterlimit="10" stroke-linecap="round"/>
<polyline points="463.2,304.5 463.5,304.5 463.7,304.5 463.9,304.5 464.0,304.5 464.3,304.5 464.5,304.5 464.8,304.5 465.1,304.5 465.2,304.5 465.4,304.5 465.6,304.5 465.9,304.5 465.9,304.5 466.2,304.5 466.4,304.5 466.6,304.5 466.7,304.5 467.0,304.5 467.2,304.5 467.2,304.5 467.5,304.5 467.8,304.5 467.9,304.5 468.0,304.5 468.3,304.5 468.6,304.5 468.6,304.5 468.8,304.5 469.1,304.5 469.2,304.5 469.4,304.5 469.6,304.5 469.9,304.5 469.9,304.5 470.2,304.5 470.5,304.5 470.6,304.5 470.7,304.5 471.0,304.5 471.3,304.5 471.3,304.5 471.5,304.5 471.8,304.5 471.9,304.5 472.1,304.5 472.3,304.5 472.6,304.5 472.6,304.5 472.9,304.5 473.1,304.5 473.3,304.5 473.4,304.5 473.7,304.5 473.9,304.5 473.9,304.5 474.2,304.5 474.5,304.5 474.6,304.5 474.8,304.5 475.0,304.5 475.3,304.5 475.3,304.5 475.6,304.5 475.8,304.5 476.0,304.5 476.1,304.5 476.4,304.4 476.6,304.1 476.6,304.1 476.9,303.7 477.2,303.2 477.3,302.9 477.4,302.6 477.7,301.8 478.0,301.0 478.0,301.0 478.2,300.1 478.5,297.9 478.7,296.0 478.8,293.6 479.1,287.6 479.3,280.5 479.3,280.5 479.6,272.5 479.9,264.2 480.0,260.1 480.1,255.6 480.4,244.6 480.7,231.6 480.7,231.6 480.9,217.4 481.2,202.8 481.3,195.5 481.5,188.5 481.7,175.2 482.0,163.8 482.0,163.8 482.3,153.8 482.5,144.4 482.7,139.8 482.8,135.3 483.1,126.8 483.4,118.7 483.4,118.7 483.6,110.9 483.9,103.6 484.0,100.1 484.2,96.7 484.4,89.9 484.7,83.4 484.7,83.4 485.0,77.3 485.2,71.8 485.4,69.2 485.5,66.8 485.8,62.4 486.0,58.1 486.0,58.1 486.3,55.0 486.6,53.8 486.7,53.4 486.8,53.1 487.1,52.8 487.4,52.9 487.4,52.9 487.7,54.3 487.9,56.8 488.1,58.2 488.2,59.8 488.5,63.0 488.7,66.1 488.7,66.1 489.0,69.0 489.3,72.4 489.4,74.1 489.5,76.0 489.8,79.7 490.1,83.5 490.1,83.5 490.3,87.3 490.6,90.9 490.7,92.6 490.9,94.3 491.1,97.4 491.4,100.1 491.4,100.1 491.7,102.5 492.0,104.8 492.1,105.9 492.2,107.0 492.5,109.1 492.8,111.1 492.8,111.1 493.0,113.0 493.3,114.7 493.4,115.6 493.6,116.4 493.8,117.9 494.1,119.4 494.1,119.4 494.4,120.8 494.6,122.1 494.8,122.8 494.9,123.5 495.2,124.8 495.4,126.1 495.4,126.1 495.7,127.3 496.0,128.4 496.1,128.9 496.3,129.4 496.5,130.4 496.8,131.2 496.8,131.2 497.1,131.9 497.3,132.5 497.5,132.7 497.6,132.9 497.9,133.3 498.1,133.6 498.1,133.6 498.4,133.9 498.7,134.1 498.8,134.2 498.9,134.3 499.2,134.5 499.5,134.7 499.5,134.7 499.7,134.9 500.0,135.0 500.1,135.1 500.3,135.2 500.5,135.4 500.8,135.6 500.8,135.6 501.1,135.8 501.4,136.1 501.5,136.2 501.6,136.4 501.9,136.7 502.2,137.1 502.2,137.1 502.4,137.7 502.7,138.4 502.8,138.8 503.0,139.3 503.2,140.3 503.5,143.0 503.5,142.5 503.8,143.1 504.0,143.5 504.2,144.7 504.3,146.1 504.6,147.3 504.8,148.9 504.8,148.3 505.1,150.3 505.4,152.8 505.5,154.6 505.7,155.6 505.9,157.8 506.2,159.3 506.9,164.1 507.5,168.4 508.2,172.6 508.9,177.1 509.6,180.8 510.2,185.8 510.9,191.2 511.6,196.9 512.2,201.1 512.9,204.7 513.6,207.1 514.3,210.2 514.9,212.2 515.6,214.2 516.3,214.9 516.9,215.7 517.6,215.3 518.3,214.3 519.0,212.8 519.6,211.3 520.3,209.2 521.0,208.1 521.6,207.0 522.3,206.0 523.0,204.7 523.7,203.5 524.3,202.8 525.0,201.2 525.7,200.3 526.3,200.4 527.0,200.3 527.7,199.8 528.4,198.2 529.0,197.4 529.7,196.2 530.4,195.5 531.0,195.5 531.7,195.8 532.4,196.4 533.1,194.9 533.7,194.3 534.4,193.2 535.1,193.9 535.7,193.6 536.4,193.0 537.1,192.2 537.8,191.8 538.4,191.8 539.1,190.6 539.8,190.3 540.5,190.3 541.1,190.8 541.8,190.4 542.5,189.7 543.1,189.3 543.8,189.3 544.5,189.0 545.2,188.5 545.8,188.4 546.5,187.4 547.2,186.6 547.8,186.5 548.5,187.1 549.2,187.0 549.9,185.6 550.5,184.6 551.2,185.3 551.9,185.9 552.5,186.5 553.2,185.5 553.9,185.3 554.6,184.9 555.2,184.8 555.9,184.2 556.6,184.8 557.2,184.9 557.9,185.1 558.6,184.8 559.3,184.4 559.9,184.5 560.6,183.8 561.3,184.5 561.9,183.7 562.6,183.6 563.3,183.6 564.0,184.0 564.6,184.4 565.3,184.3 566.0,184.1 566.6,183.8 567.3,183.7 568.0,183.7 568.7,183.5 569.3,183.1 570.0,183.2 570.7,182.6 571.4,182.4 572.0,181.4 572.7,180.8 573.4,179.3 574.0,179.1 574.7,178.6 575.4,177.9 576.1,176.4 576.7,175.1 577.4,173.9 578.1,172.8 578.7,171.9 579.4,170.7 580.1,169.2 580.8,168.9 581.4,167.6 582.1,167.5 582.8,166.0 583.4,166.8 584.1,166.4 584.8,166.7 585.5,165.4 586.1,164.5 586.8,163.8 587.5,164.0 588.1,163.9 588.8,164.1 589.5,164.2 590.2,164.6 590.8,164.0 591.5,163.8 592.2,164.0 592.8,164.1 593.5,164.0 594.2,163.0 594.9,163.3 595.5,163.4 596.2,163.1 596.9,163.1 597.6,163.3 598.2,163.9 598.9,163.9 599.6,163.8 600.2,164.2 600.9,164.3 601.6,164.0 602.3,163.9 602.9,164.0 603.6,164.4 604.3,164.3 604.9,163.9 605.6,163.4 606.3,162.8 607.0,163.3 607.6,163.7 608.3,165.0 609.0,164.5 609.6,164.2 610.3,163.8 611.0,164.2 611.7,164.7 612.3,165.0 613.0,164.5 613.7,163.5 614.3,163.4 615.0,163.0 615.7,163.7 616.4,163.8 617.0,164.2 617.7,163.9 618.4,163.3 619.0,163.6 619.7,163.2 620.4,163.5 621.1,163.2 621.7,163.5 622.4,163.7 623.1,164.6 623.7,165.4 624.4,165.3 625.1,164.5 625.8,164.5 626.4,164.6 627.1,164.2 627.8,164.2 628.5,163.9 629.1,164.3 629.8,163.4 630.5,164.2 631.1,164.2 631.8,165.1 632.5,164.2 633.2,164.7 633.8,164.2 634.5,165.0 635.2,164.7 635.8,165.5 636.5,165.2 637.2,165.2 637.9,164.7 638.5,164.4 639.2,164.5 639.9,164.3 640.5,164.8 641.2,164.4 641.9,164.9 642.6,165.3 643.2,166.1 643.9,165.7 644.6,165.6 645.2,165.3 645.9,165.4 646.6,165.8 647.3,166.2 647.9,166.2 648.6,166.9 649.3,166.4 649.9,166.9 650.6,166.2 651.3,166.7 652.0,166.7 652.6,167.2 653.3,167.4 654.0,166.9 654.6,166.2 655.3,165.8 656.0,166.7 656.7,167.3 657.3,167.5 658.0,167.0 658.7,167.1 659.4,167.9 660.0,169.2 660.7,168.8 661.4,169.0 662.0,168.2 662.7,168.3 663.4,166.6 664.1,166.6 664.7,166.9 665.4,167.8 666.1,167.6 666.7,166.9 667.4,166.7 668.1,167.0 668.8,168.1 669.4,168.1 670.1,168.0 670.8,166.6 671.4,167.0 672.1,166.5 672.8,167.0 673.5,166.6 674.1,165.7 674.8,165.0 675.5,164.4 676.1,164.4 676.8,164.3 677.5,164.0 678.2,164.1 678.8,162.8 679.5,162.2 680.2,161.5 680.8,161.6 681.5,161.6 682.2,161.7 682.9,162.5 683.5,162.0 684.2,161.7 684.9,161.1 685.5,160.7 686.2,161.2 686.9,160.8 687.6,161.5 688.2,161.1 688.9,161.2 689.6,160.1 690.3,159.9 690.9,160.1 691.6,160.9 692.3,159.6 692.9,158.9 693.6,158.2 694.3,158.1 695.0,158.1 695.6,158.9 696.3,159.7 697.0,160.2 697.6,158.7 698.3,158.9 699.0,158.4 699.7,159.2 700.3,158.9 701.0,159.0" fill="none" stroke="#8A1EFF" stroke-width="1.6" stroke-linejoin="round" stroke-miterlimit="10" stroke-linecap="round"/>
<polyline points="432.3,304.5 433.0,304.5 433.6,304.5 434.3,304.5 435.0,304.5 435.7,304.5 436.3,304.5 437.0,304.5 437.7,304.5 438.3,304.5 439.0,304.5 439.7,304.5 440.4,304.5 441.0,304.5 441.7,304.5 442.4,304.5 443.0,304.5 443.7,304.5 444.4,304.5 445.1,304.5 445.7,304.5 446.4,304.5 447.1,304.5 447.8,304.5 448.4,304.5 449.1,304.5 449.8,304.5 450.4,304.5 451.1,304.5 451.8,304.5 452.5,304.5 453.1,304.5 453.8,304.5 454.5,304.5 455.1,304.5 455.8,304.5 456.5,304.5 457.2,304.5 457.8,304.5 458.5,304.5 459.2,304.5 459.8,304.5 460.5,304.5 461.2,304.5 461.9,304.5 462.1,304.5 462.4,304.5 462.5,304.5 462.7,304.5 462.9,304.5 463.2,304.5 463.5,304.5 463.7,304.4 463.9,303.9 464.0,303.2 464.3,301.2 464.5,298.6 464.8,292.5 465.1,281.5 465.2,274.7 465.4,267.5 465.6,251.1 465.9,226.7 465.9,226.7 466.2,200.1 466.4,178.6 466.6,170.5 466.7,162.7 467.0,148.7 467.2,137.9 467.2,137.9 467.5,131.1 467.8,125.5 467.9,123.4 468.0,122.0 468.3,122.8 468.6,131.8 468.6,131.8 468.8,144.6 469.1,163.6 469.2,175.2 469.4,186.0 469.6,207.6 469.9,227.0 469.9,227.0 470.2,237.9 470.5,245.6 470.6,248.8 470.7,251.7 471.0,256.4 471.3,260.1 471.3,260.1 471.5,263.0 471.8,265.6 471.9,266.6 472.1,267.5 472.3,269.0 472.6,270.0 472.6,270.0 472.9,271.0 473.1,271.9 473.3,272.3 473.4,272.6 473.7,273.3 473.9,273.9 473.9,273.9 474.2,274.5 474.5,275.0 474.6,275.3 474.8,275.5 475.0,275.9 475.3,276.4 475.3,276.4 475.6,276.8 475.8,277.2 476.0,277.4 476.1,277.6 476.4,278.0 476.6,278.4 476.6,278.4 476.9,278.8 477.2,279.1 477.3,279.3 477.4,279.5 477.7,279.8 478.0,280.1 478.0,280.1 478.2,280.4 478.5,280.7 478.7,280.8 478.8,280.9 479.1,281.1 479.3,281.3 479.3,281.3 479.6,281.4 479.9,281.5 480.0,281.5 480.1,281.5 480.4,281.5 480.7,281.5 480.7,281.5 480.9,281.4 481.2,281.3 481.3,281.2 481.5,281.1 481.7,280.9 482.0,280.7 482.0,280.7 482.3,280.5 482.5,280.2 482.7,280.1 482.8,279.9 483.1,279.6 483.4,279.3 483.4,279.3 483.6,279.0 483.9,278.5 484.0,278.2 484.2,277.9 484.4,277.2 484.7,276.5 484.7,276.5 485.0,275.7 485.2,274.8 485.4,274.4 485.5,273.9 485.8,272.9 486.0,271.9 486.0,271.9 486.3,270.8 486.6,269.5 486.7,268.7 486.8,268.0 487.1,266.4 487.4,264.7 487.4,264.7 487.7,262.9 487.9,261.0 488.1,260.1 488.2,259.2 488.5,257.4 488.7,255.6 488.7,255.6 489.0,253.9 489.3,252.3 489.4,251.5 489.5,250.7 489.8,249.1 490.1,247.4 490.1,247.4 490.3,245.5 490.6,243.5 490.7,242.4 490.9,241.3 491.1,238.7 491.4,235.3 491.4,235.3 491.7,231.2 492.0,226.9 492.1,224.8 492.2,222.7 492.5,218.8 492.8,215.6 492.8,215.6 493.0,212.9 493.3,210.1 493.4,208.7 493.6,207.3 493.8,204.7 494.1,202.3 494.1,202.3 494.4,200.2 494.6,198.7 494.8,198.1 494.9,197.6 495.2,197.3 495.4,197.6 495.4,197.6 495.7,198.3 496.0,199.5 496.1,200.2 496.3,200.9 496.5,202.3 496.8,203.8 496.8,203.8 497.1,205.5 497.3,207.7 497.5,208.9 497.6,210.2 497.9,213.0 498.1,215.8 498.1,215.8 498.4,218.6 498.7,221.3 498.8,222.5 498.9,223.6 499.2,225.5 499.5,226.9 499.5,226.9 499.7,227.5 500.0,227.7 500.1,227.8 500.3,227.9 500.5,228.1 500.8,228.2 500.8,228.2 501.1,228.3 501.4,228.4 501.5,228.4 501.6,228.4 501.9,228.3 502.2,228.2 502.2,228.2 502.4,228.0 502.7,227.7 502.8,227.6 503.0,227.5 503.2,227.2 503.5,227.4 503.5,226.7 503.8,225.9 504.0,224.6 504.2,224.0 504.3,224.9 504.6,225.1 504.8,225.9 504.8,225.8 505.1,226.3 505.4,226.2 505.5,225.5 505.7,224.6 505.9,223.6 506.2,223.5 506.9,223.5 507.5,224.2 508.2,224.6 508.9,224.6 509.6,223.9 510.2,224.0 510.9,224.6 511.6,225.8 512.2,225.6 512.9,225.4 513.6,225.0 514.3,225.0 514.9,223.7 515.6,222.6 516.3,220.5 516.9,219.0 517.6,216.8 518.3,215.1 519.0,213.4 519.6,210.7 520.3,209.3 521.0,207.8 521.6,207.8 522.3,207.1 523.0,205.7 523.7,203.6 524.3,202.4 525.0,202.0 525.7,201.6 526.3,200.6 527.0,200.8 527.7,200.4 528.4,199.9 529.0,198.4 529.7,198.6 530.4,197.9 531.0,197.3 531.7,196.8 532.4,196.5 533.1,196.7 533.7,196.2 534.4,196.3 535.1,195.8 535.7,195.5 536.4,194.5 537.1,194.1 537.8,193.9 538.4,193.5 539.1,192.9 539.8,191.8 540.5,192.0 541.1,191.5 541.8,191.5 542.5,191.3 543.1,191.0 543.8,190.3 544.5,189.2 545.2,188.2 545.8,187.7 546.5,186.2 547.2,185.0 547.8,182.6 548.5,180.6 549.2,178.5 549.9,176.7 550.5,174.3 551.2,171.9 551.9,169.2 552.5,167.2 553.2,166.3 553.9,166.9 554.6,168.6 555.2,170.3 555.9,171.9 556.6,173.8 557.2,175.0 557.9,175.2 558.6,174.7 559.3,173.5 559.9,172.8 560.6,171.9 561.3,172.0 561.9,171.3 562.6,171.4 563.3,171.0 564.0,171.6 564.6,171.3 565.3,171.0 566.0,170.4 566.6,170.0 567.3,170.4 568.0,170.4 568.7,170.2 569.3,169.7 570.0,169.8 570.7,170.4 571.4,170.6 572.0,170.4 572.7,169.7 573.4,169.3 574.0,169.3 574.7,170.0 575.4,170.5 576.1,169.6 576.7,169.5 577.4,169.0 578.1,170.0 578.7,169.7 579.4,169.9 580.1,169.7 580.8,169.3 581.4,169.5 582.1,169.5 582.8,170.2 583.4,169.9 584.1,170.6 584.8,170.7 585.5,171.6 586.1,172.3 586.8,173.3 587.5,173.6 588.1,173.7 588.8,173.7 589.5,173.3 590.2,173.7 590.8,173.7 591.5,174.4 592.2,174.5 592.8,175.3 593.5,175.4 594.2,175.2 594.9,175.2 595.5,175.5 596.2,175.8 596.9,176.2 597.6,176.0 598.2,175.8 598.9,174.6 599.6,174.9 600.2,175.0 600.9,175.3 601.6,174.7 602.3,174.2 602.9,173.8 603.6,173.3 604.3,172.8 604.9,172.2 605.6,172.3 606.3,171.8 607.0,172.4 607.6,170.9 608.3,170.4 609.0,169.5 609.6,169.3 610.3,169.3 611.0,168.5 611.7,168.2 612.3,167.6 613.0,167.3 613.7,167.0 614.3,166.8 615.0,166.5 615.7,166.7 616.4,166.9 617.0,165.8 617.7,164.9 618.4,164.5 619.0,164.6 619.7,164.6 620.4,164.6 621.1,164.9 621.7,164.9 622.4,163.4 623.1,162.6 623.7,162.1 624.4,162.5 625.1,162.4 625.8,163.1 626.4,162.9 627.1,162.9 627.8,162.9 628.5,162.9 629.1,162.6 629.8,161.4 630.5,160.9 631.1,161.6 631.8,162.2 632.5,162.8 633.2,162.0 633.8,162.2 634.5,162.3 635.2,163.3 635.8,162.8 636.5,162.2 637.2,161.8 637.9,162.1 638.5,162.3 639.2,161.5 639.9,161.7 640.5,161.6 641.2,161.9 641.9,161.3 642.6,160.8 643.2,160.5 643.9,160.5 644.6,160.4 645.2,160.2 645.9,160.2 646.6,160.6 647.3,161.3 647.9,161.3 648.6,161.7 649.3,161.6 649.9,161.7 650.6,162.0 651.3,161.9 652.0,162.0 652.6,161.3 653.3,161.0 654.0,160.7 654.6,160.3 655.3,159.9 656.0,160.4 656.7,161.6 657.3,162.2 658.0,162.1 658.7,162.1 659.4,162.4 660.0,162.7 660.7,162.2 661.4,161.2 662.0,160.0 662.7,160.1 663.4,160.8 664.1,161.9 664.7,162.1 665.4,161.9 666.1,161.5 666.7,161.1 667.4,160.9 668.1,161.0 668.8,160.4 669.4,160.8 670.1,160.4 670.8,160.9 671.4,160.7 672.1,160.8 672.8,161.2 673.5,161.5 674.1,161.7 674.8,161.4 675.5,161.0 676.1,161.3 676.8,161.6 677.5,161.8 678.2,161.4 678.8,161.2 679.5,160.8 680.2,160.7 680.8,160.1 681.5,160.2 682.2,160.8 682.9,160.4 683.5,160.9 684.2,160.5 684.9,160.9 685.5,160.6 686.2,160.7 686.9,161.2 687.6,161.5 688.2,161.5 688.9,160.8 689.6,160.9 690.3,160.7 690.9,161.0 691.6,160.8 692.3,161.2 692.9,161.4 693.6,162.1 694.3,161.8 695.0,161.7 695.6,161.3 696.3,161.2 697.0,161.2 697.6,161.3 698.3,161.2 699.0,161.5 699.7,160.5 700.3,161.2 701.0,161.0" fill="none" stroke="#FF9A3C" stroke-width="1.6" stroke-linejoin="round" stroke-miterlimit="10" stroke-linecap="round"/>
</g>
<line x1="432.3" y1="8.3" x2="432.3" y2="312.4" stroke="#000" stroke-width="1.2"/>
<line x1="431.6" y1="311.7" x2="701.7" y2="311.7" stroke="#000" stroke-width="1.2"/>
<line x1="431.6" y1="8.3" x2="701.7" y2="8.3" stroke="#000" stroke-width="1.2"/>
<line x1="701" y1="8.3" x2="701" y2="311.7" stroke="#000" stroke-width="1.2"/>
<line x1="426.3" y1="304.5" x2="432.3" y2="304.5" stroke="#000" stroke-width="1.2"/>
<text x="422.5" y="309.1" font-size="15" text-anchor="end" >0.0</text>
<line x1="429.3" y1="274.88" x2="432.3" y2="274.88" stroke="#000" stroke-width="1.2"/>
<line x1="426.3" y1="245.26" x2="432.3" y2="245.26" stroke="#000" stroke-width="1.2"/>
<text x="422.5" y="249.86" font-size="15" text-anchor="end" >0.4</text>
<line x1="429.3" y1="215.64" x2="432.3" y2="215.64" stroke="#000" stroke-width="1.2"/>
<line x1="426.3" y1="186.02" x2="432.3" y2="186.02" stroke="#000" stroke-width="1.2"/>
<text x="422.5" y="190.62" font-size="15" text-anchor="end" >0.8</text>
<line x1="429.3" y1="156.4" x2="432.3" y2="156.4" stroke="#000" stroke-width="1.2"/>
<line x1="426.3" y1="126.78" x2="432.3" y2="126.78" stroke="#000" stroke-width="1.2"/>
<text x="422.5" y="131.38" font-size="15" text-anchor="end" >1.2</text>
<line x1="429.3" y1="97.16" x2="432.3" y2="97.16" stroke="#000" stroke-width="1.2"/>
<line x1="426.3" y1="67.54" x2="432.3" y2="67.54" stroke="#000" stroke-width="1.2"/>
<text x="422.5" y="72.14" font-size="15" text-anchor="end" >1.6</text>
<line x1="429.3" y1="37.92" x2="432.3" y2="37.92" stroke="#000" stroke-width="1.2"/>
<line x1="426.3" y1="8.3" x2="432.3" y2="8.3" stroke="#000" stroke-width="1.2"/>
<text x="422.5" y="12.9" font-size="15" text-anchor="end" >2.0</text>
<line x1="432.3" y1="311.7" x2="432.3" y2="317.7" stroke="#000" stroke-width="1.2"/>
<line x1="432.3" y1="8.3" x2="432.3" y2="14.3" stroke="#000" stroke-width="1.2"/>
<text x="432.3" y="333" font-size="15" text-anchor="middle" >0</text>
<line x1="459.17" y1="311.7" x2="459.17" y2="314.7" stroke="#000" stroke-width="1.2"/>
<line x1="459.17" y1="8.3" x2="459.17" y2="11.3" stroke="#000" stroke-width="1.2"/>
<line x1="486.04" y1="311.7" x2="486.04" y2="317.7" stroke="#000" stroke-width="1.2"/>
<line x1="486.04" y1="8.3" x2="486.04" y2="14.3" stroke="#000" stroke-width="1.2"/>
<text x="486.04" y="333" font-size="15" text-anchor="middle" >4</text>
<line x1="512.91" y1="311.7" x2="512.91" y2="314.7" stroke="#000" stroke-width="1.2"/>
<line x1="512.91" y1="8.3" x2="512.91" y2="11.3" stroke="#000" stroke-width="1.2"/>
<line x1="539.78" y1="311.7" x2="539.78" y2="317.7" stroke="#000" stroke-width="1.2"/>
<line x1="539.78" y1="8.3" x2="539.78" y2="14.3" stroke="#000" stroke-width="1.2"/>
<text x="539.78" y="333" font-size="15" text-anchor="middle" >8</text>
<line x1="566.65" y1="311.7" x2="566.65" y2="314.7" stroke="#000" stroke-width="1.2"/>
<line x1="566.65" y1="8.3" x2="566.65" y2="11.3" stroke="#000" stroke-width="1.2"/>
<line x1="593.52" y1="311.7" x2="593.52" y2="317.7" stroke="#000" stroke-width="1.2"/>
<line x1="593.52" y1="8.3" x2="593.52" y2="14.3" stroke="#000" stroke-width="1.2"/>
<text x="593.52" y="333" font-size="15" text-anchor="middle" >12</text>
<line x1="620.39" y1="311.7" x2="620.39" y2="314.7" stroke="#000" stroke-width="1.2"/>
<line x1="620.39" y1="8.3" x2="620.39" y2="11.3" stroke="#000" stroke-width="1.2"/>
<line x1="647.26" y1="311.7" x2="647.26" y2="317.7" stroke="#000" stroke-width="1.2"/>
<line x1="647.26" y1="8.3" x2="647.26" y2="14.3" stroke="#000" stroke-width="1.2"/>
<text x="647.26" y="333" font-size="15" text-anchor="middle" >16</text>
<line x1="674.13" y1="311.7" x2="674.13" y2="314.7" stroke="#000" stroke-width="1.2"/>
<line x1="674.13" y1="8.3" x2="674.13" y2="11.3" stroke="#000" stroke-width="1.2"/>
<line x1="701" y1="311.7" x2="701" y2="317.7" stroke="#000" stroke-width="1.2"/>
<line x1="701" y1="8.3" x2="701" y2="14.3" stroke="#000" stroke-width="1.2"/>
<text x="701" y="333" font-size="15" text-anchor="middle" >20</text>
<line x1="695" y1="8.3" x2="701" y2="8.3" stroke="#000" stroke-width="1.2"/>
<line x1="698" y1="38.64" x2="701" y2="38.64" stroke="#000" stroke-width="1.2"/>
<line x1="695" y1="68.98" x2="701" y2="68.98" stroke="#000" stroke-width="1.2"/>
<line x1="698" y1="99.32" x2="701" y2="99.32" stroke="#000" stroke-width="1.2"/>
<line x1="695" y1="129.66" x2="701" y2="129.66" stroke="#000" stroke-width="1.2"/>
<line x1="698" y1="160" x2="701" y2="160" stroke="#000" stroke-width="1.2"/>
<line x1="695" y1="190.34" x2="701" y2="190.34" stroke="#000" stroke-width="1.2"/>
<line x1="698" y1="220.68" x2="701" y2="220.68" stroke="#000" stroke-width="1.2"/>
<line x1="695" y1="251.02" x2="701" y2="251.02" stroke="#000" stroke-width="1.2"/>
<line x1="698" y1="281.36" x2="701" y2="281.36" stroke="#000" stroke-width="1.2"/>
<line x1="695" y1="311.7" x2="701" y2="311.7" stroke="#000" stroke-width="1.2"/>
<text x="566.7" y="359.6" font-size="17.8" text-anchor="middle" >r (&#197;)</text>
<text x="454.2" y="28.6" font-size="17.5" text-anchor="middle" >(b)</text>
<text transform="translate(381,193.2) rotate(-90)" font-size="16.8">g<tspan font-size="11.5" dy="5">lignin-cation</tspan><tspan dy="-5">(r)</tspan></text>
<line x1="565.5" y1="35.7" x2="597.3" y2="35.7" stroke="#505050" stroke-width="2.0"/>
<text x="601.5" y="39.8" font-size="14.3" text-anchor="start" >[TBA][Ala]</text>
<line x1="565.5" y1="53.3" x2="597.3" y2="53.3" stroke="#F5424B" stroke-width="2.0"/>
<text x="601.5" y="57.4" font-size="14.3" text-anchor="start" >[TBA][Gly]</text>
<line x1="565.5" y1="70.9" x2="597.3" y2="70.9" stroke="#1E8CFF" stroke-width="2.0"/>
<text x="601.5" y="75" font-size="14.3" text-anchor="start" >[TBA][Lys]</text>
<line x1="565.5" y1="88.5" x2="597.3" y2="88.5" stroke="#3F8F2A" stroke-width="2.0"/>
<text x="601.5" y="92.6" font-size="14.3" text-anchor="start" >[TBA][Ace]</text>
<line x1="565.5" y1="106.1" x2="597.3" y2="106.1" stroke="#8A1EFF" stroke-width="2.0"/>
<text x="601.5" y="110.2" font-size="14.3" text-anchor="start" >[TBA][Val]</text>
<line x1="565.5" y1="123.7" x2="597.3" y2="123.7" stroke="#FF9A3C" stroke-width="2.0"/>
<text x="601.5" y="127.8" font-size="14.3" text-anchor="start" >[Ch][Lys]</text>
</g>
<defs><clipPath id="clipL"><rect x="62.8" y="1.3" width="277.5" height="307.3"/></clipPath><clipPath id="clipI"><rect x="171.4" y="1.3" width="168.9" height="210.2"/></clipPath><clipPath id="clipR"><rect x="432.3" y="8.3" width="268.7" height="303.4"/></clipPath></defs>
</svg>
</body></html>
